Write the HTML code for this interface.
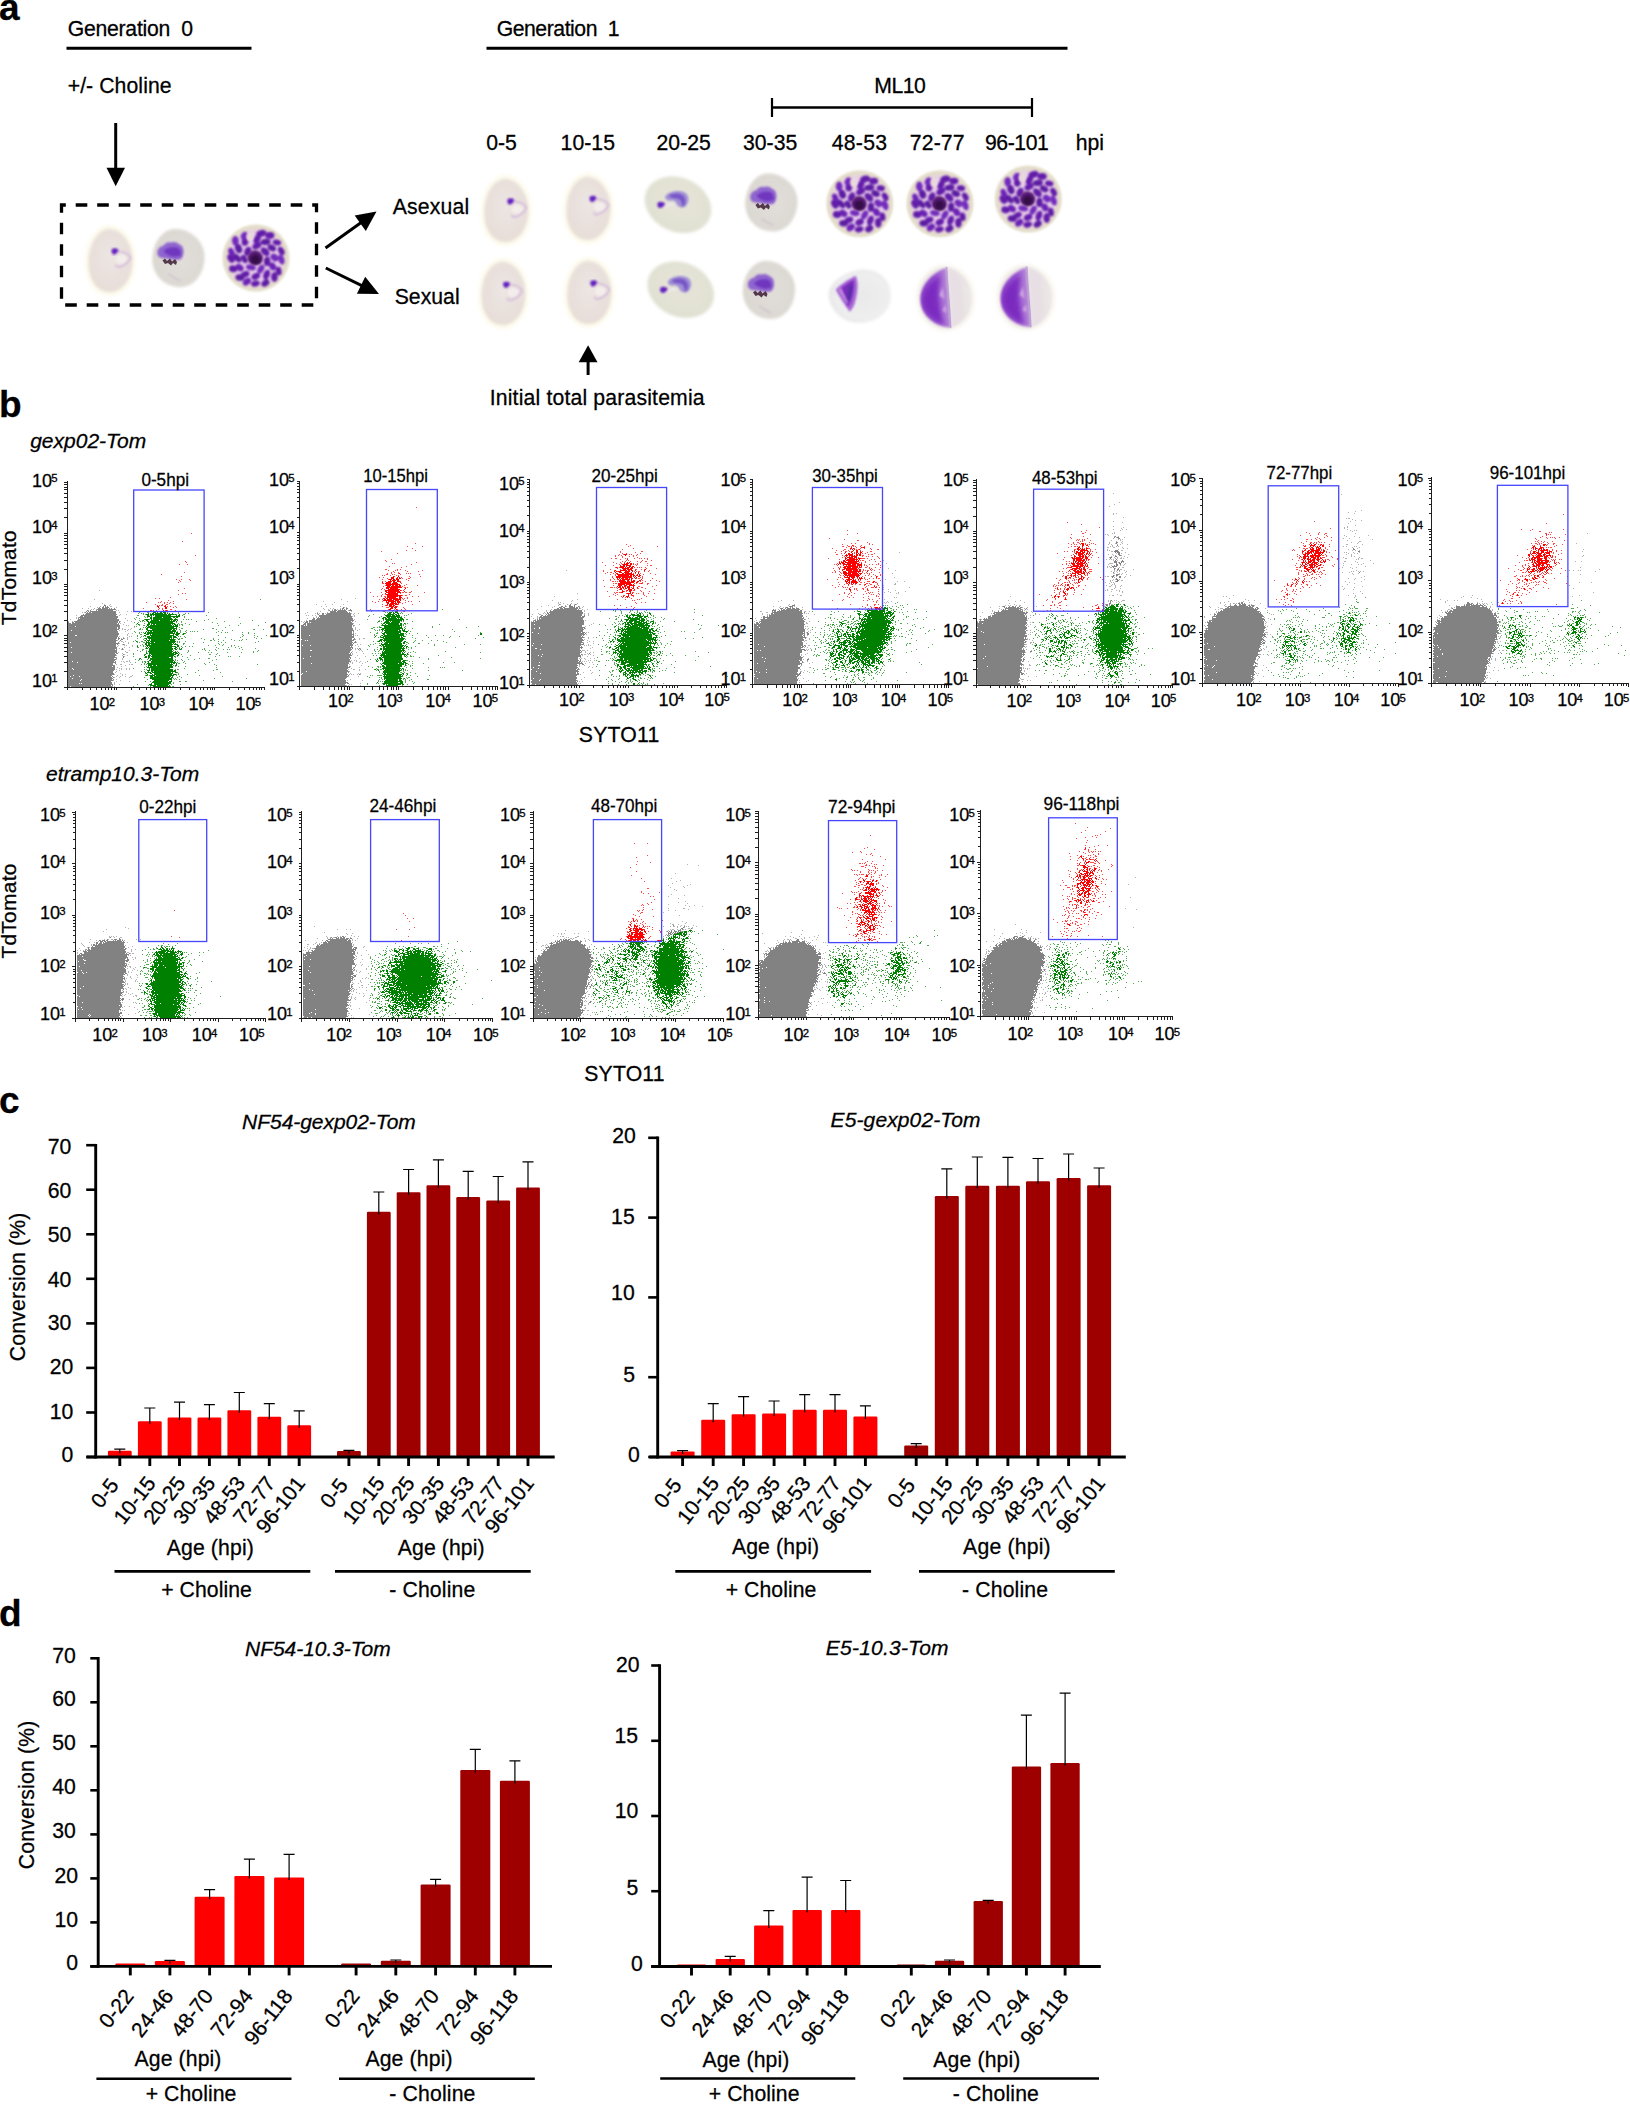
<!DOCTYPE html>
<html lang="en"><head><meta charset="utf-8"><title>Figure</title>
<style>html,body{margin:0;padding:0;background:#fff;}body{width:1630px;height:2104px;overflow:hidden;font-family:"Liberation Sans",Arial,sans-serif;}svg{display:block;}svg text{stroke:#000;stroke-width:.28px;}</style></head>
<body>
<svg width="1630" height="2104" viewBox="0 0 1630 2104" font-family="'Liberation Sans', Arial, sans-serif" fill="#000">
<defs><filter id="b05" x="-20%" y="-20%" width="140%" height="140%"><feGaussianBlur stdDeviation="0.5"/></filter><filter id="b08" x="-20%" y="-20%" width="140%" height="140%"><feGaussianBlur stdDeviation="0.8"/></filter><filter id="b1" x="-20%" y="-20%" width="140%" height="140%"><feGaussianBlur stdDeviation="1"/></filter><filter id="b15" x="-20%" y="-20%" width="140%" height="140%"><feGaussianBlur stdDeviation="1.5"/></filter><filter id="b2" x="-20%" y="-20%" width="140%" height="140%"><feGaussianBlur stdDeviation="2"/></filter><radialGradient id="gRing" cx=".5" cy=".45" r=".6"><stop offset="0" stop-color="#ece5e2"/><stop offset=".75" stop-color="#e8dfdb"/><stop offset="1" stop-color="#e7ddd4"/></radialGradient><radialGradient id="gTroph" cx=".5" cy=".45" r=".6"><stop offset="0" stop-color="#e6e4d9"/><stop offset=".8" stop-color="#e1e1d3"/><stop offset="1" stop-color="#dde0ce"/></radialGradient><radialGradient id="gLate" cx=".55" cy=".5" r=".6"><stop offset="0" stop-color="#e2deda"/><stop offset=".8" stop-color="#dcd8d2"/><stop offset="1" stop-color="#d6d2ca"/></radialGradient><radialGradient id="gGam1" cx=".55" cy=".5" r=".6"><stop offset="0" stop-color="#e9e9ea"/><stop offset=".7" stop-color="#eeeeef"/><stop offset="1" stop-color="#e4e4e6"/></radialGradient><linearGradient id="gGam2" x1="0" x2="1"><stop offset="0" stop-color="#8a3fc9"/><stop offset=".6" stop-color="#9652cf"/><stop offset="1" stop-color="#b78ad8"/></linearGradient><linearGradient id="gGam2r" x1="0" x2="1"><stop offset="0" stop-color="#e9dfe6"/><stop offset=".5" stop-color="#e6dfe3"/><stop offset="1" stop-color="#eeeae8"/></linearGradient><g id="schiz"><circle r="33.5" fill="#e3ddc7" filter="url(#b1)"/><circle r="28.5" fill="#e7cfe8" filter="url(#b2)"/><g filter="url(#b08)"><ellipse cx="11.1" cy="3.4" rx="4.7" ry="3.2" fill="#5c1aa2" transform="rotate(93 11.1 3.4)"/><ellipse cx="4.9" cy="11.1" rx="4.8" ry="3.0" fill="#722cbc" transform="rotate(120 4.9 11.1)"/><ellipse cx="-5.1" cy="9.4" rx="4.9" ry="2.9" fill="#722cbc" transform="rotate(189 -5.1 9.4)"/><ellipse cx="-11.8" cy="1.0" rx="4.4" ry="2.9" fill="#5c1aa2" transform="rotate(236 -11.8 1.0)"/><ellipse cx="-8.2" cy="-6.7" rx="4.8" ry="3.4" fill="#621ea8" transform="rotate(293 -8.2 -6.7)"/><ellipse cx="0.8" cy="-12.2" rx="4.8" ry="3.2" fill="#641cac" transform="rotate(330 0.8 -12.2)"/><ellipse cx="9.1" cy="-6.3" rx="5.2" ry="3.4" fill="#621ea8" transform="rotate(405 9.1 -6.3)"/><ellipse cx="18.5" cy="-0.5" rx="4.3" ry="3.4" fill="#722cbc" transform="rotate(43 18.5 -0.5)"/><ellipse cx="16.6" cy="8.4" rx="4.2" ry="3.3" fill="#6c24b6" transform="rotate(60 16.6 8.4)"/><ellipse cx="10.6" cy="16.7" rx="5.2" ry="3.1" fill="#641cac" transform="rotate(111 10.6 16.7)"/><ellipse cx="-0.2" cy="18.4" rx="4.5" ry="3.1" fill="#641cac" transform="rotate(154 -0.2 18.4)"/><ellipse cx="-10.8" cy="16.2" rx="4.4" ry="3.0" fill="#641cac" transform="rotate(160 -10.8 16.2)"/><ellipse cx="-16.4" cy="9.6" rx="4.4" ry="3.2" fill="#6c24b6" transform="rotate(214 -16.4 9.6)"/><ellipse cx="-18.8" cy="0.2" rx="5.2" ry="2.9" fill="#5c1aa2" transform="rotate(229 -18.8 0.2)"/><ellipse cx="-17.4" cy="-9.4" rx="4.6" ry="3.4" fill="#5c1aa2" transform="rotate(249 -17.4 -9.4)"/><ellipse cx="-10.9" cy="-16.7" rx="4.5" ry="3.4" fill="#621ea8" transform="rotate(277 -10.9 -16.7)"/><ellipse cx="0.9" cy="-18.8" rx="4.4" ry="3.3" fill="#641cac" transform="rotate(306 0.9 -18.8)"/><ellipse cx="9.6" cy="-16.1" rx="5.2" ry="3.2" fill="#5c1aa2" transform="rotate(353 9.6 -16.1)"/><ellipse cx="15.8" cy="-10.2" rx="4.5" ry="3.0" fill="#5c1aa2" transform="rotate(388 15.8 -10.2)"/><ellipse cx="25.3" cy="1.6" rx="5.1" ry="3.0" fill="#722cbc" transform="rotate(71 25.3 1.6)"/><ellipse cx="22.7" cy="13.1" rx="4.3" ry="2.9" fill="#621ea8" transform="rotate(81 22.7 13.1)"/><ellipse cx="18.4" cy="19.0" rx="5.0" ry="3.3" fill="#621ea8" transform="rotate(89 18.4 19.0)"/><ellipse cx="9.4" cy="25.1" rx="4.3" ry="3.2" fill="#5c1aa2" transform="rotate(148 9.4 25.1)"/><ellipse cx="-0.6" cy="25.6" rx="4.4" ry="2.9" fill="#621ea8" transform="rotate(167 -0.6 25.6)"/><ellipse cx="-9.1" cy="23.8" rx="4.5" ry="3.2" fill="#6c24b6" transform="rotate(143 -9.1 23.8)"/><ellipse cx="-16.1" cy="19.5" rx="4.5" ry="3.3" fill="#5c1aa2" transform="rotate(182 -16.1 19.5)"/><ellipse cx="-22.8" cy="10.8" rx="4.2" ry="3.4" fill="#621ea8" transform="rotate(186 -22.8 10.8)"/><ellipse cx="-25.0" cy="0.5" rx="4.7" ry="3.3" fill="#621ea8" transform="rotate(241 -25.0 0.5)"/><ellipse cx="-24.5" cy="-5.8" rx="4.6" ry="2.9" fill="#6c24b6" transform="rotate(246 -24.5 -5.8)"/><ellipse cx="-20.6" cy="-17.2" rx="4.9" ry="3.4" fill="#722cbc" transform="rotate(267 -20.6 -17.2)"/><ellipse cx="-11.7" cy="-22.2" rx="4.2" ry="3.3" fill="#722cbc" transform="rotate(297 -11.7 -22.2)"/><ellipse cx="5.2" cy="-24.6" rx="5.2" ry="3.4" fill="#621ea8" transform="rotate(344 5.2 -24.6)"/><ellipse cx="13.8" cy="-22.6" rx="4.6" ry="3.4" fill="#641cac" transform="rotate(360 13.8 -22.6)"/><ellipse cx="20.9" cy="-15.5" rx="4.3" ry="2.9" fill="#641cac" transform="rotate(369 20.9 -15.5)"/><ellipse cx="25.3" cy="-7.0" rx="4.5" ry="2.9" fill="#621ea8" transform="rotate(421 25.3 -7.0)"/></g><ellipse cx="-6" cy="-21" rx="3.6" ry="4.4" fill="#ead9dc" filter="url(#b1)"/><path d="M-8 -3 c2 -5 8 -6 12 -3 c4 3 4 9 0 12 c-4 2 -9 1 -11 -2 c-2 -2 -2 -5 -1 -7z" fill="#5a1c78" filter="url(#b1)"/><circle cx="-0.5" cy="1.5" r="5" fill="#36104a" filter="url(#b1)"/></g><g id="gam2"><ellipse rx="28.5" ry="32.5" fill="#f3f0e6" filter="url(#b2)"/><ellipse rx="25.5" ry="30" fill="#ebe3e8" filter="url(#b1)"/><path d="M3 -30 C-12 -26 -25 -14 -25 1 C-25 16 -13 27 3 30 Z" fill="url(#gGam2)" filter="url(#b1)"/><path d="M-3 -22 C-13 -18 -22 -9 -22 2 C-22 13 -13 22 -3 26 C-9 12 -9 -10 -3 -22Z" fill="#7420bc" opacity=".8" filter="url(#b2)"/><path d="M-6 -3 l4 -8 l1 12z M-4 12 l4 -5 l0 8z" fill="#d9b8e6" opacity=".8" filter="url(#b08)"/><path d="M3.5 -31 C2 -12 4 12 3 30" stroke="#b79ad0" stroke-width="1.6" fill="none" filter="url(#b05)"/><path d="M5.5 -29 C5 -12 7 12 5 29 C17 24 24 12 24 0 C24 -13 16 -24 5.5 -29Z" fill="url(#gGam2r)" filter="url(#b1)"/></g></defs>
<text x="-1.0" y="20.0" font-size="37" font-weight="bold">a</text>
<text x="67.7" y="36.0" font-size="21.2" textLength="125.4" lengthAdjust="spacing">Generation&#160; 0</text>
<line x1="66.5" y1="48.2" x2="251.5" y2="48.2" stroke="#000" stroke-width="3.1"/>
<text x="67.7" y="93.0" font-size="21.2" textLength="103.9" lengthAdjust="spacing">+/- Choline</text>
<line x1="115.7" y1="123.0" x2="115.7" y2="169.7" stroke="#000" stroke-width="3"/><polygon points="115.7,186.2 106.5,167.7 125.0,167.7"/>
<rect x="61.5" y="205" width="255" height="100" fill="none" stroke="#000" stroke-width="3.3" stroke-dasharray="11.6 9.9" stroke-dashoffset="7.3"/>
<g transform="translate(110.5 260.5)"><path d="M-2 -35 C12 -36 25 -20 25 0 C25 20 14 35 -1 35 C-15 35 -25 22 -25 2 C-25 -18 -15 -34 -2 -35Z" fill="#fcf9e9" filter="url(#b2)"/><path d="M-2 -31.5 C10 -32.5 22 -18 22 0 C22 18 12 31.5 -1 31.5 C-13 31.5 -22 20 -22 2 C-22 -16 -13 -30.5 -2 -31.5Z" fill="url(#gRing)" filter="url(#b15)"/><ellipse cx="11.1" cy="-1.3" rx="5.5" ry="4.5" fill="#f4efee" opacity=".9" filter="url(#b1)"/><path d="M7.6 -9.3 c6 0 11 3 12.5 6.5 c-1 4 -7 8.5 -12 9.5 c-1.5 0 -2.5 -1 -3 -2.5" fill="none" stroke="#cfb0dc" stroke-width="1.5" opacity=".85" filter="url(#b08)"/><path d="M1.4 -11.2 c2 -1.6 5.5 -1 6.5 0.8 c-0.5 2.5 -2.5 4.3 -4.5 4.6 c-2 -0.6 -3 -3.4 -2 -5.4z" fill="#6420c0" filter="url(#b08)"/></g>
<g transform="translate(178.5 258.0)"><path d="M-4 -29 C10 -30 26 -18 26 -1 C26 15 16 29 2 29 C-12 29 -24 20 -26 4 C-27 -12 -18 -28 -4 -29Z" fill="url(#gLate)" filter="url(#b15)"/><g transform="translate(0 2.5)"><path d="M-21 -6 c-1 -5 2 -8 6 -9 c2 -3 5 -4 8 -3 c3 -1 6 0 8 2 c3 1 4 4 4 7 c0 4 -1 6 -3 8 c-5 1 -10 0 -14 -1 c-5 0 -8 -1 -9 -4z" fill="#8f66cf" filter="url(#b1)"/><path d="M-15 -9 c3 -4 8 -5 13 -4 c4 1 5 5 4 8 c-5 2 -12 1 -17 -4z" fill="#6a2ebc" opacity=".85" filter="url(#b1)"/><path d="M-16 0 l2.5 -2 l2 2.5 l3 -2.5 l2 3 l3 -2.5 l2 3 l-1 3 l-3 -2 l-2 2.5 l-3 -2.5 l-3 1z" fill="#3b1f33" opacity=".85" filter="url(#b05)"/></g><path d="M-10 16 c4 3 8 5 12 7" stroke="#bfa8cc" stroke-width="1.3" fill="none" opacity=".55" filter="url(#b08)"/></g>
<use href="#schiz" x="256" y="258"/>
<line x1="325.5" y1="248.0" x2="361.9" y2="222.0" stroke="#000" stroke-width="3"/><polygon points="376.5,211.5 365.8,230.9 354.7,215.4"/>
<line x1="325.8" y1="268.0" x2="362.8" y2="286.1" stroke="#000" stroke-width="3"/><polygon points="379.0,294.0 356.9,293.8 365.2,276.7"/>
<text x="392.7" y="214.0" font-size="21.2" textLength="76.4" lengthAdjust="spacing">Asexual</text>
<text x="394.7" y="304.0" font-size="21.2" textLength="64.9" lengthAdjust="spacing">Sexual</text>
<text x="496.7" y="36.0" font-size="21.2" textLength="122.9" lengthAdjust="spacing">Generation&#160; 1</text>
<line x1="486.5" y1="48.2" x2="1067.5" y2="48.2" stroke="#000" stroke-width="3.1"/>
<text x="874.3" y="93.0" font-size="21.2" textLength="51.5" lengthAdjust="spacing">ML10</text>
<line x1="772.0" y1="107.5" x2="1032.0" y2="107.5" stroke="#000" stroke-width="2.4"/>
<line x1="772.0" y1="98.0" x2="772.0" y2="117.0" stroke="#000" stroke-width="2.2"/>
<line x1="1032.0" y1="98.0" x2="1032.0" y2="117.0" stroke="#000" stroke-width="2.2"/>
<text x="486.3" y="150.0" font-size="21.2" textLength="30.6" lengthAdjust="spacing">0-5</text>
<text x="560.6" y="150.0" font-size="21.2" textLength="54.4" lengthAdjust="spacing">10-15</text>
<text x="656.5" y="150.0" font-size="21.2" textLength="54.4" lengthAdjust="spacing">20-25</text>
<text x="742.9" y="150.0" font-size="21.2" textLength="54.4" lengthAdjust="spacing">30-35</text>
<text x="831.7" y="150.0" font-size="21.2" textLength="55.3" lengthAdjust="spacing">48-53</text>
<text x="909.8" y="150.0" font-size="21.2" textLength="54.8" lengthAdjust="spacing">72-77</text>
<text x="984.9" y="150.0" font-size="21.2" textLength="63.9" lengthAdjust="spacing">96-101</text>
<text x="1075.8" y="150.0" font-size="21.2" textLength="28.1" lengthAdjust="spacing">hpi</text>
<g transform="translate(506.3 210.5)"><path d="M-2 -35 C12 -36 25 -20 25 0 C25 20 14 35 -1 35 C-15 35 -25 22 -25 2 C-25 -18 -15 -34 -2 -35Z" fill="#fcf9e9" filter="url(#b2)"/><path d="M-2 -31.5 C10 -32.5 22 -18 22 0 C22 18 12 31.5 -1 31.5 C-13 31.5 -22 20 -22 2 C-22 -16 -13 -30.5 -2 -31.5Z" fill="url(#gRing)" filter="url(#b15)"/><ellipse cx="11.1" cy="-1.3" rx="5.5" ry="4.5" fill="#f4efee" opacity=".9" filter="url(#b1)"/><path d="M7.6 -9.3 c6 0 11 3 12.5 6.5 c-1 4 -7 8.5 -12 9.5 c-1.5 0 -2.5 -1 -3 -2.5" fill="none" stroke="#cfb0dc" stroke-width="1.5" opacity=".85" filter="url(#b08)"/><path d="M1.4 -11.2 c2 -1.6 5.5 -1 6.5 0.8 c-0.5 2.5 -2.5 4.3 -4.5 4.6 c-2 -0.6 -3 -3.4 -2 -5.4z" fill="#6420c0" filter="url(#b08)"/></g>
<g transform="translate(588.5 208.5)"><path d="M-2 -35 C12 -36 25 -20 25 0 C25 20 14 35 -1 35 C-15 35 -25 22 -25 2 C-25 -18 -15 -34 -2 -35Z" fill="#fcf9e9" filter="url(#b2)"/><path d="M-2 -31.5 C10 -32.5 22 -18 22 0 C22 18 12 31.5 -1 31.5 C-13 31.5 -22 20 -22 2 C-22 -16 -13 -30.5 -2 -31.5Z" fill="url(#gRing)" filter="url(#b15)"/><ellipse cx="11.1" cy="-1.8" rx="5.5" ry="4.5" fill="#f4efee" opacity=".9" filter="url(#b1)"/><path d="M7.6 -9.8 c6 0 11 3 12.5 6.5 c-1 4 -7 8.5 -12 9.5 c-1.5 0 -2.5 -1 -3 -2.5" fill="none" stroke="#cfb0dc" stroke-width="1.5" opacity=".85" filter="url(#b08)"/><path d="M1.4 -11.7 c2 -1.6 5.5 -1 6.5 0.8 c-0.5 2.5 -2.5 4.3 -4.5 4.6 c-2 -0.6 -3 -3.4 -2 -5.4z" fill="#6420c0" filter="url(#b08)"/></g>
<g transform="translate(678.0 204.7)"><ellipse rx="34.5" ry="27" fill="url(#gTroph)" filter="url(#b15)" transform="rotate(24)"/><path d="M-13 -8 c3 -5 12 -7 18 -5 c6 2 7 9 3 14 c-3 3 -7 2 -9 -1 c-1 -3 -3 -5 -7 -4 c-3 0 -5 -2 -5 -4z" fill="#9a86d6" opacity=".9" filter="url(#b1)"/><path d="M-9 -9 c4 -3 11 -3 14 0 c3 3 3 8 0 11 c-2 -3 -1 -7 -5 -8 c-3 -1 -7 0 -9 -3z" fill="#6f4cc4" opacity=".85" filter="url(#b1)"/><path d="M-14 2 l9 -3" stroke="#efe9ee" stroke-width="3" opacity=".8" filter="url(#b1)"/><path d="M-20 -2.2 c2 -1.4 5.5 -0.6 7 1.2 c-0.8 2.4 -3 4.2 -5.5 4.2 c-2.2 -0.8 -2.8 -3.4 -1.5 -5.4z" fill="#6420c0" filter="url(#b08)"/></g>
<g transform="translate(771.4 202.5)"><path d="M-4 -29 C10 -30 26 -18 26 -1 C26 15 16 29 2 29 C-12 29 -24 20 -26 4 C-27 -12 -18 -28 -4 -29Z" fill="url(#gLate)" filter="url(#b15)"/><g transform="translate(0 2.5)"><path d="M-21 -6 c-1 -5 2 -8 6 -9 c2 -3 5 -4 8 -3 c3 -1 6 0 8 2 c3 1 4 4 4 7 c0 4 -1 6 -3 8 c-5 1 -10 0 -14 -1 c-5 0 -8 -1 -9 -4z" fill="#8f66cf" filter="url(#b1)"/><path d="M-15 -9 c3 -4 8 -5 13 -4 c4 1 5 5 4 8 c-5 2 -12 1 -17 -4z" fill="#6a2ebc" opacity=".85" filter="url(#b1)"/><path d="M-16 0 l2.5 -2 l2 2.5 l3 -2.5 l2 3 l3 -2.5 l2 3 l-1 3 l-3 -2 l-2 2.5 l-3 -2.5 l-3 1z" fill="#3b1f33" opacity=".85" filter="url(#b05)"/></g><path d="M-10 16 c4 3 8 5 12 7" stroke="#bfa8cc" stroke-width="1.3" fill="none" opacity=".55" filter="url(#b08)"/></g>
<use href="#schiz" x="859.8" y="203.7"/>
<use href="#schiz" x="940" y="203.7"/>
<use href="#schiz" x="1028.3" y="199"/>
<g transform="translate(503.5 293.5)"><path d="M-2 -35 C12 -36 25 -20 25 0 C25 20 14 35 -1 35 C-15 35 -25 22 -25 2 C-25 -18 -15 -34 -2 -35Z" fill="#fcf9e9" filter="url(#b2)"/><path d="M-2 -31.5 C10 -32.5 22 -18 22 0 C22 18 12 31.5 -1 31.5 C-13 31.5 -22 20 -22 2 C-22 -16 -13 -30.5 -2 -31.5Z" fill="url(#gRing)" filter="url(#b15)"/><ellipse cx="9.7" cy="-1.0" rx="5.5" ry="4.5" fill="#f4efee" opacity=".9" filter="url(#b1)"/><path d="M6.2 -9.0 c6 0 11 3 12.5 6.5 c-1 4 -7 8.5 -12 9.5 c-1.5 0 -2.5 -1 -3 -2.5" fill="none" stroke="#cfb0dc" stroke-width="1.5" opacity=".85" filter="url(#b08)"/><path d="M0.0 -10.9 c2 -1.6 5.5 -1 6.5 0.8 c-0.5 2.5 -2.5 4.3 -4.5 4.6 c-2 -0.6 -3 -3.4 -2 -5.4z" fill="#6420c0" filter="url(#b08)"/></g>
<g transform="translate(589.3 292.5)"><path d="M-2 -35 C12 -36 25 -20 25 0 C25 20 14 35 -1 35 C-15 35 -25 22 -25 2 C-25 -18 -15 -34 -2 -35Z" fill="#fcf9e9" filter="url(#b2)"/><path d="M-2 -31.5 C10 -32.5 22 -18 22 0 C22 18 12 31.5 -1 31.5 C-13 31.5 -22 20 -22 2 C-22 -16 -13 -30.5 -2 -31.5Z" fill="url(#gRing)" filter="url(#b15)"/><ellipse cx="11.1" cy="-1.3" rx="5.5" ry="4.5" fill="#f4efee" opacity=".9" filter="url(#b1)"/><path d="M7.6 -9.3 c6 0 11 3 12.5 6.5 c-1 4 -7 8.5 -12 9.5 c-1.5 0 -2.5 -1 -3 -2.5" fill="none" stroke="#cfb0dc" stroke-width="1.5" opacity=".85" filter="url(#b08)"/><path d="M1.4 -11.2 c2 -1.6 5.5 -1 6.5 0.8 c-0.5 2.5 -2.5 4.3 -4.5 4.6 c-2 -0.6 -3 -3.4 -2 -5.4z" fill="#6420c0" filter="url(#b08)"/></g>
<g transform="translate(680.7 289.7)"><ellipse rx="34.5" ry="27" fill="url(#gTroph)" filter="url(#b15)" transform="rotate(24)"/><path d="M-13 -8 c3 -5 12 -7 18 -5 c6 2 7 9 3 14 c-3 3 -7 2 -9 -1 c-1 -3 -3 -5 -7 -4 c-3 0 -5 -2 -5 -4z" fill="#9a86d6" opacity=".9" filter="url(#b1)"/><path d="M-9 -9 c4 -3 11 -3 14 0 c3 3 3 8 0 11 c-2 -3 -1 -7 -5 -8 c-3 -1 -7 0 -9 -3z" fill="#6f4cc4" opacity=".85" filter="url(#b1)"/><path d="M-14 2 l9 -3" stroke="#efe9ee" stroke-width="3" opacity=".8" filter="url(#b1)"/><path d="M-20 -2.2 c2 -1.4 5.5 -0.6 7 1.2 c-0.8 2.4 -3 4.2 -5.5 4.2 c-2.2 -0.8 -2.8 -3.4 -1.5 -5.4z" fill="#6420c0" filter="url(#b08)"/></g>
<g transform="translate(769.0 290.0)"><path d="M-4 -29 C10 -30 26 -18 26 -1 C26 15 16 29 2 29 C-12 29 -24 20 -26 4 C-27 -12 -18 -28 -4 -29Z" fill="url(#gLate)" filter="url(#b15)"/><g transform="translate(0 2.5)"><path d="M-21 -6 c-1 -5 2 -8 6 -9 c2 -3 5 -4 8 -3 c3 -1 6 0 8 2 c3 1 4 4 4 7 c0 4 -1 6 -3 8 c-5 1 -10 0 -14 -1 c-5 0 -8 -1 -9 -4z" fill="#8f66cf" filter="url(#b1)"/><path d="M-15 -9 c3 -4 8 -5 13 -4 c4 1 5 5 4 8 c-5 2 -12 1 -17 -4z" fill="#6a2ebc" opacity=".85" filter="url(#b1)"/><path d="M-16 0 l2.5 -2 l2 2.5 l3 -2.5 l2 3 l3 -2.5 l2 3 l-1 3 l-3 -2 l-2 2.5 l-3 -2.5 l-3 1z" fill="#3b1f33" opacity=".85" filter="url(#b05)"/></g><path d="M-10 16 c4 3 8 5 12 7" stroke="#bfa8cc" stroke-width="1.3" fill="none" opacity=".55" filter="url(#b08)"/></g>
<g transform="translate(859.7 295.8)"><path d="M-31 1 c-1 -9 6 -17 14 -21 c8 -5 20 -8 30 -5 c10 3 18 12 18 24 c1 12 -8 22 -19 26 c-9 3 -21 3 -28 -2 c-8 -5 -14 -13 -15 -22z" fill="url(#gGam1)" filter="url(#b15)"/><path d="M-24 -6 c4 -5 12 -10 20 -14 c3 6 2 16 0 24 c-1 5 -3 9 -6 12 c-4 -6 -10 -14 -14 -22z" fill="#a866d6" filter="url(#b1)"/><path d="M-18 -8 c4 -3 8 -6 12 -8 c1 6 0 13 -2 19 c-1 3 -2 6 -4 8 c-2 -6 -4 -13 -6 -19z" fill="#7228b8" opacity=".9" filter="url(#b1)"/><path d="M-8 -10 l-4 15" stroke="#33308f" stroke-width="2" opacity=".7" filter="url(#b08)"/><path d="M-20 -7 l8 14" stroke="#e8c6ea" stroke-width="1.5" opacity=".7" filter="url(#b08)"/></g>
<use href="#gam2" transform="translate(945.4 298) rotate(-4)"/>
<use href="#gam2" transform="translate(1025.6 297.5) rotate(-4)"/>
<line x1="588.1" y1="375.0" x2="588.1" y2="360.2" stroke="#000" stroke-width="3"/><polygon points="588.1,345.2 597.5,362.2 578.7,362.2"/>
<text x="489.7" y="405.0" font-size="21.2" textLength="214.9" lengthAdjust="spacing">Initial total parasitemia</text>
<text x="-1.0" y="417.3" font-size="37" font-weight="bold">b</text>
<text x="-1.0" y="1113.0" font-size="37" font-weight="bold">c</text>
<text x="-1.0" y="1625.5" font-size="37" font-weight="bold">d</text>
<text x="30.2" y="448.0" font-size="21" font-style="italic">gexp02-Tom</text>
<text x="46.0" y="781.3" font-size="21" font-style="italic">etramp10.3-Tom</text>
<path d="M104 605.5h2m-3 1h1m1 0h1m1 0h1m-9 1h1m2 0h2m1 0h4m-11 1h3m1 0h6m1 0h1m1 0h1m2 0h1m-18 1h19m-29 1h1m2 0h1m5 0h1m1 0h15m-27 1h1m1 0h1m1 0h26m-31 1h1m1 0h1m1 0h2m1 0h24m-30 1h30m-33 1h1m1 0h32m-36 1h35m-36 1h3m1 0h34m-39 1h39m-40 1h1m1 0h37m-39 1h41m-42 1h42m-45 1h44m1 0h1m-52 1h1m3 0h2m1 0h43m1 0h1m-52 1h3m1 0h45m1 0h1m-51 1h51m-51 1h52m-52 1h7m1 0h44m-52 1h49m1 0h2m-52 1h49m1 0h2m-52 1h51m-51 1h3m1 0h45m-49 1h50m-50 1h50m-50 1h51m-51 1h51m-51 1h7m2 0h41m-50 1h50m-50 1h49m1 0h1m-51 1h49m1 0h2m3 0h1m-56 1h48m2 0h1m2 0h2m-55 1h49m3 0h1m-53 1h48m-48 1h2m1 0h45m2 0h1m-51 1h51m-51 1h48m1 0h1m5 0h1m-56 1h48m-48 1h48m-48 1h3m1 0h45m-49 1h49m5 0h1m-55 1h47m1 0h1m5 0h1m-55 1h49m-49 1h49m-49 1h3m1 0h45m-49 1h47m1 0h2m-50 1h48m7 0h1m-56 1h48m-48 1h47m8 0h1m-56 1h48m7 0h1m-56 1h46m2 0h1m-49 1h48m-48 1h47m-47 1h4m1 0h41m1 0h1m-48 1h9m1 0h38m-48 1h45m2 0h1m-48 1h45m-45 1h47m-47 1h44m1 0h2m-47 1h47m-47 1h4m1 0h42m-47 1h5m1 0h41m-47 1h46m-46 1h45m-45 1h45m-45 1h46m-46 1h46m-46 1h5m1 0h38m-44 1h2m1 0h8m1 0h31m1 0h1m-45 1h44m1 0h1m-46 1h4m1 0h40m-45 1h13m1 0h30m1 0h1m-46 1h12m1 0h32m-45 1h43m-43 1h44m-44 1h11m1 0h1m1 0h30m-44 1h45m-45 1h43m1 0h1m-45 1h2m1 0h41" stroke="#828282" stroke-width="1" fill="none" shape-rendering="crispEdges"/>
<path d="M99 590.5h1m-6 9h1m7 4h1m1 1h1m5 0h1m-2 1h1m-20 1h1m9 0h1m9 0h2m-15 1h1m18 0h1m-35 1h1m5 0h1m5 0h1m-4 1h1m1 0h1m2 0h1m-9 1h1m27 0h1m1 0h1m8 1h1m3 0h1m-50 1h1m1 0h1m34 0h1m0 2h1m5 0h1m-51 1h1m42 0h1m-44 2h1m1 0h1m-3 1h1m48 0h1m-56 1h1m56 1h1m-60 1h1m3 0h1m47 0h1m10 0h1m-8 1h1m-5 1h1m2 1h1m2 1h1m1 0h1m5 2h1m-13 1h1m8 0h1m-10 1h1m1 0h2m2 0h1m1 0h1m-12 1h1m7 0h1m-3 1h1m2 2h1m3 0h1m-6 1h1m-1 1h1m-9 1h1m9 0h1m1 0h1m-9 1h1m3 0h1m-7 1h1m2 0h1m2 0h1m-1 1h1m-11 1h1m1 1h1m1 0h2m2 0h1m-3 1h1m4 0h1m-10 1h1m8 0h1m-7 1h1m1 0h1m-7 1h1m5 0h1m1 0h1m5 0h1m-16 1h1m14 0h1m-9 1h1m4 0h1m-11 1h1m1 1h1m1 0h1m5 1h1m-5 1h1m-8 1h1m7 0h2m-6 1h1m1 1h1m-9 1h1m5 0h1m4 0h1m-4 1h1m-9 1h1m5 1h1m-7 1h1m5 0h1m6 1h1m-9 1h1m1 0h1m2 0h2m1 0h1m-6 1h1m5 0h1m-15 2h1m3 0h2m7 0h1m1 0h2m-8 1h1m-5 1h1m-5 1h1m1 1h1m1 0h1m4 0h1m2 0h1m-14 1h1m4 0h1m4 0h1m2 0h1m-11 1h1m-4 1h1m-2 1h1m4 1h1m-7 1h1m7 0h1m2 0h1m-9 1h1m4 0h1m9 0h1m-17 1h1m3 0h1m4 0h1m4 0h2m-18 1h1m4 0h1m9 0h1m-14 2h1m-4 1h1m6 0h1m-5 1h1m12 0h1m-16 1h1m-1 1h1m-1 1h1m4 0h1m-8 2h1m1 0h1" stroke="#828282" stroke-width="1" fill="none" shape-rendering="crispEdges" opacity="0.62"/>
<path d="M153 612.5h3m1 0h1m2 0h2m1 0h3m-18 1h1m3 0h2m1 0h8m1 0h2m1 0h1m1 0h1m2 0h1m-27 1h3m1 0h17m1 0h6m1 0h1m3 0h1m-33 1h2m1 0h2m1 0h1m1 0h16m5 0h1m1 0h2m-33 1h3m1 0h1m3 0h25m-30 1h2m1 0h9m1 0h8m2 0h2m1 0h2m-28 1h2m1 0h19m3 0h1m-31 1h4m2 0h1m1 0h20m1 0h3m-34 1h1m2 0h2m3 0h8m1 0h10m1 0h1m1 0h3m1 0h1m-31 1h2m1 0h25m1 0h1m-29 1h25m-36 1h1m10 0h2m1 0h24m-37 1h1m8 0h3m1 0h1m1 0h2m1 0h15m1 0h1m1 0h2m1 0h1m-31 1h2m1 0h22m1 0h1m1 0h3m-32 1h1m1 0h30m-31 1h27m2 0h1m-31 1h2m2 0h27m-31 1h2m4 0h20m1 0h2m1 0h1m-30 1h24m1 0h4m-30 1h1m1 0h1m1 0h2m1 0h23m-31 1h1m1 0h26m1 0h1m1 0h2m-34 1h2m1 0h28m1 0h4m3 0h2m-39 1h3m1 0h1m1 0h18m3 0h1m1 0h4m4 0h1m-40 1h2m4 0h24m2 0h2m-31 1h3m1 0h21m1 0h3m-29 1h25m1 0h4m-32 1h2m1 0h22m1 0h1m1 0h1m-28 1h1m2 0h1m1 0h24m3 0h1m-34 1h1m1 0h3m1 0h18m1 0h5m-39 1h1m9 0h1m1 0h1m1 0h26m-30 1h4m1 0h3m1 0h20m-30 1h2m1 0h24m1 0h1m1 0h1m-31 1h2m1 0h2m1 0h22m1 0h4m-32 1h26m5 0h2m-42 1h1m9 0h1m1 0h24m1 0h2m1 0h2m-33 1h1m1 0h1m1 0h22m3 0h2m-31 1h2m1 0h24m1 0h2m3 0h1m1 0h1m-33 1h24m2 0h2m3 0h1m-32 1h23m-24 1h25m2 0h1m-30 1h1m2 0h23m1 0h4m1 0h1m-33 1h1m2 0h25m1 0h3m-33 1h1m3 0h1m1 0h25m2 0h1m-35 1h1m3 0h3m1 0h22m3 0h2m-34 1h2m1 0h2m1 0h22m1 0h1m-30 1h2m1 0h2m2 0h17m2 0h2m-33 1h1m7 0h1m1 0h23m-34 1h1m10 0h23m-24 1h2m1 0h22m-26 1h1m2 0h22m1 0h1m-30 1h1m2 0h1m2 0h25m-29 1h23m1 0h1m1 0h2m1 0h1m-29 1h25m3 0h1m-29 1h4m1 0h3m1 0h15m3 0h2m-29 1h1m1 0h23m-26 1h26m-24 1h1m1 0h19m-21 1h1m1 0h22m-26 1h3m1 0h22m1 0h2m-28 1h1m2 0h2m1 0h22m-31 1h1m1 0h4m1 0h19m1 0h1m2 0h2m-31 1h1m3 0h2m2 0h19m-26 1h1m4 0h1m1 0h18m1 0h3m-30 1h1m3 0h5m1 0h18m-24 1h3m1 0h17m1 0h1m-23 1h20m1 0h2m-23 1h22m-20 1h20m-18 1h15m2 0h1m-19 1h15m1 0h3m-20 1h19m-20 1h1m2 0h17m-22 1h3m2 0h15m-19 1h6m1 0h11m1 0h1m-17 1h17" stroke="#008000" stroke-width="1" fill="none" shape-rendering="crispEdges"/>
<path d="M260 599.5h1m-122 13h1m7 0h2m18 0h1m10 0h1m29 0h1m-71 1h1m2 0h1m1 0h1m6 0h1m27 0h1m6 0h1m2 0h1m-46 1h1m1 0h1m28 0h1m1 0h1m6 0h2m-48 1h2m43 0h1m23 0h1m-63 1h1m39 0h1m-49 1h1m8 0h1m1 0h1m36 0h1m54 0h1m-106 1h1m4 0h1m76 0h1m-82 1h1m8 0h1m4 0h1m27 0h1m5 0h1m2 0h1m1 0h1m2 0h1m16 0h1m-70 1h1m2 0h1m61 0h1m47 0h1m-113 1h1m1 0h1m1 0h1m36 0h1m14 0h1m27 0h1m-91 1h1m3 0h1m37 0h1m4 0h1m30 0h1m52 0h1m-122 1h1m33 0h1m6 0h1m31 0h1m22 0h1m-105 1h1m2 0h1m39 0h1m1 0h2m6 0h1m-51 1h1m3 0h2m34 0h1m2 0h1m35 0h1m10 0h1m8 0h1m19 0h1m-125 1h1m1 0h1m6 1h1m1 0h1m33 0h1m45 0h1m-86 1h1m40 0h2m29 0h2m-75 1h2m1 0h1m36 0h1m23 0h1m12 0h1m36 0h2m8 0h1m-84 1h1m5 0h1m35 0h1m9 0h1m-99 1h1m42 0h1m2 0h1m4 0h1m4 0h1m1 0h1m1 0h1m2 0h1m20 0h1m-84 1h1m3 0h1m1 0h1m1 0h1m36 0h1m5 0h1m29 0h1m4 0h1m3 0h1m1 0h1m14 0h1m5 0h1m-110 1h1m45 0h1m62 0h1m5 0h1m-115 1h2m40 0h1m59 0h1m-106 1h1m80 0h1m24 0h1m10 0h1m11 0h1m-130 1h1m3 0h1m1 0h1m1 0h1m32 0h1m1 0h1m3 0h1m57 0h1m14 0h1m-118 1h1m44 0h1m39 0h1m14 0h1m13 0h1m-118 1h1m6 0h1m32 0h1m1 0h1m1 0h2m18 0h1m11 0h1m42 0h1m4 0h1m-119 1h1m31 0h1m3 0h1m24 0h1m8 0h1m4 0h1m12 0h1m10 0h1m3 0h1m-112 1h1m8 0h1m65 0h2m2 0h1m8 0h1m10 0h1m4 0h1m1 0h1m-109 1h1m3 0h1m3 0h2m34 0h1m1 0h1m5 0h1m32 0h1m39 0h1m-122 1h1m1 0h1m3 0h2m32 0h1m1 0h1m23 0h1m17 0h1m3 0h1m29 0h1m-73 1h2m8 0h1m24 0h1m-77 1h1m40 0h1m35 0h1m3 0h1m-87 1h1m2 0h1m2 0h1m64 0h1m6 0h1m6 0h1m8 0h1m2 0h1m-92 1h1m1 0h1m27 0h1m7 0h1m3 0h1m3 0h1m2 0h1m38 0h1m6 0h1m-102 1h2m40 0h1m2 0h1m33 0h1m11 0h1m6 0h1m5 0h1m-97 1h1m31 0h1m26 0h1m13 0h1m20 0h1m15 0h1m-114 1h2m35 0h1m1 0h1m20 0h1m1 0h1m10 0h1m7 0h1m3 0h1m1 0h1m12 0h1m-106 1h1m4 0h1m3 0h1m26 0h1m14 0h1m16 0h1m3 0h1m6 0h1m41 0h1m-119 1h1m5 0h1m30 0h1m10 0h1m64 0h1m3 0h1m-71 1h1m10 0h1m9 0h1m2 0h1m15 0h1m13 0h1m11 0h1m-121 1h1m13 0h1m31 0h1m37 0h1m-85 1h1m10 0h1m36 0h1m27 0h2m5 0h1m-27 1h1m28 0h1m-87 1h1m41 0h1m1 0h1m4 0h1m32 0h1m12 0h1m1 0h1m8 0h1m-96 1h1m30 0h1m11 0h1m-49 1h1m59 0h1m8 0h2m-75 1h1m5 0h1m5 0h1m27 0h1m5 0h1m6 0h1m5 0h1m21 0h1m-79 1h1m36 0h1m1 0h1m4 0h1m29 0h1m-71 1h1m1 0h2m1 0h1m36 0h1m-50 1h1m6 0h1m34 0h1m5 0h1m25 0h1m-66 1h1m33 0h2m5 0h1m18 0h1m-64 1h1m2 0h1m1 0h1m58 0h1m8 0h1m42 0h1m-85 1h1m42 0h1m-71 1h1m28 0h1m2 0h1m6 0h1m-42 1h1m71 0h1m-84 1h1m50 0h1m-41 1h1m1 0h1m28 0h1m1 0h2m37 0h2m-20 1h1m14 0h1m-73 1h1m2 0h1m32 1h1m17 0h1m24 0h1m-76 1h1m32 0h1m-3 1h1m1 0h1m8 0h1m-43 1h1m1 0h1m1 0h1m26 0h1m22 0h1m-21 1h1m42 0h1m-79 1h1m32 0h1m3 0h1m-9 1h1m1 0h1m38 0h1m31 0h1m-100 1h1m26 0h1m1 0h1m2 0h1m23 1h1m-59 1h1m4 0h1m28 0h2m4 0h2m45 0h1m-60 1h1m-1 1h1m-37 1h1m33 0h1m8 0h1m-33 1h1m-16 1h1m16 0h1m19 0h1m1 0h2" stroke="#008000" stroke-width="1" fill="none" shape-rendering="crispEdges" opacity="0.68"/>
<path d="M165 605.5h1m-9 1h2m5 0h2m-8 1h1m6 0h2m-2 1h2m-4 2h1m2 0h1" stroke="#ff0000" stroke-width="1" fill="none" shape-rendering="crispEdges"/>
<path d="M191 533.5h1m-10 8h1m12 14h1m-11 6h1m0 1h1m-8 2h1m7 0h1m-4 8h1m-24 2h1m19 2h1m-6 3h1m4 0h1m7 0h1m-11 1h1m10 0h1m-11 1h1m-3 1h1m5 6h1m-7 2h1m3 3h1m2 0h1m-8 1h1m-9 3h1m-16 1h1m3 0h1m26 1h1m-19 1h1m-8 1h1m11 0h1m-28 1h1m11 0h1m1 0h1m3 0h1m2 0h1m2 0h1m-7 1h1m4 0h1m3 0h1m-19 1h1m6 0h1m3 0h2m-11 1h1m1 0h1m1 0h2m4 1h1m2 0h1m4 0h1m-3 1h1m2 0h1m-34 1h1m15 0h1m2 0h1m-5 1h1m3 0h1m7 0h2m-22 1h2m1 0h1m2 0h1m8 0h1m1 0h1m7 0h1m-28 1h1m2 0h1m5 0h1m2 0h1m1 0h2m3 0h1m1 0h1m3 0h1" stroke="#ff0000" stroke-width="1" fill="none" shape-rendering="crispEdges" opacity="0.72"/>
<path d="M67.3 481.0V687.1H264.5M67.3 482.0h-3.3M67.3 517.8h-3.1M67.3 508.8h-3.1M67.3 502.4h-3.1M67.3 497.4h-3.1M67.3 493.4h-3.1M67.3 489.9h-3.1M67.3 487.0h-3.1M67.3 484.3h-3.1M67.3 533.3h-3.3M67.3 569.1h-3.1M67.3 560.1h-3.1M67.3 553.7h-3.1M67.3 548.7h-3.1M67.3 544.7h-3.1M67.3 541.2h-3.1M67.3 538.2h-3.1M67.3 535.6h-3.1M67.3 584.5h-3.3M67.3 620.4h-3.1M67.3 611.4h-3.1M67.3 605.0h-3.1M67.3 600.0h-3.1M67.3 595.9h-3.1M67.3 592.5h-3.1M67.3 589.5h-3.1M67.3 586.9h-3.1M67.3 635.8h-3.3M67.3 671.7h-3.1M67.3 662.6h-3.1M67.3 656.2h-3.1M67.3 651.3h-3.1M67.3 647.2h-3.1M67.3 643.8h-3.1M67.3 640.8h-3.1M67.3 638.2h-3.1M67.3 687.1h-3.3M67.3 687.1v3.3M82.1 687.1v3.0M90.8 687.1v3.0M96.9 687.1v3.0M101.7 687.1v3.0M105.6 687.1v3.0M108.9 687.1v3.0M111.7 687.1v3.0M114.2 687.1v3.0M116.5 687.1v3.3M131.3 687.1v3.0M139.9 687.1v3.0M146.1 687.1v3.0M150.8 687.1v3.0M154.7 687.1v3.0M158.0 687.1v3.0M160.9 687.1v3.0M163.4 687.1v3.0M165.6 687.1v3.3M180.5 687.1v3.0M189.1 687.1v3.0M195.3 687.1v3.0M200.0 687.1v3.0M203.9 687.1v3.0M207.2 687.1v3.0M210.1 687.1v3.0M212.6 687.1v3.0M214.8 687.1v3.3M229.6 687.1v3.0M238.3 687.1v3.0M244.4 687.1v3.0M249.2 687.1v3.0M253.1 687.1v3.0M256.4 687.1v3.0M259.2 687.1v3.0M261.7 687.1v3.0M264.0 687.1v3.3" stroke="#1e1e1e" stroke-width="1" fill="none" shape-rendering="crispEdges"/>
<rect x="133.7" y="490.0" width="70.4" height="121.5" fill="none" stroke="#4646ff" stroke-width="1.3"/>
<text x="32.1" y="486.6" font-size="18">10<tspan font-size="11.4" dy="-4.3" dx="-.8">5</tspan></text>
<text x="32.1" y="533.0" font-size="18">10<tspan font-size="11.4" dy="-4.3" dx="-.8">4</tspan></text>
<text x="32.1" y="584.0" font-size="18">10<tspan font-size="11.4" dy="-4.3" dx="-.8">3</tspan></text>
<text x="32.1" y="637.0" font-size="18">10<tspan font-size="11.4" dy="-4.3" dx="-.8">2</tspan></text>
<text x="32.1" y="686.5" font-size="18">10<tspan font-size="11.4" dy="-4.3" dx="-.8">1</tspan></text>
<text x="89.6" y="710.0" font-size="18">10<tspan font-size="11.4" dy="-4.3" dx="-.8">2</tspan></text>
<text x="139.4" y="710.0" font-size="18">10<tspan font-size="11.4" dy="-4.3" dx="-.8">3</tspan></text>
<text x="188.4" y="710.0" font-size="18">10<tspan font-size="11.4" dy="-4.3" dx="-.8">4</tspan></text>
<text x="235.6" y="710.0" font-size="18">10<tspan font-size="11.4" dy="-4.3" dx="-.8">5</tspan></text>
<text x="141.4" y="485.8" font-size="18.6" textLength="47.6" lengthAdjust="spacingAndGlyphs">0-5hpi</text>
<path d="M343 607.5h1m-2 1h2m2 0h2m-14 1h2m4 0h1m1 0h1m1 0h1m1 0h1m3 0h1m-22 1h1m2 0h1m1 0h3m1 0h8m3 0h3m-22 1h6m1 0h10m-17 1h18m1 0h1m-33 1h1m4 0h2m3 0h24m-33 1h1m3 0h2m2 0h25m-32 1h32m-32 1h33m-34 1h1m1 0h32m-39 1h2m2 0h36m-41 1h3m1 0h37m-44 1h45m-48 1h2m1 0h42m1 0h1m-48 1h3m1 0h1m1 0h41m-48 1h2m1 0h46m-50 1h3m1 0h46m-52 1h3m1 0h1m1 0h45m1 0h1m-53 1h51m-51 1h51m-51 1h52m-52 1h52m-52 1h53m-53 1h51m1 0h1m-53 1h51m-51 1h51m1 0h1m-53 1h53m-53 1h8m1 0h42m1 0h1m-53 1h53m-53 1h53m-53 1h51m2 0h1m-53 1h50m1 0h2m-54 1h4m1 0h1m1 0h46m-53 1h51m3 0h1m-55 1h52m1 0h2m-55 1h51m1 0h1m-53 1h52m-52 1h1m1 0h7m1 0h42m-52 1h49m1 0h1m-51 1h52m-52 1h50m1 0h1m6 0h1m-59 1h51m6 0h1m1 0h1m-60 1h9m2 0h39m-50 1h49m-49 1h49m1 0h1m-51 1h48m1 0h1m-50 1h50m-50 1h51m-51 1h9m1 0h39m-49 1h50m-50 1h2m1 0h45m1 0h1m-50 1h49m-49 1h49m-49 1h50m-50 1h48m-48 1h10m1 0h37m-48 1h47m-47 1h47m-47 1h47m1 0h1m-49 1h49m-49 1h47m-47 1h46m-46 1h47m-47 1h5m1 0h42m-48 1h46m1 0h1m-48 1h1m1 0h44m-45 1h46m11 0h1m-59 1h46m1 0h1m-48 1h47m-47 1h46m-46 1h45m-45 1h44m-44 1h45m-45 1h45m-45 1h47m-47 1h45m1 0h2m-48 1h44m-44 1h45m-45 1h45" stroke="#828282" stroke-width="1" fill="none" shape-rendering="crispEdges"/>
<path d="M355 598.5h1m-15 1h1m-19 2h1m23 0h1m-14 1h1m-19 2h1m8 0h1m6 0h1m10 0h1m-23 2h1m4 0h1m13 0h1m3 1h1m1 0h1m-24 1h1m6 0h1m2 0h1m6 0h1m-17 1h1m3 0h1m3 0h1m4 0h1m-10 1h1m19 0h1m-29 1h1m30 0h1m-45 1h1m9 0h1m9 0h1m-23 1h1m9 0h1m3 0h1m5 0h1m25 0h1m2 0h1m3 0h1m-42 1h1m35 0h1m-48 1h1m1 0h1m3 0h1m2 0h1m38 0h1m-39 1h1m35 0h1m1 0h1m-42 1h1m2 0h1m-10 1h1m46 1h1m-49 1h1m-6 1h1m2 0h1m50 0h1m-53 1h1m49 1h1m5 1h1m-6 1h1m-2 1h1m1 1h1m-1 1h1m-1 1h1m3 0h1m-3 1h1m-5 2h1m1 1h1m-1 2h1m1 0h1m1 3h1m3 0h2m-10 1h1m3 0h1m-4 3h1m0 2h1m2 0h1m-6 1h1m2 1h1m-4 2h1m1 0h1m2 0h1m-6 1h1m3 1h1m1 0h1m-10 1h1m9 0h1m-7 1h1m-5 1h1m10 0h1m-12 1h1m4 1h1m7 1h1m-11 1h1m3 1h1m-9 2h1m2 0h1m1 0h1m-1 1h1m3 0h1m-11 1h1m1 0h1m6 0h1m5 0h1m-14 1h1m9 0h1m-14 1h1m11 1h1m-12 1h1m8 1h1m-9 1h1m-4 1h1m4 0h2m4 0h1m5 0h1m-7 1h1m-11 1h1m0 2h1m7 0h1m1 0h1m-12 1h1m1 0h1m1 0h1m3 0h1m2 0h1m-13 2h1m9 0h1m-9 3h1m-4 1h1m14 0h1m-3 3h1m-12 1h1m1 0h1m-6 1h1m1 0h1m11 0h1m1 1h1" stroke="#828282" stroke-width="1" fill="none" shape-rendering="crispEdges" opacity="0.62"/>
<path d="M395 611.5h2m-8 1h3m1 0h1m1 0h3m-10 1h3m2 0h2m2 0h2m-12 1h7m1 0h2m1 0h1m-14 1h6m1 0h3m1 0h4m-14 1h14m-17 1h3m1 0h3m1 0h5m1 0h5m-20 1h2m1 0h2m1 0h9m1 0h1m1 0h3m-20 1h1m1 0h19m-18 1h16m1 0h1m-26 1h1m6 0h4m1 0h1m1 0h8m-16 1h6m1 0h9m-17 1h2m1 0h13m1 0h2m2 0h1m-23 1h1m2 0h1m2 0h11m1 0h2m-20 1h20m-18 1h16m1 0h1m-22 1h1m3 0h18m-20 1h21m-22 1h3m1 0h15m2 0h1m1 0h1m-23 1h1m1 0h14m1 0h2m1 0h3m-20 1h16m2 0h5m-24 1h17m5 0h1m-25 1h3m1 0h13m1 0h4m76 0h2m-99 1h2m2 0h17m76 0h2m-100 1h1m1 0h20m-29 1h1m4 0h1m2 0h17m1 0h1m1 0h2m-24 1h3m1 0h15m1 0h2m-20 1h22m-25 1h3m1 0h20m-25 1h3m1 0h20m-25 1h2m1 0h1m2 0h1m1 0h16m2 0h2m-21 1h16m2 0h2m-24 1h1m2 0h4m1 0h13m1 0h2m-24 1h21m-22 1h1m1 0h2m1 0h19m1 0h1m-23 1h20m1 0h1m1 0h2m-25 1h2m1 0h16m1 0h1m2 0h1m-27 1h2m1 0h22m-25 1h2m1 0h18m1 0h2m-21 1h1m1 0h20m-23 1h1m1 0h18m1 0h1m-22 1h19m1 0h1m1 0h1m-23 1h19m1 0h2m3 0h1m-27 1h4m1 0h20m1 0h1m-28 1h22m2 0h1m1 0h1m-26 1h1m1 0h19m3 0h1m-27 1h2m1 0h20m-23 1h3m2 0h19m-26 1h1m2 0h3m1 0h19m-27 1h1m5 0h1m1 0h17m2 0h3m-29 1h1m6 0h17m1 0h3m-22 1h19m1 0h3m-24 1h16m1 0h5m1 0h2m-26 1h1m2 0h20m1 0h1m-24 1h2m2 0h16m3 0h1m-24 1h3m1 0h16m-19 1h17m-18 1h19m1 0h1m-28 1h1m1 0h1m5 0h1m1 0h15m1 0h1m1 0h1m-26 1h1m5 0h17m-18 1h17m-17 1h16m-15 1h2m1 0h12m3 0h2m-21 1h19m1 0h1m3 0h1m-24 1h1m1 0h15m1 0h1m-20 1h19m-18 1h17m-17 1h18m2 0h1m-21 1h1m1 0h12m1 0h2m-16 1h13m1 0h3m-18 1h19m-26 1h1m6 0h14m2 0h3m-20 1h20m-20 1h2m1 0h1m1 0h13m1 0h2m-18 1h12m-13 1h2m1 0h10" stroke="#008000" stroke-width="1" fill="none" shape-rendering="crispEdges"/>
<path d="M442 609.5h1m-72 2h1m11 0h1m8 0h1m-8 1h1m1 0h1m13 0h1m-2 1h1m1 0h1m8 0h1m-39 1h1m10 0h1m23 0h1m-40 1h1m34 0h1m1 0h1m-39 1h1m12 0h1m19 0h1m-23 1h1m24 0h1m-38 2h1m38 0h2m51 0h1m-81 1h1m3 0h1m-5 1h1m1 0h1m19 0h1m1 0h1m8 0h1m-36 1h1m3 1h1m23 0h1m1 0h1m-5 1h1m1 0h1m33 0h1m-59 1h1m21 0h1m-25 1h1m25 0h1m26 0h1m45 0h1m-106 1h2m2 0h1m1 0h1m1 0h1m22 0h1m27 0h1m33 0h1m-96 1h2m32 0h1m6 0h1m-39 1h1m4 0h1m72 0h1m-78 1h1m1 0h1m1 0h1m28 0h1m-27 1h1m27 0h1m43 0h1m-85 1h1m6 0h1m3 0h1m98 0h1m-105 1h2m27 0h1m3 0h1m7 0h1m-44 1h1m31 0h1m-33 1h1m1 0h1m4 0h1m30 0h1m13 0h1m8 0h1m7 0h1m34 0h1m-74 1h1m44 0h1m8 0h1m-86 1h1m3 0h1m1 0h1m31 0h1m15 0h1m20 0h1m33 0h1m-69 1h1m59 0h1m-71 1h1m9 1h1m6 0h1m8 0h1m5 0h1m-65 1h1m3 0h1m36 0h1m28 0h1m-62 1h1m23 0h2m5 0h1m32 0h1m-72 1h1m3 0h1m28 0h1m9 0h2m8 0h1m-59 1h1m2 0h1m32 0h1m27 0h1m29 0h1m15 0h1m-113 1h1m10 0h1m54 0h1m-66 1h1m11 0h1m33 0h1m-39 1h1m30 0h1m2 0h1m43 0h1m-50 1h1m4 0h1m-45 1h1m6 0h1m2 0h1m30 0h1m-35 1h1m4 0h1m-5 1h1m2 0h1m26 0h1m7 0h1m31 0h1m-38 1h1m1 0h1m4 0h1m64 0h1m-109 1h1m2 0h1m2 0h1m1 0h1m27 1h1m-36 1h1m2 0h1m33 0h1m27 0h1m-35 1h1m2 0h1m2 0h2m1 0h1m-8 1h1m12 0h1m31 0h1m-75 1h1m50 0h1m51 0h1m-111 1h1m4 0h1m52 0h1m-51 1h1m1 0h1m25 0h2m-41 1h1m8 0h1m5 0h1m26 0h1m2 0h1m30 1h1m10 0h1m-75 1h1m26 0h1m4 0h1m10 0h1m-16 1h1m-3 1h1m3 0h1m1 0h1m-45 1h1m8 0h2m1 0h1m23 0h1m5 0h1m-39 1h1m5 0h1m1 0h1m25 0h1m21 0h1m11 0h1m1 0h1m1 0h1m-69 1h1m26 0h1m8 0h1m-39 1h1m3 0h1m1 0h2m23 0h1m-30 1h1m24 0h1m1 0h1m1 0h1m1 0h1m20 0h1m33 0h1m-84 1h1m23 0h1m-25 1h1m20 0h2m2 0h1m5 0h1m-29 1h1m23 0h2m7 0h1m-46 2h1m1 0h1m4 0h5m24 0h1m3 0h1m18 0h1m-63 1h1m34 0h1m14 0h1m-49 1h1m9 0h1m1 0h1m24 0h1m1 0h2m-29 1h1m21 0h1m3 0h1m-29 1h1m2 0h1m20 0h1m1 0h1m5 0h1m15 0h2m-51 1h1m26 0h1m3 0h1m-32 1h1m1 0h1m1 0h1m22 0h1m6 0h1m-8 1h1m8 0h1m-48 1h1m8 0h1m1 0h1m3 0h1m30 0h1m-47 1h1m39 0h1m-29 1h1m22 0h1m-20 1h2m13 0h1m1 0h1m3 0h1" stroke="#008000" stroke-width="1" fill="none" shape-rendering="crispEdges" opacity="0.68"/>
<path d="M399 573.5h1m-7 3h1m4 0h1m-8 1h3m3 0h1m1 0h1m-9 1h3m2 0h2m1 0h2m-12 1h3m1 0h2m1 0h3m-9 1h1m1 0h4m1 0h2m-11 1h4m1 0h2m2 0h3m-18 1h1m3 0h5m2 0h4m3 0h1m-16 1h6m1 0h6m-12 1h14m-14 1h5m1 0h2m1 0h3m1 0h2m-14 1h3m1 0h10m-15 1h16m-16 1h3m1 0h8m7 0h1m-18 1h12m-15 1h14m1 0h1m-16 1h2m1 0h12m4 0h1m-19 1h10m1 0h4m-16 1h1m2 0h10m-12 1h12m-11 1h15m-15 1h11m1 0h2m-16 1h1m1 0h9m3 0h3m-19 1h2m1 0h2m1 0h9m1 0h2m-17 1h2m1 0h5m1 0h8m-18 1h11m1 0h4m1 0h1m-15 1h1m1 0h8m1 0h3m-14 1h3m2 0h3m1 0h1m1 0h3m-13 1h2m1 0h7m1 0h1m-12 1h1m1 0h5m1 0h3m-12 1h1m2 0h3m1 0h2m-6 1h5m1 0h2m-6 1h2m1 0h3m-7 1h3m2 0h1m-7 1h2m5 0h1m0 1h1" stroke="#ff0000" stroke-width="1" fill="none" shape-rendering="crispEdges"/>
<path d="M416 507.5h1m-2 36h1m-9 3h1m14 0h1m-11 2h1m-7 2h1m8 0h1m-35 1h1m15 2h1m-7 6h1m-7 1h1m0 1h1m29 1h1m-25 1h1m1 0h1m16 1h1m-23 2h1m16 0h1m-6 1h1m-17 2h2m10 0h1m2 0h1m-13 1h1m6 0h1m1 0h1m7 0h1m16 0h1m-30 1h1m13 0h1m10 0h1m-28 1h1m2 0h1m3 0h1m-12 1h1m3 0h1m6 0h1m7 0h1m1 0h1m1 0h1m-25 1h2m4 0h1m1 0h1m5 0h1m18 0h1m-38 1h1m1 0h1m5 0h1m5 0h1m1 0h1m-5 1h1m14 0h1m10 0h1m-42 1h1m3 0h1m17 0h1m8 0h1m-24 1h1m14 0h1m5 0h2m-28 1h1m5 0h1m17 0h1m1 1h1m-27 1h1m2 0h1m14 0h1m-19 2h2m17 0h1m4 1h1m-22 1h1m18 0h1m12 0h1m-35 1h1m18 0h1m1 1h2m1 0h1m-26 1h1m-2 1h1m2 0h1m19 0h1m-4 1h1m1 0h1m7 1h1m-42 1h1m10 0h1m20 0h2m1 0h2m2 0h2m13 0h1m-25 1h1m-19 1h1m2 0h1m23 0h1m-29 1h1m20 0h1m2 0h2m-34 1h1m3 0h1m3 0h1m2 0h2m26 0h1m5 0h1m-12 1h1m-6 1h1m1 0h1m2 0h1m-29 1h1m2 0h1m20 0h1m1 1h1m-34 1h1m5 0h1m3 0h1m25 0h1m2 0h1m7 0h1m-45 1h1m24 0h1m4 0h1m-4 1h1m-21 1h1m15 0h1m13 0h1m-28 1h1m1 0h1m-6 1h1m14 0h1m-12 1h3m14 0h1m0 1h1m-35 1h1m17 0h1m5 0h1m2 0h1m3 0h1m3 0h1m-28 1h1m6 0h1m5 0h3m-10 1h1m12 0h1m5 0h2" stroke="#ff0000" stroke-width="1" fill="none" shape-rendering="crispEdges" opacity="0.72"/>
<path d="M299.9 480.5V686.8H497.9M299.9 481.5h-3.3M299.9 517.4h-3.1M299.9 508.3h-3.1M299.9 501.9h-3.1M299.9 497.0h-3.1M299.9 492.9h-3.1M299.9 489.5h-3.1M299.9 486.5h-3.1M299.9 483.8h-3.1M299.9 532.8h-3.3M299.9 568.7h-3.1M299.9 559.7h-3.1M299.9 553.2h-3.1M299.9 548.3h-3.1M299.9 544.2h-3.1M299.9 540.8h-3.1M299.9 537.8h-3.1M299.9 535.2h-3.1M299.9 584.1h-3.3M299.9 620.0h-3.1M299.9 611.0h-3.1M299.9 604.6h-3.1M299.9 599.6h-3.1M299.9 595.5h-3.1M299.9 592.1h-3.1M299.9 589.1h-3.1M299.9 586.5h-3.1M299.9 635.5h-3.3M299.9 671.3h-3.1M299.9 662.3h-3.1M299.9 655.9h-3.1M299.9 650.9h-3.1M299.9 646.9h-3.1M299.9 643.4h-3.1M299.9 640.4h-3.1M299.9 637.8h-3.1M299.9 686.8h-3.3M299.9 686.8v3.3M314.8 686.8v3.0M323.5 686.8v3.0M329.6 686.8v3.0M334.4 686.8v3.0M338.3 686.8v3.0M341.6 686.8v3.0M344.5 686.8v3.0M347.0 686.8v3.0M349.3 686.8v3.3M364.1 686.8v3.0M372.8 686.8v3.0M379.0 686.8v3.0M383.8 686.8v3.0M387.7 686.8v3.0M391.0 686.8v3.0M393.9 686.8v3.0M396.4 686.8v3.0M398.6 686.8v3.3M413.5 686.8v3.0M422.2 686.8v3.0M428.4 686.8v3.0M433.2 686.8v3.0M437.1 686.8v3.0M440.4 686.8v3.0M443.2 686.8v3.0M445.8 686.8v3.0M448.0 686.8v3.3M462.9 686.8v3.0M471.6 686.8v3.0M477.8 686.8v3.0M482.5 686.8v3.0M486.4 686.8v3.0M489.8 686.8v3.0M492.6 686.8v3.0M495.1 686.8v3.0M497.4 686.8v3.3" stroke="#1e1e1e" stroke-width="1" fill="none" shape-rendering="crispEdges"/>
<rect x="366.5" y="489.5" width="70.8" height="121.3" fill="none" stroke="#4646ff" stroke-width="1.3"/>
<text x="268.9" y="485.8" font-size="18">10<tspan font-size="11.4" dy="-4.3" dx="-.8">5</tspan></text>
<text x="268.9" y="533.0" font-size="18">10<tspan font-size="11.4" dy="-4.3" dx="-.8">4</tspan></text>
<text x="268.9" y="583.7" font-size="18">10<tspan font-size="11.4" dy="-4.3" dx="-.8">3</tspan></text>
<text x="268.9" y="637.0" font-size="18">10<tspan font-size="11.4" dy="-4.3" dx="-.8">2</tspan></text>
<text x="268.9" y="685.0" font-size="18">10<tspan font-size="11.4" dy="-4.3" dx="-.8">1</tspan></text>
<text x="328.1" y="706.5" font-size="18">10<tspan font-size="11.4" dy="-4.3" dx="-.8">2</tspan></text>
<text x="377.1" y="706.5" font-size="18">10<tspan font-size="11.4" dy="-4.3" dx="-.8">3</tspan></text>
<text x="425.2" y="706.5" font-size="18">10<tspan font-size="11.4" dy="-4.3" dx="-.8">4</tspan></text>
<text x="472.4" y="706.5" font-size="18">10<tspan font-size="11.4" dy="-4.3" dx="-.8">5</tspan></text>
<text x="363.2" y="482.3" font-size="18.6" textLength="64.7" lengthAdjust="spacingAndGlyphs">10-15hpi</text>
<path d="M559 604.5h1m10 0h1m4 0h1m-7 1h2m3 0h1m-14 1h2m2 0h1m3 0h4m1 0h1m3 0h1m-20 1h3m1 0h2m4 0h6m1 0h2m1 0h1m-23 1h2m1 0h3m1 0h14m1 0h1m-26 1h23m1 0h1m-29 1h1m2 0h29m-32 1h32m-35 1h1m1 0h34m-36 1h2m1 0h33m-37 1h1m1 0h34m-41 1h2m2 0h1m1 0h35m2 0h1m-45 1h2m1 0h38m1 0h3m-46 1h45m-45 1h1m1 0h42m-46 1h1m1 0h44m-49 1h2m1 0h47m-51 1h1m1 0h49m-53 1h53m-53 1h53m-53 1h3m1 0h49m-53 1h51m-51 1h51m-51 1h8m1 0h45m-54 1h3m1 0h4m1 0h43m1 0h1m-54 1h53m-53 1h52m-52 1h52m-52 1h1m1 0h48m1 0h3m-54 1h7m1 0h45m1 0h1m-55 1h54m-54 1h51m1 0h1m-53 1h50m1 0h1m-52 1h53m-53 1h51m-51 1h52m-52 1h53m-53 1h51m-51 1h52m-52 1h2m1 0h47m2 0h1m-53 1h10m1 0h42m-53 1h1m1 0h48m-50 1h49m1 0h1m-51 1h52m-52 1h4m2 0h43m1 0h1m-51 1h9m1 0h39m-49 1h50m-50 1h49m1 0h1m-51 1h50m-50 1h49m9 0h1m-59 1h11m1 0h37m1 0h1m-51 1h7m1 0h42m-50 1h10m1 0h39m-50 1h47m2 0h1m-50 1h47m-47 1h47m2 0h1m-50 1h48m1 0h1m-50 1h47m1 0h2m-50 1h8m1 0h40m1 0h1m-51 1h52m-52 1h46m2 0h1m2 0h2m-53 1h7m2 0h38m-47 1h46m-46 1h2m1 0h44m-47 1h7m1 0h38m1 0h1m-47 1h44m1 0h2m-48 1h47m-47 1h5m1 0h42m-48 1h45m1 0h1m-47 1h9m1 0h35m1 0h2m-48 1h48m-48 1h46m-46 1h45m-45 1h46m-46 1h2m1 0h43m-46 1h9m1 0h35m-44 1h7m1 0h37m-46 1h45m1 0h1m-47 1h46m-45 1h45m-45 1h3m1 0h42" stroke="#828282" stroke-width="1" fill="none" shape-rendering="crispEdges"/>
<path d="M566 570.5h1m29 7h1m-20 16h1m-24 3h1m22 3h1m-26 1h1m19 0h1m-2 1h1m-14 1h1m1 0h1m-3 1h1m4 0h1m7 0h1m5 0h1m-18 1h1m6 0h1m6 0h1m1 0h1m-29 1h1m9 0h1m6 0h1m-25 1h1m12 0h1m11 0h1m12 0h1m3 0h1m-32 1h1m29 0h1m-3 1h1m-44 1h1m13 0h1m30 0h1m4 0h1m-42 1h1m37 0h1m-39 1h1m37 0h1m-41 1h1m-7 1h1m4 0h1m1 0h1m38 0h1m3 0h1m-57 1h1m6 0h2m43 0h1m3 0h1m-1 1h1m-58 1h1m5 0h1m-1 1h1m-5 1h1m3 0h1m-3 1h1m-3 1h1m51 0h1m-55 1h1m61 2h1m-3 1h1m-3 1h1m-5 1h1m-1 2h1m0 4h1m1 0h1m-3 2h1m-3 3h1m3 0h1m4 0h1m-6 1h1m-5 1h1m2 1h1m1 1h1m3 0h1m-11 1h1m3 0h1m5 1h1m-6 1h1m-5 1h1m1 0h1m1 0h1m1 0h1m1 2h1m-3 1h1m-9 2h3m2 0h1m-3 1h1m-5 1h1m3 0h1m4 0h1m2 0h1m-7 1h1m-6 1h1m1 0h2m2 0h1m1 0h1m-9 1h1m10 0h1m-7 1h1m-9 2h1m1 0h1m2 0h1m5 0h1m3 0h1m-10 1h1m2 1h1m1 0h1m3 0h1m-13 1h1m1 0h1m1 0h1m2 1h1m2 0h1m-8 1h1m7 1h1m-15 1h1m4 0h1m-6 1h1m9 0h1m-2 1h1m3 0h1m-14 2h1m10 1h1m-8 2h1m8 0h1m-2 1h1m-12 1h1m3 3h1m-4 2h1m13 0h1m-19 1h1m1 1h1m2 0h1m-5 2h1m1 0h1m-50 1h1" stroke="#828282" stroke-width="1" fill="none" shape-rendering="crispEdges" opacity="0.62"/>
<path d="M639 613.5h2m8 0h2m-20 1h4m2 0h2m1 0h1m9 0h1m-25 1h2m2 0h1m1 0h9m2 0h1m3 0h1m-22 1h2m1 0h1m3 0h1m3 0h6m1 0h4m-21 1h4m1 0h1m2 0h3m1 0h3m2 0h2m-18 1h12m1 0h3m-19 1h4m1 0h10m1 0h4m-24 1h1m4 0h2m1 0h8m2 0h6m2 0h1m-22 1h1m2 0h4m1 0h6m1 0h3m2 0h1m4 0h3m-30 1h2m1 0h5m2 0h8m1 0h4m3 0h1m2 0h1m-31 1h1m1 0h1m1 0h2m1 0h7m1 0h7m1 0h3m3 0h2m-29 1h5m1 0h2m1 0h10m1 0h3m4 0h1m-28 1h1m2 0h3m1 0h18m-35 1h1m8 0h5m1 0h8m1 0h6m1 0h1m1 0h2m-25 1h1m1 0h13m1 0h8m-31 1h1m2 0h2m1 0h1m1 0h16m1 0h6m2 0h2m-35 1h3m1 0h26m1 0h4m3 0h1m-40 1h2m2 0h3m1 0h1m1 0h21m1 0h2m1 0h2m1 0h2m-41 1h1m1 0h1m2 0h2m1 0h27m2 0h2m-34 1h1m1 0h1m1 0h28m-33 1h2m1 0h3m1 0h22m1 0h1m1 0h3m-34 1h31m1 0h2m-37 1h3m1 0h30m3 0h2m-38 1h2m2 0h6m1 0h22m4 0h1m-43 1h1m6 0h3m1 0h27m1 0h4m-42 1h1m1 0h1m2 0h34m1 0h1m-39 1h3m1 0h25m1 0h9m-44 1h1m4 0h30m1 0h3m1 0h1m1 0h3m-47 1h2m1 0h1m4 0h31m1 0h1m1 0h1m2 0h1m-36 1h1m1 0h2m1 0h27m1 0h1m1 0h2m-38 1h1m1 0h35m-38 1h1m1 0h2m1 0h26m1 0h1m3 0h1m-39 1h2m1 0h32m-36 1h1m2 0h8m1 0h20m2 0h3m1 0h1m-45 1h2m5 0h3m1 0h26m1 0h5m1 0h4m-42 1h2m1 0h1m1 0h33m3 0h1m-44 1h2m2 0h2m2 0h30m1 0h2m-39 1h4m1 0h34m-39 1h1m2 0h4m1 0h25m1 0h2m-38 1h4m2 0h3m1 0h25m1 0h3m8 0h1m-48 1h1m1 0h1m1 0h2m1 0h29m1 0h2m-35 1h1m1 0h31m1 0h1m6 0h2m-41 1h1m1 0h28m1 0h1m-33 1h28m1 0h3m-31 1h29m2 0h1m-31 1h3m1 0h27m2 0h2m-42 1h1m3 0h6m1 0h25m1 0h2m1 0h1m-39 1h12m1 0h15m1 0h2m1 0h2m1 0h3m-37 1h1m2 0h1m1 0h3m1 0h26m6 0h1m-37 1h26m10 0h2m-38 1h5m3 0h15m1 0h1m6 0h1m-36 1h2m2 0h4m2 0h10m1 0h9m5 0h1m-36 1h2m5 0h20m2 0h1m1 0h1m4 0h1m-37 1h1m1 0h2m2 0h3m1 0h3m1 0h1m1 0h12m2 0h1m1 0h1m-30 1h2m1 0h3m4 0h14m1 0h1m1 0h1m1 0h2m-32 1h3m2 0h2m1 0h3m2 0h15m1 0h2m-30 1h1m1 0h1m2 0h2m1 0h2m1 0h1m1 0h7m1 0h2m5 0h3m-32 1h1m1 0h2m3 0h12m1 0h4m1 0h3m3 0h1m2 0h1m-35 1h3m3 0h1m1 0h2m1 0h1m1 0h2m1 0h6m1 0h5m-27 1h1m3 0h2m3 0h8m1 0h5m2 0h1m-23 1h1m1 0h2m2 0h2m1 0h1m1 0h1m4 0h1m1 0h2m-20 1h3m1 0h2m2 0h3m2 0h1m2 0h2m-16 1h1m1 0h1m3 0h8m10 0h1m-24 1h1m3 0h4m1 0h1m1 0h2m11 0h1m-24 1h1m1 0h2m2 0h1m17 0h1m-25 1h2m3 0h2m-1 1h3m-1 1h2m-4 3h2m3 0h1m-6 1h2" stroke="#008000" stroke-width="1" fill="none" shape-rendering="crispEdges"/>
<path d="M694 609.5h1m-82 1h1m1 0h1m4 0h1m9 0h1m1 0h1m4 0h1m8 0h1m-47 1h1m14 0h1m5 0h1m8 0h1m6 0h1m6 0h1m-24 1h1m7 0h1m4 0h1m2 0h1m1 0h1m1 0h1m3 0h1m1 0h1m1 0h1m44 0h1m-74 1h1m9 0h1m4 0h1m5 0h1m-18 1h1m1 0h1m15 0h1m3 0h1m-29 1h1m2 0h1m6 0h1m21 0h1m1 0h1m48 0h1m-88 1h2m7 0h1m28 0h1m-36 1h1m29 0h1m1 0h1m4 0h1m5 0h1m-53 1h1m6 0h1m29 0h1m6 0h1m10 0h1m-50 1h2m4 0h1m2 0h1m21 0h1m4 0h1m11 0h1m29 0h1m-46 1h1m4 0h1m-36 1h1m1 0h1m1 0h1m25 0h1m1 0h1m9 0h1m13 0h1m-61 1h1m40 0h1m-41 1h1m3 0h1m2 0h1m26 0h1m5 0h1m-57 1h1m12 0h1m5 0h1m1 0h1m1 0h1m35 0h1m39 0h1m-94 1h1m10 0h1m34 0h1m5 0h1m43 0h1m16 0h1m-105 1h1m3 0h1m33 0h1m1 0h1m7 0h1m-49 1h1m3 0h1m1 0h1m1 0h1m36 0h1m-7 1h1m3 0h1m42 0h1m-94 1h1m2 0h1m4 0h1m43 0h1m39 0h1m-85 1h1m-17 1h1m19 0h1m37 0h2m5 0h1m16 0h1m2 0h1m-78 1h1m6 0h1m1 0h1m43 0h1m33 0h1m-76 1h1m35 0h1m2 0h1m-49 1h1m4 0h1m-17 1h1m4 0h1m10 0h1m1 0h1m39 0h1m7 0h1m-57 1h1m3 0h1m47 0h1m-66 1h1m18 0h1m2 0h1m38 0h1m1 0h1m42 0h1m-101 1h1m6 0h1m75 0h1m7 0h1m-82 1h2m1 0h1m41 0h1m-55 1h1m5 0h1m49 0h1m-46 1h1m56 0h1m-64 1h1m1 0h1m2 0h1m3 0h1m42 0h1m-4 1h1m3 0h1m5 0h1m-70 1h1m7 0h1m4 0h1m3 0h1m41 0h1m3 0h1m8 0h1m-66 1h1m48 0h1m3 0h1m6 0h1m-64 1h1m4 0h1m2 0h1m3 0h1m-9 1h1m50 0h1m1 0h1m4 0h1m-56 1h1m2 0h1m-12 1h1m10 0h1m41 1h1m-54 1h1m4 0h2m1 0h1m3 0h1m42 0h1m2 0h2m1 0h1m32 0h1m-90 1h1m46 0h2m2 0h1m50 0h1m-100 1h1m44 0h1m1 0h1m3 0h1m1 0h1m7 0h1m-70 1h2m9 0h1m-2 1h1m5 0h1m35 0h2m2 0h1m1 0h1m1 0h1m4 0h1m5 0h1m12 0h1m-72 1h1m41 0h1m41 0h1m-102 1h1m16 0h1m1 0h1m35 0h1m-43 1h1m1 0h1m2 0h1m39 0h1m4 0h1m-5 1h1m-61 1h1m9 0h1m1 0h1m3 0h1m1 0h1m41 0h1m6 0h1m31 0h1m-98 1h2m54 0h1m4 0h1m15 0h1m-62 1h1m3 0h2m31 0h1m-38 1h1m1 0h1m36 0h1m2 0h1m4 0h1m-65 1h1m16 0h1m5 0h1m27 0h2m7 0h1m13 0h1m-67 1h1m9 0h1m-20 1h1m56 0h2m1 0h2m52 0h1m-100 1h1m5 0h1m56 0h1m-23 1h1m1 0h1m4 0h1m6 0h1m-51 1h1m1 0h1m33 0h1m-54 1h1m12 0h2m9 0h1m30 0h1m7 0h1m2 0h1m-57 1h1m2 0h1m35 0h1m1 0h1m1 0h1m1 0h1m4 0h1m-50 1h1m12 0h1m28 0h1m21 0h1m-30 1h1m-35 1h2m30 0h1m3 0h2m-50 1h1m11 0h1m7 0h1m3 0h1m5 0h1m10 0h1m4 0h1m4 0h1m1 0h1m-40 1h1m2 0h1m2 0h1m5 0h1m29 0h1m71 0h1m-120 1h1m26 0h1m2 0h1m1 0h1m7 0h1m-30 1h1m20 0h2m2 0h1m5 0h1m1 0h1m-47 1h1m4 0h1m6 0h1m7 0h1m3 0h1m7 0h1m8 0h1m-36 1h1m14 0h1m2 0h1m8 0h1m9 0h1m-42 1h1m6 0h1m5 0h1m4 0h1m3 0h1m1 0h1m4 0h1m-19 1h1m5 0h1m2 0h1m2 0h1m7 0h1m3 0h1m-36 1h1m3 0h1m15 0h1m12 0h1m1 0h1m3 0h1m15 0h1m-52 1h1m5 0h1m7 0h1m10 0h1m1 0h1m2 0h1m2 0h1m1 0h1m6 0h1" stroke="#008000" stroke-width="1" fill="none" shape-rendering="crispEdges" opacity="0.68"/>
<path d="M624 554.5h3m-2 1h1m1 4h1m-1 3h1m1 0h1m-6 1h1m1 0h3m1 0h2m-10 1h6m2 0h2m-12 1h1m2 0h2m1 0h5m-11 1h5m1 0h1m2 0h2m1 0h2m-18 1h1m3 0h4m1 0h1m1 0h3m1 0h2m-11 1h7m1 0h3m-10 1h3m1 0h5m13 0h1m-31 1h1m4 0h7m1 0h2m1 0h2m2 0h1m8 0h1m-31 1h1m1 0h1m1 0h3m4 0h5m2 0h1m-18 1h1m3 0h3m2 0h5m2 0h1m3 0h1m2 0h1m-23 1h2m4 0h2m1 0h7m6 0h1m-22 1h17m3 0h1m1 0h1m-22 1h11m1 0h2m1 0h2m1 0h2m1 0h2m-25 1h16m1 0h1m1 0h1m2 0h2m-24 1h5m1 0h10m2 0h1m1 0h1m-20 1h1m1 0h1m1 0h3m1 0h3m1 0h1m1 0h2m2 0h1m-18 1h1m1 0h1m1 0h8m1 0h1m9 0h1m-23 1h6m2 0h2m2 0h1m1 0h2m4 0h2m-22 1h7m1 0h3m1 0h4m2 0h2m-19 1h14m2 0h2m-20 1h13m10 0h1m-24 1h7m1 0h6m1 0h1m-16 1h4m2 0h3m2 0h6m-18 1h1m1 0h2m1 0h1m1 0h2m1 0h3m3 0h1m-16 1h3m1 0h2m1 0h1m1 0h3m3 0h1m3 0h1m-18 1h2m1 0h1m1 0h2m1 0h2m2 0h2m-14 1h2m6 0h4m2 0h1m-13 1h1m4 0h1m1 0h3m-10 1h2m5 0h2m-10 1h2m7 0h1m-4 1h4m1 0h1m-5 1h1m2 0h1m-4 1h1m3 0h1m-10 1h1m2 0h3m-2 1h1" stroke="#ff0000" stroke-width="1" fill="none" shape-rendering="crispEdges"/>
<path d="M626 544.5h1m3 1h1m-3 1h1m28 0h1m-25 2h1m-12 1h1m-3 2h1m20 0h2m-23 1h1m14 0h1m-14 1h1m3 0h1m13 0h1m-22 1h1m3 0h1m5 0h1m1 0h1m5 0h1m-23 1h1m2 0h1m2 0h1m11 0h1m2 0h1m-22 1h1m6 0h1m6 0h1m3 0h1m-12 1h1m14 0h1m-27 1h1m3 0h2m8 0h1m1 0h1m6 0h1m4 0h1m1 0h1m2 0h1m2 0h1m-28 1h1m26 0h1m-22 1h1m1 0h1m13 0h1m8 0h1m-30 1h1m2 0h1m4 0h1m6 0h1m3 0h1m3 0h2m-45 1h1m10 0h1m6 0h1m3 0h1m15 0h1m-25 1h1m4 0h1m11 0h1m3 0h1m9 0h1m-29 1h1m13 0h1m1 0h1m1 0h1m-33 1h1m7 0h1m22 0h1m10 0h1m2 0h2m-37 2h1m1 0h1m1 0h1m14 0h1m2 0h1m1 0h1m1 0h1m3 0h1m-29 1h1m28 0h1m9 0h1m-47 1h1m9 0h1m14 0h2m4 0h1m2 0h1m-42 1h1m10 0h1m34 0h1m-47 1h1m13 0h1m16 0h1m1 0h1m1 0h2m4 0h1m3 0h1m-42 1h1m2 0h2m-7 1h1m7 0h1m19 0h1m1 0h1m4 0h1m9 0h1m-41 1h1m4 0h1m27 0h1m11 0h1m-41 1h1m-4 1h1m29 0h1m-31 1h1m27 0h1m1 0h1m-30 1h1m22 0h1m1 0h2m2 0h1m9 0h1m-43 1h1m3 0h1m2 0h1m-15 1h1m6 0h1m31 0h1m7 0h1m5 0h1m-45 1h2m1 0h1m1 0h1m22 0h1m4 0h1m13 0h1m-18 1h1m-30 1h1m1 0h2m17 0h1m1 0h1m2 0h2m1 0h1m4 0h2m-2 1h1m-35 1h1m42 0h1m-53 1h1m33 0h2m12 0h1m-43 1h3m1 0h1m1 0h1m14 0h1m9 0h2m-26 1h1m19 0h2m6 0h1m-27 1h1m4 0h1m29 0h1m-38 1h1m8 0h1m6 0h2m5 0h1m-34 1h1m16 0h1m1 0h1m14 0h1m7 0h1m-36 1h1m1 0h2m1 0h2m11 0h2m9 0h1m-29 1h1m10 0h1m9 0h1m1 0h1m4 0h1m4 0h1m5 0h1m-42 1h1m3 0h1m25 0h1m-29 1h1m7 0h2m6 0h1m1 0h1m10 0h1m-36 1h1m11 0h1m11 0h1m12 0h1m-25 1h1m2 0h1m3 0h1m1 1h1m9 0h1m-25 1h1m7 0h1m11 0h1m1 0h1m13 0h1m-22 1h1m1 0h1m0 2h1m5 0h1m3 0h1m-10 1h1m-23 2h1m5 0h1m10 1h1m-6 1h1m7 0h1m-18 1h1m15 0h1m-27 1h1m9 0h1m17 0h1" stroke="#ff0000" stroke-width="1" fill="none" shape-rendering="crispEdges" opacity="0.72"/>
<path d="M529.9 478.8V685.0H726.7M529.9 479.8h-3.3M529.9 515.7h-3.1M529.9 506.6h-3.1M529.9 500.2h-3.1M529.9 495.2h-3.1M529.9 491.2h-3.1M529.9 487.7h-3.1M529.9 484.8h-3.1M529.9 482.1h-3.1M529.9 531.1h-3.3M529.9 567.0h-3.1M529.9 557.9h-3.1M529.9 551.5h-3.1M529.9 546.5h-3.1M529.9 542.5h-3.1M529.9 539.0h-3.1M529.9 536.1h-3.1M529.9 533.4h-3.1M529.9 582.4h-3.3M529.9 618.3h-3.1M529.9 609.2h-3.1M529.9 602.8h-3.1M529.9 597.8h-3.1M529.9 593.8h-3.1M529.9 590.3h-3.1M529.9 587.4h-3.1M529.9 584.7h-3.1M529.9 633.7h-3.3M529.9 669.6h-3.1M529.9 660.5h-3.1M529.9 654.1h-3.1M529.9 649.1h-3.1M529.9 645.1h-3.1M529.9 641.6h-3.1M529.9 638.7h-3.1M529.9 636.0h-3.1M529.9 685.0h-3.3M529.9 685.0v3.3M544.7 685.0v3.0M553.3 685.0v3.0M559.4 685.0v3.0M564.2 685.0v3.0M568.1 685.0v3.0M571.4 685.0v3.0M574.2 685.0v3.0M576.7 685.0v3.0M579.0 685.0v3.3M593.7 685.0v3.0M602.4 685.0v3.0M608.5 685.0v3.0M613.3 685.0v3.0M617.2 685.0v3.0M620.4 685.0v3.0M623.3 685.0v3.0M625.8 685.0v3.0M628.0 685.0v3.3M642.8 685.0v3.0M651.5 685.0v3.0M657.6 685.0v3.0M662.4 685.0v3.0M666.2 685.0v3.0M669.5 685.0v3.0M672.4 685.0v3.0M674.9 685.0v3.0M677.1 685.0v3.3M691.9 685.0v3.0M700.5 685.0v3.0M706.7 685.0v3.0M711.4 685.0v3.0M715.3 685.0v3.0M718.6 685.0v3.0M721.4 685.0v3.0M724.0 685.0v3.0M726.2 685.0v3.3" stroke="#1e1e1e" stroke-width="1" fill="none" shape-rendering="crispEdges"/>
<rect x="596.5" y="487.5" width="70.1" height="122.0" fill="none" stroke="#4646ff" stroke-width="1.3"/>
<text x="498.9" y="489.5" font-size="18">10<tspan font-size="11.4" dy="-4.3" dx="-.8">5</tspan></text>
<text x="498.9" y="536.5" font-size="18">10<tspan font-size="11.4" dy="-4.3" dx="-.8">4</tspan></text>
<text x="498.9" y="588.0" font-size="18">10<tspan font-size="11.4" dy="-4.3" dx="-.8">3</tspan></text>
<text x="498.9" y="641.2" font-size="18">10<tspan font-size="11.4" dy="-4.3" dx="-.8">2</tspan></text>
<text x="498.9" y="689.4" font-size="18">10<tspan font-size="11.4" dy="-4.3" dx="-.8">1</tspan></text>
<text x="559.0" y="705.7" font-size="18">10<tspan font-size="11.4" dy="-4.3" dx="-.8">2</tspan></text>
<text x="608.8" y="705.7" font-size="18">10<tspan font-size="11.4" dy="-4.3" dx="-.8">3</tspan></text>
<text x="658.6" y="705.7" font-size="18">10<tspan font-size="11.4" dy="-4.3" dx="-.8">4</tspan></text>
<text x="704.2" y="705.7" font-size="18">10<tspan font-size="11.4" dy="-4.3" dx="-.8">5</tspan></text>
<text x="591.4" y="482.3" font-size="18.6" textLength="66.5" lengthAdjust="spacingAndGlyphs">20-25hpi</text>
<path d="M792 605.5h3m-6 1h4m-7 1h2m2 0h1m1 0h1m-13 1h3m2 0h1m1 0h4m1 0h3m1 0h3m-26 1h1m7 0h1m1 0h2m1 0h14m-28 1h4m3 0h1m1 0h18m1 0h2m-30 1h1m1 0h2m1 0h25m-30 1h30m2 0h1m-34 1h2m1 0h29m-32 1h31m-33 1h34m-40 1h2m2 0h1m1 0h34m-40 1h39m1 0h1m-41 1h2m2 0h37m-43 1h42m1 0h1m-44 1h43m-44 1h45m-49 1h2m1 0h1m1 0h43m-48 1h3m1 0h44m-50 1h51m-51 1h3m1 0h46m-50 1h50m-50 1h5m1 0h44m-50 1h50m-50 1h51m-51 1h51m-51 1h51m-51 1h49m1 0h1m2 0h1m-54 1h51m2 0h2m-55 1h49m1 0h1m2 0h2m-55 1h48m1 0h2m-51 1h49m1 0h1m-51 1h52m-52 1h49m2 0h1m-52 1h50m-50 1h50m-50 1h48m-48 1h49m-49 1h49m-49 1h4m1 0h44m-49 1h49m1 0h1m-51 1h10m1 0h36m1 0h2m1 0h1m-52 1h49m-49 1h47m-47 1h51m-51 1h3m1 0h2m1 0h41m2 0h2m-52 1h48m-48 1h48m-48 1h46m-46 1h46m-46 1h46m-46 1h47m-47 1h8m1 0h40m-49 1h11m1 0h36m-48 1h48m5 0h2m-55 1h45m1 0h2m5 0h1m-54 1h10m1 0h35m2 0h1m-49 1h46m2 0h1m-49 1h3m1 0h44m-48 1h46m1 0h1m-48 1h44m-44 1h44m-44 1h46m-46 1h46m-46 1h12m1 0h31m-44 1h44m-44 1h2m1 0h41m-44 1h5m1 0h6m1 0h30m3 0h1m-47 1h44m1 0h2m-46 1h45m-46 1h42m1 0h2m-44 1h43m-44 1h43m-43 1h3m1 0h39m-43 1h44m-44 1h44m-44 1h43m-43 1h43m-43 1h43m-43 1h43" stroke="#828282" stroke-width="1" fill="none" shape-rendering="crispEdges"/>
<path d="M899 552.5h1m-17 8h1m2 3h1m1 5h1m6 2h1m-4 3h1m1 4h1m-10 2h1m11 2h1m6 0h1m-10 2h1m-2 1h2m-13 1h1m-1 2h1m25 0h1m-27 2h1m4 0h1m6 1h1m-8 1h1m16 0h1m-22 1h1m5 0h1m7 0h1m-3 1h1m1 0h1m-5 4h1m1 0h1m-13 2h1m-104 1h1m11 0h1m-16 1h1m108 0h1m3 0h1m-8 1h1m1 0h1m1 0h1m-4 1h1m-97 1h1m4 0h1m-7 1h1m-16 1h1m6 0h1m13 0h1m-16 1h1m3 0h1m1 0h1m10 0h1m5 0h1m-28 2h1m2 0h1m23 0h1m-43 2h2m42 0h2m3 0h1m-44 1h2m-6 1h1m41 0h1m1 0h1m1 0h1m-47 1h1m4 0h1m1 0h1m44 0h1m-48 1h1m38 1h1m-46 1h1m-7 1h1m52 0h1m-49 1h1m44 0h1m-50 1h1m-3 1h1m4 0h1m49 0h1m-4 1h1m-53 1h1m51 0h2m-3 3h1m1 0h1m7 1h1m-11 1h1m2 0h1m-2 1h1m2 1h1m-3 1h1m-3 1h1m3 0h1m-4 3h1m5 0h1m-8 2h1m2 1h1m-1 1h1m-5 1h2m-3 1h1m1 2h1m-2 2h1m2 0h2m-6 2h1m2 0h1m2 1h1m-5 1h1m1 0h1m2 0h1m-5 1h1m-1 3h1m-7 1h1m3 0h1m-5 1h1m1 1h1m4 2h1m-6 1h1m3 2h1m-5 1h1m8 0h1m-4 1h1m-9 2h1m-2 1h1m8 1h2m-11 2h1m3 1h1m-5 1h2m5 0h1m-5 1h1m5 0h1m-10 3h1m-3 3h1m4 0h1m-5 2h1m8 0h1m-3 1h1m-8 1h1m-3 2h1" stroke="#828282" stroke-width="1" fill="none" shape-rendering="crispEdges" opacity="0.62"/>
<path d="M884 607.5h2m-3 1h5m-13 1h1m7 0h2m2 0h1m-21 1h11m1 0h6m2 0h1m-30 1h2m7 0h2m2 0h14m3 0h3m3 0h1m-35 1h1m7 0h15m1 0h1m1 0h6m1 0h1m-36 1h2m5 0h3m1 0h22m1 0h2m-36 1h3m3 0h3m1 0h16m1 0h1m1 0h1m2 0h3m-34 1h1m3 0h1m1 0h2m1 0h16m1 0h4m1 0h2m-28 1h6m1 0h17m1 0h2m2 0h2m-36 1h1m3 0h1m3 0h19m1 0h1m4 0h2m-41 1h1m5 0h2m1 0h1m1 0h2m1 0h4m1 0h15m1 0h1m2 0h1m1 0h1m-33 1h24m1 0h2m2 0h1m1 0h1m-32 1h2m1 0h1m1 0h24m1 0h2m-32 1h1m1 0h28m-51 1h2m18 0h1m1 0h4m1 0h25m-51 1h3m13 0h4m1 0h2m1 0h22m1 0h3m-58 1h1m6 0h1m1 0h1m15 0h1m1 0h27m1 0h1m-48 1h1m17 0h1m1 0h29m-43 1h2m7 0h1m2 0h27m1 0h3m2 0h1m-46 1h3m1 0h1m4 0h2m1 0h2m1 0h1m1 0h24m2 0h2m1 0h1m-46 1h1m1 0h1m1 0h5m1 0h2m2 0h27m2 0h4m-58 1h2m11 0h1m1 0h1m2 0h1m2 0h2m1 0h3m1 0h18m1 0h5m1 0h2m1 0h1m-61 1h1m4 0h1m3 0h1m8 0h1m6 0h1m1 0h28m2 0h1m1 0h1m-60 1h1m3 0h3m6 0h1m4 0h2m4 0h30m1 0h2m1 0h1m-56 1h1m1 0h1m7 0h2m8 0h4m1 0h28m1 0h1m-55 1h2m6 0h2m1 0h1m4 0h2m2 0h2m1 0h27m2 0h4m-55 1h1m5 0h3m1 0h3m2 0h3m2 0h1m2 0h32m-55 1h1m3 0h1m1 0h1m1 0h1m2 0h1m1 0h1m1 0h2m2 0h3m1 0h25m1 0h1m1 0h1m-52 1h4m3 0h3m1 0h7m1 0h35m-54 1h2m7 0h1m2 0h1m2 0h2m1 0h35m-52 1h2m7 0h4m2 0h2m1 0h9m1 0h19m1 0h2m1 0h2m-54 1h3m6 0h1m3 0h1m2 0h10m1 0h23m1 0h2m-53 1h2m5 0h6m3 0h5m1 0h1m1 0h21m1 0h2m1 0h2m-55 1h2m2 0h1m1 0h1m3 0h3m1 0h1m1 0h2m1 0h2m2 0h29m-51 1h1m4 0h8m1 0h3m1 0h1m1 0h1m2 0h26m1 0h3m-60 1h2m10 0h1m1 0h1m1 0h3m3 0h3m1 0h33m1 0h1m-59 1h1m5 0h1m4 0h5m3 0h3m1 0h1m1 0h30m2 0h1m-57 1h1m3 0h6m1 0h1m1 0h5m3 0h1m1 0h28m1 0h1m-50 1h2m3 0h2m1 0h1m3 0h3m2 0h6m1 0h22m1 0h3m-51 1h3m3 0h4m2 0h1m1 0h1m3 0h1m2 0h14m1 0h9m1 0h5m1 0h2m-54 1h1m4 0h4m3 0h2m5 0h1m3 0h26m1 0h3m-49 1h1m3 0h1m2 0h5m2 0h5m1 0h22m1 0h4m-50 1h1m2 0h1m5 0h6m2 0h4m1 0h2m4 0h18m1 0h2m-49 1h1m2 0h2m2 0h2m1 0h1m2 0h1m1 0h5m1 0h1m1 0h4m2 0h20m-52 1h1m1 0h1m3 0h1m2 0h3m1 0h1m2 0h2m1 0h3m1 0h2m1 0h3m1 0h1m2 0h18m-51 1h4m4 0h2m3 0h3m4 0h25m2 0h2m-49 1h3m2 0h1m2 0h4m2 0h2m3 0h2m1 0h1m1 0h4m2 0h14m2 0h1m1 0h5m5 0h1m-59 1h2m1 0h2m3 0h2m1 0h3m4 0h1m2 0h1m1 0h6m1 0h1m1 0h7m1 0h8m1 0h4m-52 1h3m5 0h1m3 0h2m2 0h2m1 0h2m2 0h12m1 0h9m4 0h2m-52 1h1m5 0h2m1 0h3m1 0h1m3 0h1m1 0h1m1 0h1m1 0h1m1 0h5m1 0h4m1 0h1m1 0h7m1 0h1m1 0h3m-47 1h2m1 0h3m1 0h3m5 0h1m1 0h4m1 0h4m1 0h3m1 0h4m1 0h8m1 0h1m-46 1h2m3 0h2m8 0h2m1 0h4m2 0h3m1 0h5m2 0h1m1 0h4m1 0h3m10 0h1m-54 1h2m7 0h1m3 0h4m4 0h2m1 0h3m1 0h6m2 0h3m1 0h1m1 0h2m-45 1h3m2 0h2m3 0h1m3 0h3m2 0h4m1 0h1m1 0h3m1 0h1m1 0h3m2 0h3m2 0h2m1 0h2m-48 1h2m4 0h3m6 0h2m1 0h3m2 0h2m2 0h3m1 0h5m1 0h4m3 0h1m1 0h3m-51 1h1m3 0h1m5 0h1m5 0h1m1 0h1m1 0h2m4 0h1m3 0h4m2 0h2m1 0h2m5 0h2m2 0h1m-47 1h2m5 0h1m3 0h1m8 0h1m1 0h1m4 0h5m1 0h2m-36 1h2m5 0h3m10 0h1m1 0h1m5 0h1m1 0h1m1 0h7m-39 1h1m8 0h1m8 0h1m1 0h2m2 0h1m3 0h1m2 0h1m1 0h1m3 0h2m2 0h1m-41 1h3m13 0h3m7 0h1m2 0h2m8 0h2m-44 1h1m19 0h2m6 0h1m4 0h1m9 0h2m-45 1h2m22 0h3m1 0h2m4 0h1m8 0h1m-32 1h1m5 0h1m4 0h1m1 0h2m1 0h2m-13 1h3m9 0h2m7 0h1m-10 1h2m-29 7h2" stroke="#008000" stroke-width="1" fill="none" shape-rendering="crispEdges"/>
<path d="M897 602.5h1m-3 1h1m11 1h1m-25 1h1m1 0h1m1 0h1m12 0h1m1 0h1m-11 1h1m3 0h1m-10 1h1m1 0h1m8 0h1m4 0h1m-14 1h2m-25 1h1m25 0h1m2 0h1m4 0h1m12 0h1m1 0h1m-60 1h1m7 0h1m20 0h1m4 0h1m1 0h1m-82 1h1m18 0h1m6 0h1m15 0h1m2 0h1m2 0h1m34 0h1m11 0h1m18 0h1m-93 1h1m29 0h1m34 0h1m2 0h1m12 0h1m-59 1h1m-28 1h2m11 0h1m17 0h2m40 0h1m-54 1h1m43 0h1m-53 1h1m7 0h1m8 0h1m46 0h1m1 0h1m-81 1h1m1 0h1m12 0h1m4 0h1m1 0h1m3 0h1m51 0h1m19 0h1m-102 1h1m4 0h1m3 0h1m54 0h1m27 0h1m-81 1h1m3 0h1m10 0h2m5 0h1m43 0h1m9 0h1m9 0h1m-93 1h1m12 0h3m9 0h2m35 0h1m4 0h1m-81 1h1m20 0h1m2 0h2m4 0h1m2 0h1m2 0h2m2 0h1m36 0h1m-71 1h1m7 0h1m5 0h1m7 0h2m4 0h1m41 0h1m-52 1h2m5 0h2m2 0h1m36 0h1m7 0h2m5 0h1m-83 1h1m2 0h1m1 0h1m1 0h1m3 0h1m9 0h1m1 0h1m1 0h1m3 0h1m1 0h1m38 0h1m18 0h1m-88 1h2m3 0h1m1 0h1m4 0h1m5 0h1m7 0h1m58 0h1m-89 1h1m5 0h1m6 0h1m1 0h1m1 0h1m9 0h1m3 0h1m37 0h1m21 0h1m-104 1h1m18 0h1m2 0h1m8 0h1m79 0h1m-103 1h1m7 0h1m7 0h1m63 0h1m18 0h1m-109 1h1m20 0h1m1 0h1m4 0h2m5 0h1m48 0h1m1 0h1m11 0h1m23 0h1m-111 1h1m4 0h1m17 0h1m1 0h1m5 0h1m37 0h1m4 0h1m10 0h1m2 0h1m16 0h1m-98 1h1m9 0h2m9 0h1m1 0h1m50 0h1m21 0h1m-114 1h1m4 0h1m3 0h1m9 0h1m5 0h1m7 0h1m1 0h1m60 0h1m-80 1h1m8 0h1m51 0h1m7 0h1m23 0h1m-106 1h1m3 0h1m2 0h1m2 0h1m3 0h1m4 0h1m1 0h1m8 0h1m57 0h1m3 0h1m-89 1h1m4 0h1m5 0h1m58 0h1m1 0h1m-74 1h1m4 0h1m2 0h3m7 0h1m49 0h1m1 0h1m1 0h1m3 0h1m1 0h2m-88 1h1m1 0h1m5 0h1m11 0h1m69 0h1m-78 1h1m1 0h1m1 0h1m8 0h4m46 0h1m2 0h1m16 0h1m-93 1h1m5 0h1m4 0h1m1 0h1m18 0h1m-39 1h1m7 0h1m4 0h1m7 0h1m5 0h1m48 0h1m5 0h1m20 0h1m-97 1h1m4 0h1m5 0h1m4 0h1m54 0h1m-77 1h1m5 0h1m1 0h1m4 0h1m1 0h1m56 0h1m3 0h1m-71 1h1m4 0h1m4 0h1m1 0h1m4 0h1m52 0h1m15 0h1m1 0h2m-78 1h1m54 0h1m17 0h1m25 0h1m-119 1h1m1 0h1m12 0h1m1 0h1m55 0h1m18 0h1m-83 1h2m23 0h1m34 0h1m-67 1h1m1 0h1m7 0h2m61 0h1m36 0h1m-114 1h1m15 0h1m10 0h1m5 0h1m-34 1h1m10 0h1m6 0h1m1 0h1m52 0h1m2 0h2m23 0h1m-106 1h1m13 0h1m2 0h2m9 0h1m43 0h1m2 0h2m6 0h1m-81 1h1m8 0h1m7 0h1m2 0h1m76 0h1m-92 1h1m3 0h1m2 0h1m1 0h1m52 0h1m1 0h1m21 0h1m-81 1h1m8 0h1m50 0h1m2 0h1m-76 1h1m2 0h1m69 0h1m4 0h1m-80 1h1m2 0h1m1 0h2m15 0h1m53 0h1m-74 1h1m12 0h1m56 0h1m-57 2h1m15 0h1m35 0h1m7 0h1m-66 1h2m2 0h1m2 0h1m11 0h1m36 0h1m6 0h1m-63 1h1m1 0h1m2 0h1m10 0h1m3 0h1m43 0h1m-62 1h1m46 0h1m6 0h1m4 0h1m1 0h1m2 0h1m-63 1h1m1 0h1m11 0h1m73 0h1m-92 1h1m15 0h1m11 0h1m17 0h1m1 0h1m-44 1h1m5 0h1m6 0h1m2 0h1m11 0h1m17 0h1m3 0h1m37 0h1m-97 1h1m2 0h1m4 0h1m7 0h1m5 0h1m11 0h1m14 0h1m9 0h1m-55 1h1m8 0h1m9 0h1m27 0h1m4 0h1m-58 1h1m6 0h2m1 0h1m5 0h3m1 0h1m1 0h2m7 0h1m1 0h1m1 0h1m2 0h1m5 0h1m-57 1h1m13 0h2m9 0h1m6 0h1m4 0h2m18 0h1m3 0h1m3 0h1m2 0h1m-65 1h1m4 0h1m2 0h2m5 0h1m2 0h1m6 0h2m2 0h1m9 0h1m6 0h1m4 0h1m11 0h1m-67 1h1m23 0h2m9 0h1m16 0h1m1 0h1m1 0h1m3 0h2m4 0h1m3 0h1m-55 1h1m11 0h1m2 0h2m6 0h1m1 0h1m2 0h1m18 0h1m-65 1h1m20 0h1m14 0h1m4 0h1m10 0h2m1 0h1m2 0h2m3 0h1m2 0h1m3 0h1m22 0h1m-84 1h2m33 0h1m3 0h1m6 0h1m5 0h1m6 0h1m-48 1h1m18 0h1m2 0h1m6 0h1m3 0h1m8 0h1m-34 1h1m6 0h1m2 0h1m3 0h1m10 0h1m1 0h1m9 0h1m-57 1h1m5 0h1m15 0h1m7 0h1m-26 1h1m12 0h1m2 0h2m5 0h1m4 0h1m4 0h2m8 0h1m-38 1h1m2 0h1m18 0h1m14 0h1m-28 1h1m5 0h2m5 0h1m4 0h1m6 0h1m-47 1h1m10 0h1m15 0h1m7 0h1m2 0h1m33 0h1m-53 1h1m4 0h1m3 0h1m7 0h1m13 0h1m-26 1h1m1 0h1m10 0h1m-52 1h1m33 0h1m7 0h1m11 0h1m-39 1h1m25 0h1m14 0h1" stroke="#008000" stroke-width="1" fill="none" shape-rendering="crispEdges" opacity="0.68"/>
<path d="M852 545.5h1m-2 2h1m9 0h1m1 0h2m-15 1h2m1 0h1m-2 1h1m1 0h1m4 0h1m-7 1h1m2 0h2m-6 1h1m3 0h2m2 0h1m-16 1h1m5 0h1m4 0h2m2 0h2m-14 1h2m2 0h1m3 0h1m1 0h1m1 0h1m-15 1h1m1 0h5m3 0h2m1 0h2m-16 1h3m1 0h4m1 0h1m1 0h2m1 0h2m-15 1h1m2 0h1m1 0h6m-12 1h1m1 0h6m1 0h3m-12 1h2m2 0h6m1 0h1m1 0h3m-16 1h1m1 0h11m1 0h1m-17 1h2m1 0h9m1 0h1m1 0h1m-16 1h3m2 0h11m-20 1h1m1 0h3m1 0h12m-18 1h2m1 0h3m2 0h12m2 0h1m-24 1h1m4 0h8m1 0h4m1 0h5m-19 1h1m2 0h1m1 0h8m1 0h5m-18 1h14m1 0h1m1 0h1m-19 1h3m1 0h4m1 0h6m1 0h2m-22 1h1m4 0h13m1 0h1m-16 1h2m1 0h12m1 0h2m9 0h1m-29 1h1m3 0h6m1 0h5m1 0h2m-18 1h3m2 0h13m6 0h1m-25 1h4m1 0h9m1 0h1m-16 1h8m1 0h6m1 0h3m-18 1h3m1 0h11m1 0h1m-16 1h15m-16 1h1m2 0h1m1 0h6m1 0h3m17 0h1m-32 1h5m1 0h4m2 0h1m1 0h1m1 0h1m14 0h1m-29 1h2m2 0h2m5 0h3m-16 1h6m1 0h1m4 0h1m1 0h1m-16 1h1m1 0h3m2 0h4m-11 1h3m1 0h1m1 0h6m2 0h1m13 0h2m-29 1h1m1 0h2m1 0h7m15 0h1m-27 1h1m1 0h1m1 0h1m1 0h1m1 0h2m-9 1h1m3 0h1m12 0h1m8 2h1m0 1h1m-27 1h1m-1 1h2m16 0h1m-18 1h1m24 17h3m1 0h1m1 0h1m-11 1h1m3 0h6m-5 1h1m1 0h3" stroke="#ff0000" stroke-width="1" fill="none" shape-rendering="crispEdges"/>
<path d="M847 530.5h1m9 3h1m-11 1h1m-19 4h1m14 1h1m12 1h2m8 2h1m-17 1h1m3 0h1m13 0h1m-28 1h1m26 0h1m2 0h1m-26 1h1m5 0h1m7 0h1m-20 1h2m4 0h2m1 0h1m1 0h1m1 0h1m4 0h1m3 0h1m-19 1h1m9 0h1m5 0h1m-31 1h1m21 0h1m5 0h1m3 0h1m5 0h1m-27 1h2m4 0h1m5 0h1m1 0h1m12 0h1m5 0h2m-43 1h1m6 0h1m4 0h1m11 0h1m-20 1h1m3 0h2m2 0h1m1 0h1m10 0h1m7 0h2m-37 1h1m18 0h1m12 0h1m-27 1h1m2 0h1m9 0h1m7 0h1m2 0h1m8 0h1m7 0h1m-47 1h2m30 0h1m2 0h2m-31 1h1m19 0h2m-20 1h1m17 0h1m3 0h1m1 0h1m3 0h1m4 0h1m-36 1h1m15 0h1m19 0h1m-51 1h1m32 0h4m2 0h1m11 0h1m-41 1h1m31 0h1m2 0h1m-15 1h1m1 0h2m5 0h1m-31 1h1m1 0h1m23 0h1m9 0h1m4 0h1m-22 1h1m1 0h1m3 0h1m-29 1h1m40 0h1m-45 1h1m1 0h1m3 0h1m23 0h1m4 0h1m2 0h1m3 0h1m1 0h1m-42 1h1m26 0h1m1 0h1m13 0h1m-41 1h1m26 0h1m-30 1h1m1 0h1m20 0h1m3 0h2m2 0h1m5 0h1m4 0h1m-48 1h1m35 0h1m1 0h1m-33 1h1m2 0h1m20 0h1m8 0h1m6 0h1m-46 1h1m28 0h1m1 0h1m1 0h2m2 0h1m2 0h1m-40 1h1m3 0h1m22 0h1m19 0h1m-51 1h1m2 0h1m4 0h1m21 0h1m3 0h1m4 0h1m7 0h1m-39 1h1m22 0h1m2 0h1m1 0h1m12 0h1m-44 1h1m29 0h1m3 0h1m6 0h1m-41 1h1m2 0h1m21 0h1m2 0h1m6 0h1m4 0h1m-19 1h1m8 0h1m5 0h1m-40 1h1m1 0h1m3 0h1m19 0h1m17 0h1m-41 1h1m14 0h1m4 0h1m1 0h1m4 0h1m3 0h1m2 0h1m1 0h2m-53 1h1m9 0h1m5 0h1m11 0h1m9 0h1m1 0h1m-10 1h1m1 0h1m19 0h1m-14 1h3m-32 1h1m21 0h2m2 0h1m7 0h1m2 0h2m-31 1h1m19 0h2m1 0h1m7 0h1m-39 1h1m4 0h1m6 0h1m3 0h1m3 0h2m3 0h1m5 0h2m5 0h1m-46 1h1m15 0h1m15 0h1m3 0h1m5 0h1m3 0h1m3 0h1m-45 1h1m3 0h1m9 0h1m13 0h1m9 0h1m-42 1h1m7 0h1m1 0h1m1 0h1m2 0h1m14 0h1m5 0h3m2 0h1m2 0h1m-26 1h1m1 0h1m5 0h2m3 0h1m-22 1h1m7 0h1m1 0h1m6 0h1m14 0h1m-22 1h1m9 0h2m-19 1h1m14 0h1m12 0h1m-35 1h1m6 0h1m16 0h1m1 0h1m1 0h1m-29 1h1m4 0h1m4 0h1m11 0h1m2 0h1m8 0h1m-40 1h1m8 0h1m14 0h1m7 0h1m1 0h1m5 0h1m-29 1h1m24 0h1m-30 1h1m20 0h1m7 0h1m1 0h1m-30 1h1m3 0h1m9 0h1m4 1h1m10 0h1m-37 1h1m25 0h1m2 0h1m-41 1h1m9 0h1m20 0h1m3 0h1m9 0h1m-5 1h1m2 0h1m-1 1h1m-27 2h1m16 0h1m6 0h2m2 0h1m-12 1h1m6 0h1m-13 1h1m7 0h1m9 0h1m1 0h1m-18 1h1m5 0h1m2 0h1m-38 1h1m21 0h1m8 0h1m-7 1h1m6 0h1m1 0h2m9 0h1" stroke="#ff0000" stroke-width="1" fill="none" shape-rendering="crispEdges" opacity="0.72"/>
<path d="M752.8 478.8V684.7H949.2M752.8 479.8h-3.3M752.8 515.6h-3.1M752.8 506.6h-3.1M752.8 500.2h-3.1M752.8 495.2h-3.1M752.8 491.2h-3.1M752.8 487.7h-3.1M752.8 484.8h-3.1M752.8 482.1h-3.1M752.8 531.0h-3.3M752.8 566.8h-3.1M752.8 557.8h-3.1M752.8 551.4h-3.1M752.8 546.4h-3.1M752.8 542.4h-3.1M752.8 539.0h-3.1M752.8 536.0h-3.1M752.8 533.4h-3.1M752.8 582.2h-3.3M752.8 618.1h-3.1M752.8 609.0h-3.1M752.8 602.6h-3.1M752.8 597.7h-3.1M752.8 593.6h-3.1M752.8 590.2h-3.1M752.8 587.2h-3.1M752.8 584.6h-3.1M752.8 633.5h-3.3M752.8 669.3h-3.1M752.8 660.3h-3.1M752.8 653.9h-3.1M752.8 648.9h-3.1M752.8 644.8h-3.1M752.8 641.4h-3.1M752.8 638.4h-3.1M752.8 635.8h-3.1M752.8 684.7h-3.3M752.8 684.7v3.3M767.5 684.7v3.0M776.2 684.7v3.0M782.3 684.7v3.0M787.0 684.7v3.0M790.9 684.7v3.0M794.2 684.7v3.0M797.0 684.7v3.0M799.5 684.7v3.0M801.8 684.7v3.3M816.5 684.7v3.0M825.1 684.7v3.0M831.3 684.7v3.0M836.0 684.7v3.0M839.9 684.7v3.0M843.2 684.7v3.0M846.0 684.7v3.0M848.5 684.7v3.0M850.8 684.7v3.3M865.5 684.7v3.0M874.1 684.7v3.0M880.2 684.7v3.0M885.0 684.7v3.0M888.9 684.7v3.0M892.1 684.7v3.0M895.0 684.7v3.0M897.5 684.7v3.0M899.7 684.7v3.3M914.5 684.7v3.0M923.1 684.7v3.0M929.2 684.7v3.0M934.0 684.7v3.0M937.8 684.7v3.0M941.1 684.7v3.0M944.0 684.7v3.0M946.5 684.7v3.0M948.7 684.7v3.3" stroke="#1e1e1e" stroke-width="1" fill="none" shape-rendering="crispEdges"/>
<rect x="812.4" y="487.5" width="70.1" height="121.6" fill="none" stroke="#4646ff" stroke-width="1.3"/>
<text x="720.5" y="485.8" font-size="18">10<tspan font-size="11.4" dy="-4.3" dx="-.8">5</tspan></text>
<text x="720.5" y="533.0" font-size="18">10<tspan font-size="11.4" dy="-4.3" dx="-.8">4</tspan></text>
<text x="720.5" y="583.7" font-size="18">10<tspan font-size="11.4" dy="-4.3" dx="-.8">3</tspan></text>
<text x="720.5" y="637.0" font-size="18">10<tspan font-size="11.4" dy="-4.3" dx="-.8">2</tspan></text>
<text x="720.5" y="685.0" font-size="18">10<tspan font-size="11.4" dy="-4.3" dx="-.8">1</tspan></text>
<text x="782.3" y="706.0" font-size="18">10<tspan font-size="11.4" dy="-4.3" dx="-.8">2</tspan></text>
<text x="832.1" y="706.0" font-size="18">10<tspan font-size="11.4" dy="-4.3" dx="-.8">3</tspan></text>
<text x="880.7" y="706.0" font-size="18">10<tspan font-size="11.4" dy="-4.3" dx="-.8">4</tspan></text>
<text x="927.4" y="706.0" font-size="18">10<tspan font-size="11.4" dy="-4.3" dx="-.8">5</tspan></text>
<text x="812.2" y="482.0" font-size="18.6" textLength="65.6" lengthAdjust="spacingAndGlyphs">30-35hpi</text>
<path d="M1115 536.5h1m-2 1h1m2 0h2m-1 1h2m-4 4h2m-2 1h1m0 2h1m-3 5h3m-4 1h5m-4 1h1m1 0h3m-2 1h2m-2 1h2m-1 1h2m-6 1h2m-7 1h2m-2 1h1m5 1h1m-2 1h1m6 0h1m-9 1h3m4 0h3m-10 1h3m2 0h1m1 0h1m-6 1h1m2 0h2m-5 1h2m2 0h1m-7 1h1m1 0h2m-6 1h5m-4 1h1m0 1h1m3 0h1m-5 1h1m2 0h2m-2 1h1m1 0h1m-7 2h1m2 2h3m-6 1h1m2 0h2m-6 1h2m5 0h2m-9 1h1m6 0h2m-5 1h1m-1 1h2m-1 1h2m-3 1h2m-7 19h1m-2 1h1m-1 1h1m-2 1h2m-5 1h2m1 0h1m-4 1h2m-105 1h2m4 0h1m2 0h2m1 0h1m3 0h1m-16 1h1m1 0h1m1 0h8m1 0h2m1 0h2m-17 1h16m5 0h1m-24 1h1m1 0h1m2 0h11m1 0h2m3 0h1m-24 1h19m1 0h1m-25 1h1m2 0h22m-29 1h31m1 0h2m-35 1h2m1 0h31m-33 1h30m1 0h1m-34 1h33m-37 1h3m1 0h33m1 0h1m-39 1h39m-43 1h1m1 0h1m1 0h39m-47 1h1m2 0h44m-47 1h1m3 0h43m-48 1h47m-49 1h1m1 0h48m-50 1h5m1 0h44m-50 1h49m-49 1h48m1 0h1m-50 1h49m-48 1h49m-50 1h50m-50 1h49m-49 1h48m1 0h1m-50 1h4m1 0h44m-49 1h6m1 0h42m-49 1h49m-49 1h48m-48 1h50m-50 1h50m-50 1h47m1 0h1m-49 1h47m1 0h1m-49 1h50m-50 1h48m-48 1h47m1 0h1m-49 1h49m-49 1h47m-47 1h7m1 0h40m-48 1h47m-47 1h48m-48 1h46m-46 1h45m-45 1h45m1 0h1m-47 1h48m-48 1h48m5 0h2m-55 1h48m-48 1h45m1 0h1m-47 1h48m-48 1h45m1 0h1m-47 1h8m1 0h37m-46 1h45m-45 1h6m1 0h37m2 0h1m-47 1h45m1 0h2m-48 1h45m1 0h1m-47 1h44m1 0h1m-46 1h44m-44 1h45m-45 1h46m-46 1h43m1 0h1m-45 1h10m1 0h32m-43 1h45m-44 1h44m-45 1h43m1 0h1m-45 1h45m-45 1h44m-44 1h45m-45 1h43m1 0h3m-47 1h43m1 0h2m-46 1h43m-43 1h43m-43 1h43m-43 1h42m-42 1h42m-42 1h43m-43 1h42m-42 1h41m-41 1h43m-42 1h42" stroke="#828282" stroke-width="1" fill="none" shape-rendering="crispEdges"/>
<path d="M1113 493.5h1m5 9h1m-6 2h1m-6 2h1m3 7h1m2 0h1m-4 1h1m9 3h1m-11 4h1m8 1h1m-10 4h1m9 1h1m-3 1h1m-9 1h1m8 0h1m3 0h1m-7 1h1m-7 2h1m-3 1h1m1 0h1m-10 1h1m1 0h1m0 1h1m5 1h1m3 0h1m-3 1h1m7 0h1m-12 1h1m4 1h1m1 0h1m1 0h1m-12 1h1m8 0h1m-5 1h1m5 0h1m-14 1h1m11 0h1m-13 1h1m5 0h1m6 0h1m-15 1h1m2 0h1m5 0h1m2 0h1m6 0h1m-16 1h1m-3 1h1m1 0h1m3 0h1m1 0h1m-12 1h2m4 0h2m7 0h1m0 1h1m3 0h1m-21 1h1m10 0h1m-12 1h1m1 0h1m11 0h2m-12 1h2m12 1h1m-10 1h1m4 0h1m-14 1h1m3 0h1m15 0h1m-16 1h1m1 0h1m5 0h1m-11 1h1m12 0h1m-16 1h1m4 0h1m2 0h1m3 0h1m5 0h1m-13 1h1m1 0h1m2 0h2m1 0h1m-18 1h1m2 0h1m1 0h1m1 0h1m-1 1h1m3 0h1m0 2h1m4 0h1m-15 1h4m12 0h1m-18 1h1m15 0h1m-14 1h1m8 0h1m2 0h1m-17 1h1m1 0h1m-3 1h1m2 0h2m7 0h1m2 0h2m-9 1h1m4 1h2m11 0h1m-20 1h1m9 0h1m-14 1h1m2 0h1m1 0h1m2 0h1m6 0h1m-10 1h1m7 0h1m-13 1h2m4 0h1m2 0h1m-4 1h1m1 0h1m4 0h1m-13 1h1m15 0h1m-26 1h1m1 0h2m2 0h1m4 0h1m8 0h1m-12 1h1m9 0h1m-12 2h1m1 0h1m3 0h1m-10 1h1m1 0h1m8 0h2m-13 1h1m4 0h1m-11 1h1m5 0h1m1 0h1m-5 1h1m4 0h1m-3 1h1m1 0h1m-9 1h1m4 0h1m3 0h1m5 0h1m-13 1h2m4 0h1m4 0h1m-6 1h1m-2 1h1m5 0h1m-14 1h1m3 0h2m-8 1h1m1 0h1m8 0h1m2 0h1m-9 1h1m7 0h1m2 0h1m-1 1h1m-6 2h1m-9 1h1m2 0h2m6 0h2m-112 1h1m-3 4h1m11 0h1m87 0h1m1 0h1m3 0h1m1 0h1m5 0h3m-110 1h1m92 0h1m3 0h1m5 0h1m2 0h1m-98 1h1m91 0h1m2 0h1m-111 1h1m4 1h1m90 0h1m5 0h2m-108 1h1m2 0h1m1 0h1m5 0h1m2 0h2m88 0h1m-111 1h1m2 0h1m33 0h1m67 0h2m1 0h1m1 0h1m-120 1h1m31 0h1m4 0h1m-29 1h1m24 0h1m-24 1h1m20 0h1m4 0h1m-36 1h1m5 0h1m25 0h1m-33 1h1m1 0h1m31 0h1m4 0h1m-50 1h1m49 0h1m-42 1h1m43 1h1m3 0h1m-50 1h1m35 0h1m3 0h1m-51 1h1m49 1h1m-3 1h1m-50 1h1m1 0h1m45 1h1m-51 1h1m52 1h1m1 0h1m-6 2h1m2 0h1m-3 2h1m-2 4h1m2 0h1m-1 2h1m1 0h1m-7 1h1m1 1h1m1 0h1m-4 4h1m-1 1h1m1 0h1m2 1h1m-7 1h1m3 1h2m-2 1h1m-6 1h2m5 0h1m-7 2h1m-2 1h1m-3 1h1m2 1h1m4 1h1m-7 2h1m4 0h1m5 4h1m-13 1h1m5 0h1m-8 4h1m4 0h1m-6 3h1m5 0h1m-7 1h1m5 0h2m-8 2h1m-1 1h1m1 0h1m1 0h1m1 0h1m-3 1h1m-4 1h1m-1 1h1m1 2h1m-3 1h1m3 2h1m7 0h1m-17 2h1m0 1h3m3 1h1m2 0h1m-9 1h1m-3 3h1" stroke="#828282" stroke-width="1" fill="none" shape-rendering="crispEdges" opacity="0.62"/>
<path d="M1116 604.5h3m5 0h1m-14 1h3m2 0h2m6 0h1m-15 1h5m1 0h2m3 0h1m-17 1h2m1 0h8m4 0h1m1 0h1m-17 1h3m1 0h8m1 0h4m-18 1h13m1 0h4m-19 1h5m1 0h4m1 0h2m1 0h6m1 0h1m-22 1h13m1 0h6m1 0h2m-25 1h2m1 0h3m1 0h13m1 0h3m-31 1h1m2 0h1m3 0h20m2 0h1m3 0h3m-79 1h1m43 0h1m2 0h7m1 0h18m4 0h1m-30 1h2m1 0h1m1 0h18m1 0h2m-25 1h23m1 0h2m1 0h1m-30 1h22m1 0h1m1 0h1m1 0h2m-74 1h2m41 0h3m1 0h23m4 0h1m-32 1h26m1 0h2m2 0h2m-67 1h1m32 0h2m1 0h1m1 0h1m1 0h27m-33 1h2m2 0h1m1 0h3m1 0h15m1 0h1m1 0h2m3 0h1m-35 1h3m1 0h24m1 0h1m4 0h2m-79 1h1m17 0h1m24 0h1m2 0h5m2 0h2m1 0h18m2 0h1m-89 1h2m9 0h2m45 0h1m1 0h1m1 0h22m1 0h1m2 0h1m-89 1h1m11 0h1m44 0h1m1 0h2m1 0h22m1 0h3m-32 1h1m1 0h1m2 0h23m1 0h3m-85 1h2m1 0h1m47 0h5m1 0h27m-84 1h1m3 0h1m5 0h1m38 0h1m1 0h6m1 0h19m1 0h5m1 0h3m-81 1h1m4 0h1m15 0h2m2 0h1m18 0h2m4 0h22m1 0h3m2 0h1m-82 1h4m16 0h2m4 0h2m1 0h1m16 0h1m5 0h2m1 0h24m1 0h2m-83 1h2m2 0h1m15 0h1m1 0h2m6 0h1m21 0h1m1 0h27m1 0h1m-83 1h1m4 0h1m12 0h3m1 0h2m6 0h2m20 0h1m1 0h26m6 0h2m-89 1h2m15 0h1m1 0h1m2 0h2m27 0h1m1 0h26m1 0h3m4 0h2m-74 1h1m2 0h2m6 0h1m23 0h32m5 0h2m-75 1h1m3 0h2m6 0h5m20 0h1m1 0h29m2 0h1m-82 1h1m6 0h1m4 0h1m3 0h2m4 0h2m2 0h1m23 0h32m-83 1h1m1 0h1m4 0h3m3 0h2m2 0h1m1 0h4m19 0h1m9 0h27m1 0h4m-86 1h2m8 0h1m1 0h1m7 0h3m22 0h1m5 0h1m2 0h24m1 0h3m1 0h3m-89 1h1m3 0h1m10 0h2m25 0h1m9 0h2m1 0h2m1 0h26m1 0h3m1 0h1m-89 1h1m6 0h3m6 0h1m1 0h3m20 0h1m10 0h1m2 0h1m1 0h28m1 0h2m-81 1h3m3 0h1m1 0h2m1 0h2m1 0h2m30 0h3m1 0h27m2 0h3m-78 1h2m2 0h2m1 0h1m2 0h3m29 0h1m2 0h1m1 0h25m5 0h1m-74 1h1m1 0h1m3 0h1m1 0h1m29 0h1m1 0h1m1 0h22m1 0h1m4 0h2m1 0h2m-97 1h1m27 0h1m4 0h2m25 0h31m2 0h2m1 0h1m-98 1h2m15 0h1m4 0h1m5 0h2m5 0h2m23 0h2m1 0h5m1 0h17m1 0h2m1 0h1m-91 1h1m20 0h2m3 0h2m1 0h1m6 0h1m24 0h1m1 0h2m1 0h21m1 0h5m-67 1h4m1 0h2m30 0h25m2 0h4m-80 1h2m7 0h2m3 0h1m2 0h1m31 0h1m2 0h5m1 0h16m5 0h2m-81 1h2m6 0h1m1 0h2m38 0h24m5 0h1m2 0h3m-85 1h2m3 0h1m5 0h1m1 0h1m33 0h2m1 0h4m1 0h21m2 0h2m2 0h2m-84 1h3m1 0h3m7 0h2m7 0h1m22 0h4m1 0h1m1 0h7m1 0h7m1 0h6m3 0h1m1 0h1m-81 1h1m5 0h1m8 0h1m8 0h1m22 0h1m1 0h2m1 0h2m3 0h23m-67 1h2m31 0h1m3 0h1m1 0h16m1 0h1m1 0h1m2 0h2m2 0h2m-68 1h1m1 0h2m34 0h3m1 0h2m1 0h11m1 0h1m1 0h2m7 0h2m-80 1h1m1 0h1m6 0h2m37 0h2m1 0h2m2 0h15m9 0h1m-85 1h3m1 0h3m7 0h1m39 0h1m1 0h1m2 0h13m1 0h2m1 0h1m-76 1h1m54 0h16m1 0h6m-69 1h1m12 0h1m32 0h3m2 0h1m2 0h3m2 0h2m1 0h2m1 0h4m4 0h1m-74 1h2m2 0h1m7 0h1m32 0h1m1 0h2m1 0h2m1 0h8m1 0h4m-65 1h4m40 0h3m2 0h4m1 0h4m1 0h1m1 0h1m-19 1h2m4 0h3m1 0h3m1 0h4m-73 1h1m54 0h1m4 0h5m2 0h4m-71 1h2m44 0h1m13 0h1m1 0h4m1 0h4m3 0h3m-76 1h1m54 0h2m4 0h1m1 0h1m1 0h1m1 0h1m4 0h1m1 0h1m-65 1h1m45 0h1m4 0h1m1 0h2m2 0h1m1 0h1m-8 1h4m1 0h5m-15 1h1m4 0h1m1 0h3m1 0h1m2 0h1m-8 1h3m-2 1h1m3 2h2m-8 1h1m4 0h2m1 0h1m-10 1h2m5 0h3m-9 1h2m5 0h2m-10 1h1m1 0h4m3 0h1m-8 1h3m-2 1h1m2 5h2" stroke="#008000" stroke-width="1" fill="none" shape-rendering="crispEdges"/>
<path d="M1118 603.5h1m-5 1h1m5 0h1m2 0h1m1 1h1m-8 1h1m3 0h1m4 0h1m5 0h1m4 0h1m-14 1h1m4 0h1m-27 1h1m23 0h1m2 0h1m-8 1h1m9 1h1m-92 1h1m54 1h1m1 0h1m29 0h1m4 0h1m-101 1h1m15 0h1m15 0h1m28 0h1m30 0h1m-79 1h1m44 0h1m3 0h1m37 0h1m-104 1h1m17 0h1m1 0h1m2 0h1m4 0h3m24 0h1m7 0h1m31 0h1m-81 1h1m3 0h1m4 0h1m37 0h1m2 0h1m33 0h2m-88 1h1m3 0h1m4 0h1m14 0h1m7 0h1m50 0h1m1 0h1m12 0h1m-99 1h1m23 0h1m-23 1h1m6 0h1m6 0h1m2 0h1m9 0h1m56 0h1m2 0h2m-91 1h1m11 0h1m1 0h1m10 0h1m21 0h1m41 0h1m-78 1h1m4 0h2m2 0h1m20 0h2m2 0h1m-60 1h1m5 0h1m11 0h2m3 0h1m2 0h1m1 0h1m4 0h1m3 0h1m1 0h1m9 0h1m6 0h1m2 0h1m44 0h1m-97 1h1m5 0h1m1 0h1m5 0h1m4 0h1m12 0h1m5 0h1m6 0h1m6 0h1m34 0h1m3 0h1m2 0h1m-93 1h1m1 0h1m10 0h1m11 0h1m2 0h1m23 0h1m38 0h1m-73 1h1m8 0h1m3 0h2m1 0h1m1 0h1m16 0h1m-63 1h1m6 0h1m2 0h1m1 0h1m6 0h1m1 0h1m2 0h1m4 0h2m1 0h2m8 0h1m16 0h1m34 0h1m5 0h2m-103 1h1m14 0h1m3 0h1m4 0h1m3 0h1m2 0h1m8 0h1m18 0h1m37 0h1m3 0h1m-89 1h1m3 0h1m3 0h1m4 0h2m1 0h1m7 0h1m2 0h1m3 0h1m1 0h1m3 0h1m46 0h1m7 0h1m-104 1h1m6 0h1m9 0h1m4 0h1m4 0h1m1 0h1m10 0h1m8 0h1m6 0h1m40 0h1m-96 1h1m14 0h1m2 0h1m3 0h1m9 0h1m9 0h1m6 0h1m8 0h1m1 0h1m32 0h1m1 0h1m-100 1h1m5 0h1m3 0h1m12 0h1m1 0h1m3 0h1m10 0h1m3 0h1m12 0h1m1 0h1m36 0h1m-90 1h1m14 0h1m4 0h1m18 0h1m12 0h1m1 0h1m32 0h1m5 0h1m1 0h1m-101 1h1m13 0h2m18 0h1m1 0h1m4 0h1m1 0h1m6 0h1m6 0h1m36 0h1m12 0h1m-109 1h1m6 0h1m1 0h1m1 0h1m12 0h1m1 0h1m6 0h1m16 0h1m42 0h1m9 0h2m-105 1h1m2 0h1m10 0h1m2 0h1m1 0h1m26 0h1m10 0h1m37 0h1m-92 1h1m5 0h2m3 0h1m11 0h1m13 0h1m12 0h2m5 0h1m36 0h1m1 0h2m-100 1h1m6 0h1m8 0h1m5 0h1m12 0h1m4 0h2m2 0h1m4 0h1m7 0h1m1 0h1m35 0h1m3 0h1m-104 1h1m16 0h2m9 0h1m8 0h1m4 0h1m4 0h1m10 0h1m1 0h1m38 0h1m-92 1h1m1 0h1m4 0h1m4 0h1m29 0h1m1 0h1m5 0h1m44 0h1m-92 1h1m10 0h1m8 0h1m1 0h1m1 0h1m4 0h1m3 0h1m2 0h1m11 0h1m38 0h1m-91 1h1m11 0h1m17 0h1m2 0h1m60 0h1m-104 1h1m7 0h1m8 0h1m5 0h1m13 0h1m12 0h1m9 0h2m32 0h1m5 0h1m-99 1h1m12 0h1m4 0h1m7 0h1m10 0h1m1 0h1m1 0h2m10 0h1m-49 1h1m1 0h1m1 0h1m6 0h1m6 0h1m7 0h1m6 0h1m13 0h1m39 0h1m-94 1h1m4 0h2m12 0h1m1 0h1m12 0h1m17 0h1m3 0h1m38 0h1m2 0h1m-91 1h2m4 0h1m2 0h1m6 0h1m7 0h1m5 0h1m4 0h1m4 0h1m2 0h1m7 0h1m37 0h1m-95 1h1m1 0h1m4 0h1m1 0h1m5 0h1m1 0h1m13 0h1m1 0h1m4 0h1m5 0h2m12 0h1m41 0h1m-105 1h1m5 0h1m6 0h1m5 0h1m3 0h1m11 0h1m1 0h1m14 0h1m1 0h1m6 0h1m2 0h1m26 0h1m5 0h1m3 0h3m11 0h1m3 0h1m-117 1h1m26 0h1m1 0h1m26 0h1m32 0h1m-92 1h1m4 0h1m5 0h1m10 0h1m1 0h1m6 0h1m7 0h1m14 0h1m3 0h1m45 0h1m-79 1h1m1 0h1m6 0h1m1 0h1m2 0h1m5 0h2m10 0h1m42 0h1m2 0h1m-100 1h2m1 0h1m9 0h1m5 0h1m8 0h1m2 0h1m6 0h2m8 0h1m5 0h1m36 0h1m5 0h1m-101 1h1m11 0h1m7 0h1m16 0h2m6 0h1m12 0h1m49 0h1m-91 1h1m10 0h2m10 0h1m7 0h1m2 0h2m6 0h1m28 0h2m4 0h1m5 0h1m-101 1h1m2 0h1m3 0h1m1 0h1m11 0h1m8 0h1m2 0h1m2 0h1m2 0h1m4 0h1m41 0h1m-71 1h1m11 0h1m1 0h1m1 0h1m1 0h1m12 0h1m45 0h1m-92 1h1m9 0h1m5 0h1m1 0h1m2 0h1m8 0h1m7 0h1m22 0h1m25 0h1m1 0h1m-96 1h1m17 0h1m8 0h1m10 0h1m21 0h1m4 0h2m-59 1h1m22 0h1m4 0h1m14 0h1m43 0h1m1 0h1m1 0h1m3 0h1m-92 1h1m1 0h1m2 0h1m2 0h1m7 0h1m4 0h2m3 0h1m10 0h1m14 0h1m1 0h1m33 0h1m-90 1h1m5 0h1m4 0h1m9 0h1m3 0h1m48 0h1m1 0h2m-80 1h1m8 0h1m6 0h1m5 0h1m4 0h1m12 0h2m18 0h1m1 0h1m19 0h1m5 0h1m2 0h1m-73 1h1m4 0h1m16 0h1m6 0h1m1 0h1m6 0h1m17 0h1m4 0h1m2 0h1m5 0h1m3 0h1m-99 1h1m1 0h1m7 0h1m5 0h1m7 0h2m7 0h1m1 0h1m17 0h1m6 0h1m5 0h1m13 0h1m7 0h1m1 0h1m13 0h1m-106 1h1m13 0h1m4 0h1m1 0h1m13 0h1m2 0h1m4 0h1m16 0h1m1 0h1m1 0h1m5 0h1m13 0h1m20 0h1m2 0h1m-102 1h2m10 0h1m2 0h1m9 0h1m7 0h1m2 0h1m13 0h1m8 0h1m15 0h1m3 0h1m2 0h2m2 0h1m9 0h1m-80 1h2m2 0h1m34 0h1m7 0h1m14 0h1m-54 1h1m32 0h2m10 0h1m1 0h1m1 0h1m10 0h1m-77 1h1m13 0h2m30 0h1m5 0h1m2 0h1m7 0h1m2 0h1m-85 1h1m3 0h1m5 0h2m53 0h1m1 0h1m5 0h1m4 0h1m7 0h1m10 0h1m-67 1h1m21 0h1m5 0h1m4 0h1m4 0h1m5 0h1m1 0h1m6 0h2m1 0h1m6 0h1m-32 1h1m-55 1h1m14 0h1m5 0h1m30 0h1m6 0h1m18 0h1m12 0h1m-83 1h1m13 0h1m16 0h1m11 0h1m10 0h1m22 0h2m18 0h1m-87 1h2m12 0h1m23 0h1m1 0h1m16 0h1m-61 1h1m2 0h1m32 0h1m8 0h2m6 0h1m3 0h1m-24 1h1m6 0h1m12 0h2m1 0h1m-23 1h1m8 0h2m3 0h1m11 0h2m-8 1h1m19 0h1m-80 1h1m11 0h1m32 0h1m14 0h1m2 0h1m18 0h1m-32 1h1m2 0h1m3 0h1m5 0h1m-73 1h1m1 0h1m50 0h1m15 0h2m8 0h1m6 0h1m-22 1h1m-39 1h1m31 0h1m3 0h1m7 0h2" stroke="#008000" stroke-width="1" fill="none" shape-rendering="crispEdges" opacity="0.68"/>
<path d="M1081 543.5h3m-2 1h2m-2 1h2m2 0h2m-6 1h1m-5 1h2m-3 1h2m1 0h1m1 0h1m3 0h2m-11 1h3m1 0h4m1 0h1m-13 1h1m3 0h1m1 0h8m-12 1h2m2 0h3m1 0h1m2 0h2m-13 1h5m1 0h3m2 0h1m1 0h1m-15 1h2m1 0h6m2 0h2m1 0h1m-12 1h5m1 0h1m1 0h1m1 0h1m1 0h1m-17 1h1m3 0h3m1 0h2m1 0h1m3 0h1m-16 1h2m3 0h5m1 0h2m-15 1h1m1 0h1m1 0h5m1 0h2m1 0h3m-16 1h11m2 0h3m-15 1h2m1 0h6m1 0h2m1 0h1m1 0h1m-16 1h2m1 0h9m-12 1h1m1 0h2m1 0h3m1 0h2m1 0h1m-13 1h1m1 0h1m1 0h2m1 0h3m1 0h2m-15 1h4m1 0h9m1 0h1m-15 1h3m2 0h6m2 0h1m-13 1h6m1 0h4m1 0h1m1 0h1m-17 1h12m1 0h1m1 0h2m-18 1h2m4 0h2m1 0h2m2 0h2m-13 1h8m1 0h1m1 0h2m-14 1h2m1 0h3m2 0h3m1 0h3m-17 1h1m3 0h3m1 0h2m1 0h2m2 0h2m-12 1h8m1 0h1m1 0h1m-11 1h7m1 0h2m3 0h1m-17 1h4m1 0h2m2 0h4m2 0h1m-17 1h1m3 0h1m2 0h3m3 0h1m-15 1h2m2 0h2m5 0h1m-17 1h2m4 0h1m3 0h1m5 0h2m-18 1h2m2 0h2m10 0h1m1 0h1m-19 1h2m12 0h3m1 0h1m-6 1h2m1 0h2m-5 1h1m-1 1h1m-1 1h2m-19 2h1m5 0h2m-2 1h2m0 2h1m1 0h2m-16 1h1m9 0h2m1 0h2m1 0h1m-8 1h3m-2 1h1m-5 1h1m-1 1h2m-1 1h2m-1 1h1m-11 1h1m8 0h1m-11 1h2m2 0h1m-5 1h1m3 0h1m6 1h1m-1 1h1m32 8h1m-2 1h2m3 2h1" stroke="#ff0000" stroke-width="1" fill="none" shape-rendering="crispEdges"/>
<path d="M1067 522.5h1m13 2h1m17 3h1m-14 3h1m-6 1h1m3 1h1m-4 1h2m-13 1h1m18 0h1m-8 2h1m-14 1h1m0 1h1m15 0h1m-11 1h1m1 0h1m2 0h1m1 0h1m-9 1h1m1 0h1m3 0h1m1 0h1m5 0h1m-11 1h1m1 0h1m-10 1h1m3 0h2m10 0h1m-22 1h1m4 0h1m5 0h1m5 0h1m5 0h1m1 0h1m-23 1h1m2 0h1m1 0h1m3 0h1m4 0h1m1 0h1m1 0h1m5 0h1m-25 2h1m2 0h2m1 0h1m1 0h1m8 0h1m-21 1h1m13 0h1m3 0h1m-3 1h1m3 0h2m-16 1h2m14 0h1m4 0h1m-6 1h1m-27 1h1m2 0h1m4 0h1m1 0h1m15 0h1m1 0h1m-19 1h1m21 0h1m-40 1h1m33 0h1m-19 1h1m2 0h1m-6 1h1m20 0h1m-5 1h1m-25 1h1m6 0h1m19 0h1m6 0h1m-36 2h1m25 0h1m-4 1h1m1 0h1m-23 1h1m2 0h1m1 1h1m16 0h1m-23 1h1m2 0h1m28 0h1m-37 1h1m3 0h1m20 0h1m-20 1h1m1 0h1m-4 2h3m18 0h1m14 0h1m-41 1h1m2 0h1m20 0h1m-18 1h1m18 0h3m-33 2h1m2 0h1m5 0h1m1 0h1m18 0h3m-26 1h1m5 0h1m13 0h1m-24 1h1m4 0h1m1 0h1m18 0h1m-3 1h1m-25 1h1m3 0h2m4 0h1m3 0h1m7 0h1m1 0h1m-26 1h1m10 0h1m4 0h1m-4 1h2m1 0h1m5 0h1m3 0h1m11 0h1m-45 1h1m11 0h1m1 0h1m2 0h1m13 0h1m-28 1h1m5 0h1m7 0h1m1 0h1m10 0h1m14 0h1m-44 1h1m8 0h1m3 0h1m1 0h1m7 0h1m-14 1h1m10 0h1m-23 1h1m5 0h2m1 0h1m1 0h1m4 0h1m1 0h1m-19 1h1m3 0h1m7 0h1m4 0h1m1 0h1m-24 1h1m10 0h1m6 0h1m-20 1h1m2 0h1m1 0h1m1 0h1m1 0h1m2 0h1m7 0h1m4 0h2m5 0h1m-33 1h1m1 0h1m8 0h1m4 0h1m8 0h1m-22 1h1m7 0h1m7 0h1m2 0h1m-22 1h1m4 0h1m3 0h1m-8 1h2m1 0h1m3 0h1m9 0h1m8 0h1m-30 1h1m8 0h1m10 0h1m-15 1h1m4 0h1m-12 1h1m4 0h1m14 0h1m-16 1h1m7 0h1m-29 1h1m16 0h1m2 0h1m7 0h1m5 0h1m7 0h1m-31 1h1m11 0h1m2 0h1m-10 1h1m1 0h1m3 0h1m-12 1h1m12 0h1m-11 1h1m-9 1h1m7 0h1m8 0h1m1 0h1m-21 1h1m5 1h1m8 0h1m-10 1h1m6 0h2m-3 1h1m43 0h1m-49 1h1m42 0h1m5 0h1m-61 1h1m6 0h2m2 0h1m4 0h2m5 0h1m28 0h2m5 0h1m-11 1h1m5 0h1m4 0h1m-47 1h1m25 0h1m19 0h1m-54 1h1m9 0h1m35 0h1m2 0h1m3 0h1m-12 1h1m9 0h1m-56 1h1m2 0h1m12 0h1m32 0h4m1 1h2" stroke="#ff0000" stroke-width="1" fill="none" shape-rendering="crispEdges" opacity="0.72"/>
<path d="M976.1 479.3V685.0H1173.3M976.1 480.3h-3.3M976.1 516.1h-3.1M976.1 507.1h-3.1M976.1 500.7h-3.1M976.1 495.7h-3.1M976.1 491.7h-3.1M976.1 488.2h-3.1M976.1 485.3h-3.1M976.1 482.6h-3.1M976.1 531.5h-3.3M976.1 567.2h-3.1M976.1 558.2h-3.1M976.1 551.8h-3.1M976.1 546.9h-3.1M976.1 542.8h-3.1M976.1 539.4h-3.1M976.1 536.4h-3.1M976.1 533.8h-3.1M976.1 582.6h-3.3M976.1 618.4h-3.1M976.1 609.4h-3.1M976.1 603.0h-3.1M976.1 598.1h-3.1M976.1 594.0h-3.1M976.1 590.6h-3.1M976.1 587.6h-3.1M976.1 585.0h-3.1M976.1 633.8h-3.3M976.1 669.6h-3.1M976.1 660.6h-3.1M976.1 654.2h-3.1M976.1 649.2h-3.1M976.1 645.2h-3.1M976.1 641.8h-3.1M976.1 638.8h-3.1M976.1 636.2h-3.1M976.1 685.0h-3.3M976.1 685.0v3.3M990.9 685.0v3.0M999.6 685.0v3.0M1005.7 685.0v3.0M1010.5 685.0v3.0M1014.4 685.0v3.0M1017.7 685.0v3.0M1020.5 685.0v3.0M1023.0 685.0v3.0M1025.3 685.0v3.3M1040.1 685.0v3.0M1048.7 685.0v3.0M1054.9 685.0v3.0M1059.6 685.0v3.0M1063.5 685.0v3.0M1066.8 685.0v3.0M1069.7 685.0v3.0M1072.2 685.0v3.0M1074.5 685.0v3.3M1089.3 685.0v3.0M1097.9 685.0v3.0M1104.1 685.0v3.0M1108.8 685.0v3.0M1112.7 685.0v3.0M1116.0 685.0v3.0M1118.9 685.0v3.0M1121.4 685.0v3.0M1123.6 685.0v3.3M1138.4 685.0v3.0M1147.1 685.0v3.0M1153.2 685.0v3.0M1158.0 685.0v3.0M1161.9 685.0v3.0M1165.2 685.0v3.0M1168.0 685.0v3.0M1170.5 685.0v3.0M1172.8 685.0v3.3" stroke="#1e1e1e" stroke-width="1" fill="none" shape-rendering="crispEdges"/>
<rect x="1033.6" y="489.2" width="70.0" height="122.0" fill="none" stroke="#4646ff" stroke-width="1.3"/>
<text x="942.9" y="485.8" font-size="18">10<tspan font-size="11.4" dy="-4.3" dx="-.8">5</tspan></text>
<text x="942.9" y="533.0" font-size="18">10<tspan font-size="11.4" dy="-4.3" dx="-.8">4</tspan></text>
<text x="942.9" y="583.7" font-size="18">10<tspan font-size="11.4" dy="-4.3" dx="-.8">3</tspan></text>
<text x="942.9" y="637.0" font-size="18">10<tspan font-size="11.4" dy="-4.3" dx="-.8">2</tspan></text>
<text x="942.9" y="685.0" font-size="18">10<tspan font-size="11.4" dy="-4.3" dx="-.8">1</tspan></text>
<text x="1006.4" y="706.5" font-size="18">10<tspan font-size="11.4" dy="-4.3" dx="-.8">2</tspan></text>
<text x="1055.4" y="706.5" font-size="18">10<tspan font-size="11.4" dy="-4.3" dx="-.8">3</tspan></text>
<text x="1104.4" y="706.5" font-size="18">10<tspan font-size="11.4" dy="-4.3" dx="-.8">4</tspan></text>
<text x="1150.7" y="706.5" font-size="18">10<tspan font-size="11.4" dy="-4.3" dx="-.8">5</tspan></text>
<text x="1032.0" y="483.7" font-size="18.6" textLength="65.6" lengthAdjust="spacingAndGlyphs">48-53hpi</text>
<path d="M1353 548.5h1m-1 1h2m3 2h2m-1 21h1m-119 30h2m-5 1h2m1 0h2m1 0h1m-10 1h1m3 0h2m1 0h4m-16 1h1m3 0h3m2 0h7m2 0h2m1 0h3m-26 1h20m1 0h2m1 0h2m-27 1h2m1 0h23m3 0h2m-33 1h29m1 0h1m1 0h2m-36 1h35m-37 1h1m1 0h34m-37 1h40m-42 1h41m1 0h1m-44 1h44m-47 1h2m1 0h45m-48 1h1m1 0h47m-50 1h51m-52 1h1m3 0h46m-50 1h52m-52 1h53m-56 1h54m1 0h1m-56 1h2m1 0h52m-57 1h57m-56 1h56m-56 1h56m-57 1h57m-56 1h57m-57 1h58m-60 1h59m-59 1h1m1 0h56m-59 1h60m-60 1h59m-59 1h59m-60 1h59m1 0h1m-61 1h62m-62 1h61m-61 1h59m1 0h2m-62 1h58m1 0h1m-59 1h58m-59 1h60m-60 1h58m1 0h2m-61 1h57m1 0h1m-59 1h58m1 0h2m-61 1h3m1 0h53m1 0h3m-60 1h57m-58 1h56m-56 1h10m1 0h46m-57 1h56m-56 1h55m-55 1h4m2 0h49m2 0h1m-58 1h57m-57 1h56m-56 1h54m-54 1h54m-54 1h55m-55 1h54m-53 1h52m1 0h1m-55 1h52m3 0h1m-55 1h51m-52 1h2m1 0h49m-52 1h12m1 0h38m-51 1h51m-51 1h52m-52 1h50m1 0h2m-52 1h49m-50 1h3m1 0h6m1 0h38m2 0h1m-51 1h8m1 0h43m-53 1h8m1 0h42m-51 1h51m-51 1h50m-49 1h49m-50 1h51m-51 1h12m1 0h37m-50 1h50m-50 1h51m-50 1h3m1 0h42m1 0h2m-49 1h48m-49 1h47m1 0h2m-50 1h49m-48 1h7m1 0h41m-50 1h49m-49 1h48m-48 1h47" stroke="#828282" stroke-width="1" fill="none" shape-rendering="crispEdges"/>
<path d="M1341 494.5h1m19 16h1m-7 1h1m-8 1h1m5 1h1m-9 5h1m1 0h2m2 1h1m2 1h1m5 0h1m-12 1h1m-3 2h1m6 2h1m-9 1h1m-4 1h1m2 0h1m-4 1h1m2 1h1m2 1h1m3 0h1m1 0h1m-5 1h1m2 2h1m-12 2h1m23 0h1m-23 1h1m7 0h1m4 1h1m-17 1h1m5 0h1m22 1h1m-26 1h1m11 1h2m-10 1h1m6 0h1m-2 1h1m-12 1h2m14 0h1m-20 2h1m2 0h1m7 0h1m1 0h1m-5 1h1m6 0h1m-3 1h1m-10 1h1m3 1h1m2 0h1m3 0h1m-16 2h1m1 0h1m6 0h1m5 0h1m-12 1h1m5 0h1m2 0h1m-12 1h1m4 0h1m-1 1h1m-1 1h1m2 0h1m-12 1h1m15 0h1m-15 1h2m11 0h1m2 0h2m-7 1h1m1 0h1m11 1h1m-27 1h2m9 0h1m1 1h1m-15 1h1m19 0h1m9 0h1m-23 1h1m6 0h1m2 0h1m-19 1h1m21 1h1m-24 1h1m7 0h1m5 0h1m-18 1h1m12 0h1m3 2h1m-6 1h1m1 0h1m4 0h1m1 0h1m2 0h1m-22 1h1m6 0h1m2 1h1m5 0h1m-6 1h1m10 2h1m-4 1h1m-14 1h1m6 0h1m-2 1h1m9 0h1m-20 2h1m15 0h1m-13 1h1m4 1h1m-8 1h1m-6 2h1m19 0h1m-9 1h1m-11 1h1m-2 1h1m9 0h1m6 2h1m-8 2h1m8 0h1m-130 2h1m114 0h1m6 0h1m-133 1h1m2 0h1m128 0h1m-2 1h1m-126 1h1m15 1h1m2 1h1m5 0h1m-27 1h1m14 0h1m-24 1h1m3 0h1m14 0h1m9 0h1m-30 1h1m9 0h1m2 0h2m1 0h1m23 0h1m-36 1h1m4 0h1m18 0h1m1 0h1m-28 1h1m29 0h1m-46 1h1m15 0h2m-17 1h1m7 0h1m1 1h3m42 0h1m-51 1h1m2 0h1m48 1h1m-52 1h1m1 0h1m-3 1h1m-3 1h1m54 0h1m-60 1h1m60 0h1m1 0h1m-70 2h1m7 0h1m-9 1h1m59 0h1m3 1h1m1 1h1m-64 2h1m57 0h1m-61 1h1m60 0h1m-2 1h1m5 1h1m-68 1h1m60 0h1m-61 1h1m61 0h1m-63 2h1m60 1h1m-63 1h1m60 2h3m-1 2h1m2 0h1m-5 3h1m5 0h2m-9 4h1m-3 4h1m2 1h1m-1 1h1m-7 1h1m2 0h1m0 1h1m-4 1h1m6 1h1m-10 3h2m2 0h1m4 1h1m-10 1h1m-2 2h1m-2 1h1m-1 1h1m-1 3h1m-1 1h1m5 1h1m-7 1h1m8 1h1m-5 3h1m-8 2h1m0 1h1m1 0h1m-2 2h1m5 1h1m-10 2h1m-2 3h1m5 0h1m-7 1h1" stroke="#828282" stroke-width="1" fill="none" shape-rendering="crispEdges" opacity="0.62"/>
<path d="M1349 612.5h1m-1 1h1m5 1h1m-1 1h2m-17 1h1m-1 1h1m7 0h2m1 0h2m-3 1h1m1 0h2m-4 1h2m1 0h1m-11 1h1m5 0h6m-13 1h3m4 0h2m2 0h1m-13 1h1m8 0h1m-11 1h1m1 0h2m4 0h1m11 0h1m-20 1h2m4 0h3m4 0h2m4 0h2m-20 1h1m3 0h2m6 0h1m5 0h1m-19 1h2m3 0h2m4 0h2m2 0h1m1 0h1m-70 1h1m48 0h2m2 0h1m4 0h2m2 0h1m3 0h3m-70 1h1m3 0h2m44 0h1m2 0h2m4 0h1m3 0h2m3 0h1m1 0h1m-67 1h2m47 0h2m1 0h1m5 0h5m1 0h2m-67 1h2m50 0h3m7 0h4m-58 1h2m42 0h1m1 0h3m2 0h3m1 0h3m-58 1h2m41 0h1m3 0h2m3 0h2m1 0h2m-74 1h1m53 0h1m1 0h1m3 0h2m7 0h4m-19 1h1m2 0h1m2 0h2m6 0h2m1 0h3m-51 1h2m34 0h2m4 0h1m2 0h1m4 0h1m-77 1h1m5 0h2m2 0h1m3 0h1m11 0h1m36 0h1m3 0h1m1 0h1m4 0h1m-70 1h1m1 0h4m2 0h3m4 0h1m42 0h1m3 0h3m1 0h1m1 0h3m-66 1h2m2 0h1m38 0h2m7 0h4m2 0h6m3 0h1m-69 1h1m43 0h1m7 0h1m2 0h6m2 0h1m-68 1h1m4 0h1m1 0h1m8 0h1m41 0h2m2 0h4m-67 1h5m2 0h3m7 0h1m30 0h1m9 0h3m1 0h1m2 0h3m1 0h2m-70 1h3m6 0h1m44 0h1m1 0h1m2 0h3m5 0h4m-71 1h1m18 0h2m34 0h3m2 0h1m4 0h3m-70 1h1m1 0h1m5 0h1m11 0h2m35 0h3m6 0h1m1 0h2m-70 1h2m1 0h7m1 0h1m9 0h2m34 0h1m1 0h1m2 0h2m2 0h4m-71 1h1m1 0h1m1 0h1m1 0h1m1 0h1m2 0h1m1 0h1m45 0h2m2 0h2m2 0h1m2 0h2m-72 1h2m3 0h1m1 0h1m4 0h2m49 0h1m4 0h2m4 0h1m-69 1h1m5 0h3m48 0h2m3 0h1m4 0h1m-69 1h1m3 0h1m6 0h1m46 0h2m1 0h2m5 0h2m-74 1h1m4 0h2m58 0h1m6 0h1m-72 1h2m62 0h1m-65 1h2m61 0h3m-68 1h2m1 0h1m3 0h2m-8 1h1m5 0h2m-1 1h2m2 0h1m-6 1h3m2 0h1m-5 1h4m-1 1h1m-2 1h1m1 0h1m1 0h1m-9 1h2m5 0h1m1 0h1m-9 1h2m-2 1h1" stroke="#008000" stroke-width="1" fill="none" shape-rendering="crispEdges"/>
<path d="M1365 597.5h1m-10 2h1m-1 2h1m0 1h2m-14 2h1m5 1h1m2 1h1m-16 1h1m9 0h1m4 0h1m-59 1h1m26 0h1m26 0h1m1 0h1m2 0h3m8 0h2m-86 1h1m3 0h1m19 0h1m41 0h1m-71 1h1m4 0h1m7 0h1m27 0h1m5 0h1m17 0h1m8 0h1m13 0h1m-87 1h1m12 0h1m15 0h1m29 0h1m18 0h1m6 0h1m-99 1h1m78 0h1m5 0h1m1 0h1m1 0h1m-76 1h1m15 0h1m30 0h2m18 0h1m1 0h1m8 0h1m3 0h1m1 0h1m-52 1h1m28 0h2m9 0h1m3 0h1m-64 1h1m29 0h1m5 0h1m14 0h1m3 0h1m1 0h1m4 0h1m2 0h1m-63 1h1m40 0h1m1 0h1m2 0h2m1 0h1m18 0h1m9 0h1m-84 1h1m1 0h1m1 0h1m1 0h1m22 0h3m18 0h1m-70 1h1m65 0h1m4 0h1m2 0h1m6 0h2m3 0h1m1 0h1m-89 1h1m16 0h1m11 0h1m36 0h1m1 0h2m12 0h1m-70 1h1m1 0h1m6 0h1m10 0h1m32 0h1m4 0h1m1 0h1m15 0h1m-78 1h1m3 0h1m7 0h1m3 0h1m42 0h1m11 0h1m1 0h1m-68 1h1m44 0h2m1 0h1m6 0h1m7 0h1m3 0h1m-59 1h1m26 0h1m5 0h1m9 0h1m1 0h1m4 0h1m1 0h1m15 0h1m19 0h1m-110 1h1m3 0h1m2 0h2m1 0h1m8 0h1m19 0h1m10 0h1m1 0h1m11 0h1m7 0h1m3 0h1m5 0h1m2 0h1m-80 1h1m8 0h1m6 0h1m12 0h1m15 0h1m18 0h1m7 0h1m3 0h1m13 0h1m-95 1h1m6 0h1m2 0h1m5 0h1m16 0h1m6 0h1m3 0h1m2 0h1m3 0h1m5 0h1m5 0h1m4 0h1m-65 1h1m1 0h1m37 0h1m18 0h1m9 0h1m-77 1h1m11 0h1m8 0h1m14 0h1m3 0h1m25 0h1m14 0h2m-83 1h1m9 0h1m11 0h1m5 0h1m30 0h1m8 0h1m-68 1h1m1 0h1m8 0h1m12 0h1m11 0h1m5 0h2m2 0h1m12 0h1m1 0h1m8 0h1m8 0h1m1 0h1m-85 1h1m3 0h1m8 0h1m4 0h1m8 0h1m3 0h1m3 0h1m5 0h1m15 0h1m-45 1h1m2 0h1m4 0h1m5 0h1m1 0h1m2 0h1m10 0h1m15 0h1m1 0h1m3 0h1m15 0h1m-82 1h1m4 0h1m1 0h1m3 0h1m5 0h1m27 0h1m1 0h1m8 0h1m6 0h1m8 0h2m10 0h1m-85 1h1m6 0h1m10 0h1m1 0h1m60 0h2m2 0h1m-82 1h1m6 0h2m1 0h1m3 0h1m12 0h1m12 0h1m14 0h1m1 0h1m1 0h1m6 0h1m1 0h1m13 0h1m-92 1h1m6 0h1m3 0h1m1 0h1m15 0h1m1 0h1m1 0h1m3 0h1m2 0h1m11 0h1m3 0h1m9 0h1m2 0h1m9 0h1m5 0h2m6 0h1m-87 1h1m17 0h1m1 0h1m1 0h1m12 0h1m8 0h1m9 0h1m2 0h1m8 0h1m-69 1h1m6 0h1m7 0h1m6 0h1m8 0h2m27 0h1m1 0h1m1 0h1m14 0h1m1 0h1m-85 1h2m8 0h1m1 0h3m5 0h2m1 0h1m4 0h3m1 0h2m3 0h1m2 0h1m14 0h1m6 0h1m17 0h1m3 0h1m7 0h1m-92 1h1m2 0h1m1 0h1m19 0h1m16 0h1m5 0h1m7 0h1m1 0h1m7 0h1m21 0h1m-94 1h1m6 0h1m11 0h1m4 0h1m3 0h1m4 0h2m5 0h1m13 0h1m13 0h2m16 0h1m-80 1h1m2 0h1m2 0h1m12 0h1m5 0h1m4 0h1m5 0h1m10 0h1m6 0h1m2 0h1m13 0h1m8 0h1m5 0h1m31 0h1m-122 1h1m13 0h1m1 0h1m3 0h1m5 0h1m11 0h1m8 0h2m4 0h1m19 0h1m13 0h1m1 0h1m-82 1h1m16 0h1m6 0h1m13 0h1m5 0h1m1 0h1m26 0h2m11 0h1m8 0h1m-102 1h1m18 0h1m1 0h1m16 0h1m1 0h1m10 0h1m4 0h1m3 0h1m10 0h1m11 0h1m-46 1h1m1 0h1m3 0h1m15 0h1m18 0h1m1 0h1m-79 1h1m11 0h1m18 0h1m21 0h1m10 0h1m9 0h1m6 0h1m2 0h1m11 0h1m-96 1h1m1 0h1m3 0h1m4 0h1m6 0h2m3 0h1m16 0h2m1 0h1m6 0h1m6 0h1m3 0h1m6 0h1m9 0h1m-83 1h1m7 0h1m9 0h1m1 0h1m15 0h1m30 0h1m15 0h1m6 0h1m17 0h1m-112 1h1m2 0h1m4 0h1m4 0h1m3 0h1m1 0h1m6 0h2m4 0h1m5 0h1m40 0h1m17 0h1m-89 1h1m5 0h1m7 0h2m5 0h2m29 0h1m5 0h2m4 0h1m9 0h1m-77 1h1m13 0h1m32 0h1m2 0h1m1 0h1m1 0h1m9 0h1m5 0h1m23 0h1m-104 1h1m9 0h1m11 0h1m1 0h1m1 0h1m5 0h1m10 0h1m14 0h1m14 0h1m1 0h1m3 0h1m4 0h1m4 0h1m34 0h1m-129 1h1m9 0h1m1 0h1m5 0h1m1 0h1m5 0h1m11 0h1m21 0h1m10 0h1m13 0h1m3 0h1m-81 1h1m6 0h1m11 0h1m6 0h1m4 0h1m4 0h1m22 0h1m15 0h1m-75 1h1m7 0h2m1 0h1m8 0h1m1 0h1m9 0h1m34 0h1m3 0h1m-75 1h1m1 0h1m2 0h1m3 0h1m13 0h1m2 0h1m1 0h1m6 0h1m1 0h1m6 0h1m14 0h2m1 0h1m17 0h1m14 0h1m13 0h1m-97 1h1m15 0h1m51 0h1m-71 1h1m3 0h1m1 0h1m5 0h1m17 0h1m9 0h1m6 0h1m20 0h1m-68 1h2m5 0h1m7 0h1m4 0h1m11 0h1m8 0h2m3 0h1m12 0h1m2 0h1m-54 1h1m1 0h1m4 0h1m15 0h1m2 0h1m4 0h1m2 0h1m7 0h1m18 0h1m22 0h1m-107 1h2m11 0h1m6 0h1m1 0h1m18 0h1m19 0h1m6 0h1m-71 1h1m13 0h2m1 0h1m11 0h1m53 0h1m-65 1h1m2 0h1m34 0h1m18 0h1m-66 1h1m1 0h1m6 0h2m40 0h1m-53 1h2m19 0h1m29 0h1m-49 1h1m14 0h1m-14 1h1m2 0h2m2 0h1m1 0h1m42 0h1m-58 1h1m5 0h2m13 0h1m-35 1h1m23 0h1m51 0h1m34 0h1m-89 1h1m61 0h1m-83 1h1m11 0h1m2 0h1m1 0h1m10 0h1m48 0h1m-50 1h1m8 0h1m13 0h1m-45 1h1m11 0h1m-18 1h1m9 0h1m14 0h1m5 0h1m14 0h1m-41 1h1m16 0h1m3 0h1m1 0h1m43 0h1m-64 1h1m1 0h1m10 0h1m56 0h1m-67 1h2m5 0h1m5 3h1m9 1h1" stroke="#008000" stroke-width="1" fill="none" shape-rendering="crispEdges" opacity="0.68"/>
<path d="M1310 543.5h1m0 1h1m2 0h2m5 0h1m-12 1h5m5 0h1m1 0h2m-20 1h1m5 0h1m2 0h1m3 0h1m1 0h1m2 0h2m-13 1h2m3 0h3m1 0h1m-11 1h1m1 0h2m2 0h1m1 0h3m-16 1h1m4 0h4m2 0h4m-16 1h1m3 0h2m1 0h9m3 0h2m-23 1h2m3 0h2m1 0h4m1 0h4m1 0h1m2 0h2m-23 1h1m4 0h5m1 0h1m1 0h9m-19 1h5m1 0h1m2 0h7m1 0h1m-20 1h3m1 0h2m3 0h1m1 0h2m2 0h2m1 0h1m-18 1h2m1 0h1m2 0h11m-21 1h1m2 0h6m1 0h4m1 0h5m-17 1h3m2 0h1m2 0h5m1 0h2m1 0h1m-18 1h3m1 0h2m1 0h1m2 0h3m1 0h2m1 0h2m-20 1h1m1 0h1m2 0h4m1 0h3m1 0h4m2 0h1m-20 1h1m4 0h1m1 0h5m2 0h2m4 0h1m1 0h1m-23 1h1m1 0h1m2 0h4m1 0h2m3 0h1m1 0h1m2 0h3m-24 1h3m1 0h1m1 0h3m1 0h6m3 0h1m2 0h1m-23 1h1m2 0h1m1 0h2m2 0h2m1 0h3m-15 1h1m2 0h2m2 0h6m1 0h2m2 0h1m-20 1h1m1 0h2m4 0h4m1 0h2m2 0h3m-21 1h1m3 0h3m3 0h3m1 0h1m1 0h2m-14 1h2m3 0h5m-10 1h4m2 0h1m1 0h1m5 0h2m-14 1h4m1 0h1m1 0h1m-7 1h2m3 0h3m-10 1h1m2 0h1m4 0h2m-1 1h1m-20 7h2m0 1h1m5 0h1m-2 1h1m-7 1h1m5 0h2m-17 2h1m4 0h1m3 0h1m-6 1h1m-6 9h2" stroke="#ff0000" stroke-width="1" fill="none" shape-rendering="crispEdges"/>
<path d="M1314 521.5h1m15 7h1m-25 4h1m12 0h1m-11 1h1m8 0h1m6 0h2m-9 1h1m5 0h1m-25 1h1m9 0h1m15 0h1m0 1h1m-11 1h1m6 0h1m6 0h1m-17 1h1m3 0h1m-14 1h2m3 0h1m4 0h1m3 0h1m10 1h1m-26 1h1m11 0h1m-18 1h1m8 0h2m2 0h1m1 0h1m2 0h1m1 0h1m2 0h1m-22 1h1m9 0h1m2 0h1m-8 1h1m8 0h1m1 0h1m2 0h1m5 0h1m-27 1h1m1 0h1m-1 1h1m9 0h1m13 0h1m-31 1h1m9 0h1m15 0h1m-23 1h2m1 0h2m17 0h1m-33 1h1m27 0h1m1 0h1m3 0h1m-36 1h1m1 0h1m7 0h1m2 0h1m15 0h1m13 0h1m-10 1h1m-22 1h1m20 0h1m2 0h1m-28 1h1m-6 1h1m27 0h1m-27 1h1m22 0h2m2 0h1m-30 1h1m28 0h1m4 0h1m-33 1h1m1 0h1m20 0h3m7 0h1m-34 1h1m37 0h1m-46 1h1m8 0h1m23 0h1m1 0h2m8 0h1m-40 1h1m6 0h1m15 0h1m7 0h1m-29 2h1m18 0h1m1 0h1m-27 1h1m21 0h1m-19 1h1m20 0h1m12 0h1m-40 1h1m11 0h1m15 0h1m8 0h1m-31 1h1m30 0h1m-38 1h2m1 0h2m7 0h1m5 0h1m1 0h1m2 0h1m1 0h2m-27 2h2m17 0h1m2 0h1m-20 1h1m1 0h1m2 0h1m18 0h2m-24 1h1m2 0h1m1 0h1m4 0h1m5 0h1m2 0h1m-23 1h1m10 0h2m4 0h1m3 0h1m1 0h1m-24 1h1m7 0h1m5 0h1m9 0h1m-25 1h1m4 0h1m3 0h1m3 0h2m3 0h1m1 0h1m2 0h1m3 0h1m-21 1h1m1 0h1m1 0h1m-7 1h2m14 0h1m-22 1h1m13 0h1m1 0h1m5 0h1m-26 1h1m3 0h1m4 0h1m6 0h1m4 0h1m-25 1h1m5 0h1m5 0h1m9 0h1m-41 1h1m19 0h1m1 1h1m1 0h1m5 0h1m1 0h1m2 0h1m-18 1h1m-6 1h1m5 0h1m1 0h1m1 0h1m5 0h1m12 0h1m-26 1h1m9 0h1m4 0h2m-21 1h2m6 0h1m11 0h1m3 0h1m8 0h1m-37 1h1m5 0h2m3 0h1m6 0h1m0 1h1m5 0h1m-24 1h1m13 0h1m-15 1h1m6 0h1m2 0h1m-15 1h1m4 0h1m5 0h1m-13 1h1m10 0h1m2 0h1m4 0h1m-16 1h1m1 1h1m6 0h1m-6 1h1m6 0h1m-10 1h1m-5 1h2m-1 1h1m2 1h1m4 0h1m-17 1h1m4 0h1m2 0h1m8 0h1m-4 1h2m1 1h1m-15 1h1m5 0h1m7 0h1m-11 2h1m4 0h1m-4 1h1m5 0h1" stroke="#ff0000" stroke-width="1" fill="none" shape-rendering="crispEdges" opacity="0.72"/>
<path d="M1202.6 477.9V683.4H1398.5M1202.6 478.9h-3.3M1202.6 514.6h-3.1M1202.6 505.6h-3.1M1202.6 499.2h-3.1M1202.6 494.3h-3.1M1202.6 490.2h-3.1M1202.6 486.8h-3.1M1202.6 483.9h-3.1M1202.6 481.2h-3.1M1202.6 530.0h-3.3M1202.6 565.8h-3.1M1202.6 556.8h-3.1M1202.6 550.4h-3.1M1202.6 545.4h-3.1M1202.6 541.4h-3.1M1202.6 537.9h-3.1M1202.6 535.0h-3.1M1202.6 532.4h-3.1M1202.6 581.1h-3.3M1202.6 616.9h-3.1M1202.6 607.9h-3.1M1202.6 601.5h-3.1M1202.6 596.5h-3.1M1202.6 592.5h-3.1M1202.6 589.1h-3.1M1202.6 586.1h-3.1M1202.6 583.5h-3.1M1202.6 632.3h-3.3M1202.6 668.0h-3.1M1202.6 659.0h-3.1M1202.6 652.6h-3.1M1202.6 647.7h-3.1M1202.6 643.6h-3.1M1202.6 640.2h-3.1M1202.6 637.2h-3.1M1202.6 634.6h-3.1M1202.6 683.4h-3.3M1202.6 683.4v3.3M1217.3 683.4v3.0M1225.9 683.4v3.0M1232.0 683.4v3.0M1236.7 683.4v3.0M1240.6 683.4v3.0M1243.9 683.4v3.0M1246.7 683.4v3.0M1249.2 683.4v3.0M1251.4 683.4v3.3M1266.2 683.4v3.0M1274.8 683.4v3.0M1280.9 683.4v3.0M1285.6 683.4v3.0M1289.5 683.4v3.0M1292.7 683.4v3.0M1295.6 683.4v3.0M1298.1 683.4v3.0M1300.3 683.4v3.3M1315.0 683.4v3.0M1323.6 683.4v3.0M1329.7 683.4v3.0M1334.4 683.4v3.0M1338.3 683.4v3.0M1341.6 683.4v3.0M1344.4 683.4v3.0M1346.9 683.4v3.0M1349.2 683.4v3.3M1363.9 683.4v3.0M1372.5 683.4v3.0M1378.6 683.4v3.0M1383.3 683.4v3.0M1387.2 683.4v3.0M1390.4 683.4v3.0M1393.3 683.4v3.0M1395.8 683.4v3.0M1398.0 683.4v3.3" stroke="#1e1e1e" stroke-width="1" fill="none" shape-rendering="crispEdges"/>
<rect x="1268.2" y="485.8" width="70.5" height="121.1" fill="none" stroke="#4646ff" stroke-width="1.3"/>
<text x="1170.2" y="485.8" font-size="18">10<tspan font-size="11.4" dy="-4.3" dx="-.8">5</tspan></text>
<text x="1170.2" y="533.0" font-size="18">10<tspan font-size="11.4" dy="-4.3" dx="-.8">4</tspan></text>
<text x="1170.2" y="583.7" font-size="18">10<tspan font-size="11.4" dy="-4.3" dx="-.8">3</tspan></text>
<text x="1170.2" y="637.0" font-size="18">10<tspan font-size="11.4" dy="-4.3" dx="-.8">2</tspan></text>
<text x="1170.2" y="685.0" font-size="18">10<tspan font-size="11.4" dy="-4.3" dx="-.8">1</tspan></text>
<text x="1235.9" y="706.0" font-size="18">10<tspan font-size="11.4" dy="-4.3" dx="-.8">2</tspan></text>
<text x="1284.8" y="706.0" font-size="18">10<tspan font-size="11.4" dy="-4.3" dx="-.8">3</tspan></text>
<text x="1333.8" y="706.0" font-size="18">10<tspan font-size="11.4" dy="-4.3" dx="-.8">4</tspan></text>
<text x="1380.2" y="706.0" font-size="18">10<tspan font-size="11.4" dy="-4.3" dx="-.8">5</tspan></text>
<text x="1266.6" y="479.2" font-size="18.6" textLength="65.6" lengthAdjust="spacingAndGlyphs">72-77hpi</text>
<path d="M1467 602.5h2m-2 1h3m1 0h2m4 0h1m-12 1h6m1 0h1m2 0h2m2 0h1m2 0h1m-20 1h1m1 0h4m1 0h12m1 0h1m-29 1h4m1 0h19m2 0h2m2 0h1m-31 1h31m-35 1h1m3 0h32m1 0h1m-37 1h37m-40 1h2m1 0h38m-44 1h1m1 0h43m-47 1h2m1 0h3m1 0h40m-46 1h47m1 0h2m-49 1h46m1 0h2m-49 1h50m-53 1h50m2 0h1m-55 1h1m1 0h52m1 0h1m-57 1h55m-55 1h56m-60 1h3m1 0h56m-60 1h60m2 0h1m-64 1h1m1 0h2m1 0h57m-61 1h60m-59 1h60m-62 1h63m-63 1h61m1 0h1m-65 1h64m-64 1h64m-65 1h64m-62 1h64m-64 1h63m-64 1h64m-65 1h4m1 0h58m1 0h2m-65 1h63m-64 1h64m-64 1h64m-64 1h1m1 0h62m-64 1h62m1 0h1m-64 1h64m-64 1h62m-62 1h63m-63 1h61m1 0h1m-63 1h62m-61 1h60m-61 1h1m1 0h2m1 0h57m-62 1h60m1 0h1m-61 1h4m1 0h55m1 0h1m-63 1h60m1 0h1m-61 1h6m1 0h51m1 0h3m-63 1h59m1 0h2m-62 1h61m-60 1h58m-59 1h9m1 0h50m-60 1h9m1 0h48m-57 1h57m-58 1h4m1 0h53m-57 1h54m2 0h1m-58 1h55m1 0h1m-57 1h54m1 0h2m-57 1h55m1 0h1m-57 1h56m-54 1h53m1 0h1m-57 1h56m-56 1h54m-54 1h53m-53 1h54m-54 1h52m1 0h1m-54 1h5m1 0h48m-54 1h54m-53 1h52m-53 1h13m1 0h39m-53 1h53m-52 1h52m-53 1h52m-52 1h52m-52 1h12m1 0h40m-53 1h6m1 0h44m1 0h1m-53 1h52m-51 1h51m-52 1h51m-51 1h51m-51 1h3m2 0h44m2 0h1" stroke="#828282" stroke-width="1" fill="none" shape-rendering="crispEdges"/>
<path d="M1587 533.5h1m-12 10h1m6 6h1m-2 2h1m0 4h1m-2 1h1m-8 5h1m5 0h1m-2 6h1m18 2h1m-31 1h1m3 0h1m4 0h1m1 0h1m14 1h1m-16 3h1m-2 8h1m11 0h1m-23 3h1m3 3h1m19 4h1m-122 3h1m106 0h1m-117 1h1m108 0h1m-112 1h1m9 0h1m5 1h1m-38 1h1m40 0h1m-35 1h1m6 0h1m2 0h1m-13 1h1m36 0h1m-38 1h1m31 0h1m13 0h1m6 0h1m-20 1h1m2 0h1m1 0h1m1 0h1m-23 1h1m22 0h1m4 0h1m-44 1h1m6 0h1m28 0h1m4 1h1m-40 1h1m2 0h1m35 0h1m-40 1h1m-4 1h2m42 0h1m-52 1h1m5 0h1m44 0h1m12 0h1m-61 1h1m51 0h1m-56 1h1m52 0h1m1 1h1m-59 2h1m0 1h2m56 0h1m7 0h1m-70 1h1m60 0h1m-60 1h1m-3 1h1m61 0h1m-65 2h1m62 0h1m1 0h1m-1 1h1m3 0h1m-70 2h1m80 0h1m-17 1h1m-68 2h1m65 1h1m-1 1h1m-67 1h1m66 1h1m-2 2h2m0 2h1m-4 1h1m1 0h1m-1 1h1m-4 2h1m-1 2h1m2 0h1m-4 1h1m-3 1h1m2 0h1m-3 5h1m2 2h1m2 0h2m-4 2h1m-8 1h1m4 0h1m-7 3h1m-2 2h1m3 0h1m-5 1h1m3 0h1m11 0h1m-13 1h1m-6 3h1m-3 2h1m0 1h1m4 1h1m-2 3h1m4 0h1m-12 2h1m1 0h1m-4 3h2m-1 2h1m-2 1h1m3 0h1m-6 3h1m-1 1h1" stroke="#828282" stroke-width="1" fill="none" shape-rendering="crispEdges" opacity="0.62"/>
<path d="M1519 615.5h2m-2 1h2m-10 1h2m7 0h1m53 0h2m1 0h2m1 0h3m-72 1h1m62 0h1m2 0h3m1 0h1m-5 1h1m1 0h3m-4 1h3m-5 1h3m1 0h2m-7 1h3m1 0h1m-4 1h2m1 0h1m-11 1h1m1 0h1m4 0h3m-70 1h2m1 0h2m54 0h1m1 0h2m4 0h2m-69 1h1m4 0h2m56 0h2m-70 1h1m4 0h1m5 0h1m56 0h3m4 0h1m-7 1h4m3 0h2m-66 1h2m54 0h4m4 0h1m-66 1h2m3 0h1m52 0h1m6 0h1m3 0h1m-72 1h2m1 0h1m56 0h3m4 0h2m1 0h1m1 0h1m-77 1h3m2 0h1m3 0h1m1 0h1m46 0h1m4 0h5m2 0h2m3 0h1m-76 1h2m3 0h1m3 0h4m45 0h2m2 0h3m1 0h1m-63 1h3m1 0h1m1 0h1m1 0h1m46 0h1m9 0h1m-66 1h1m4 0h3m1 0h2m6 0h1m47 0h2m-68 1h2m4 0h1m1 0h3m53 0h2m1 0h1m-71 1h1m2 0h2m3 0h1m1 0h1m1 0h1m54 0h1m1 0h1m1 0h2m-71 1h2m5 0h1m58 0h2m1 0h1m-67 1h1m63 0h2m-70 1h2m3 0h1m6 0h2m44 0h1m10 0h1m-70 1h2m4 0h1m6 0h1m-8 1h5m54 0h2m-61 1h3m2 0h1m-6 1h1m1 0h2m1 0h2m-14 1h2m4 0h1m1 0h4m1 0h3m48 0h1m-68 1h1m1 0h2m2 0h3m1 0h3m4 0h1m49 0h2m-69 1h2m5 0h4m-10 1h2m4 0h3m-4 1h3m2 0h1m-7 1h1m2 0h5m1 0h2m-11 1h3m1 0h1m3 0h2m-9 1h3m3 0h1m-2 1h3m1 0h1m-2 1h1" stroke="#008000" stroke-width="1" fill="none" shape-rendering="crispEdges"/>
<path d="M1581 600.5h1m-10 4h1m17 1h1m-14 2h1m-80 1h1m11 0h1m60 0h3m-76 1h1m24 0h1m23 0h1m36 0h1m-71 1h1m65 0h1m4 0h1m-80 1h1m9 0h2m17 0h1m1 0h1m10 0h1m23 0h2m1 0h1m3 0h1m-66 1h1m12 0h1m1 0h1m42 0h1m5 0h1m20 0h1m-102 1h1m69 0h1m10 0h1m-22 1h1m11 0h1m13 0h1m-81 1h1m10 0h1m5 0h1m46 0h1m2 0h1m5 0h1m2 0h1m1 0h2m-58 1h1m3 0h1m4 0h1m6 0h1m1 0h1m28 0h1m1 0h1m9 0h1m-79 1h1m2 0h1m2 0h1m69 0h1m1 0h1m-79 1h1m7 0h1m1 0h1m3 0h1m6 0h1m6 0h1m17 0h1m12 0h1m23 0h1m-89 1h1m5 0h1m2 0h1m3 0h1m9 0h1m44 0h1m3 0h2m11 0h1m-86 1h1m7 0h1m2 0h1m23 0h1m1 0h1m28 0h1m3 0h1m16 0h1m-82 1h1m12 0h1m8 0h1m36 0h1m5 0h1m-75 1h1m6 0h1m6 0h2m4 0h1m2 0h1m6 0h1m34 0h1m17 0h2m-81 1h1m1 0h1m2 0h1m16 0h1m26 0h1m16 0h1m2 0h2m10 0h1m1 0h1m-89 1h1m11 0h1m1 0h1m5 0h2m14 0h1m32 0h1m12 0h1m5 0h1m4 0h1m3 0h1m-94 1h1m12 0h1m6 0h1m3 0h1m31 0h1m3 0h1m4 0h1m7 0h1m8 0h1m5 0h1m-89 1h1m1 0h1m6 0h1m7 0h2m1 0h1m4 0h1m25 0h1m1 0h1m3 0h3m7 0h1m9 0h2m2 0h1m28 0h1m-105 1h1m16 0h2m15 0h1m39 0h1m5 0h1m31 0h1m-118 1h1m1 0h1m4 0h1m1 0h1m2 0h1m2 0h1m10 0h2m34 0h1m2 0h1m2 0h1m5 0h1m8 0h1m3 0h1m-84 1h2m1 0h1m8 0h1m1 0h3m41 0h1m16 0h1m1 0h1m-85 1h1m4 0h1m19 0h1m24 0h1m10 0h1m9 0h1m4 0h1m1 0h1m19 0h1m-98 1h1m7 0h1m2 0h1m5 0h1m1 0h1m1 0h1m1 0h1m4 0h1m8 0h1m12 0h1m16 0h1m9 0h1m3 0h1m-85 1h1m8 0h1m8 0h1m5 0h1m2 0h1m10 0h1m4 0h1m27 0h1m15 0h1m31 0h1m-113 1h1m76 0h1m27 0h1m-106 1h1m3 0h1m6 0h1m30 0h1m18 0h1m3 0h1m4 0h1m1 0h1m3 0h1m4 0h1m-81 1h1m4 0h1m12 0h1m1 0h2m1 0h1m1 0h1m4 0h1m31 0h1m4 0h1m17 0h1m16 0h1m-103 1h1m8 0h1m13 0h1m5 0h1m11 0h1m11 0h1m4 0h1m7 0h1m9 0h1m2 0h1m19 0h1m-100 1h1m1 0h1m7 0h1m8 0h1m24 0h1m14 0h1m4 0h1m4 0h1m-77 1h1m8 0h1m1 0h1m14 0h1m29 0h1m7 0h1m2 0h1m4 0h1m10 0h1m1 0h1m2 0h1m-75 1h1m1 0h1m1 0h1m3 0h1m1 0h1m2 0h1m5 0h1m29 0h1m4 0h1m1 0h1m4 0h1m-69 1h1m11 0h1m7 0h1m18 0h1m6 0h1m4 0h1m2 0h1m10 0h2m-61 1h1m1 0h1m5 0h1m7 0h1m13 0h1m7 0h1m14 0h1m3 0h2m3 0h1m2 0h2m1 0h1m-76 1h1m18 0h1m28 0h2m8 0h1m9 0h1m11 0h1m-81 1h1m1 0h2m1 0h3m1 0h1m11 0h1m5 0h1m6 0h1m6 0h1m21 0h1m2 0h1m4 0h1m1 0h3m49 0h1m-107 1h1m7 0h1m27 0h1m13 0h1m29 0h1m-106 1h1m1 0h1m30 0h1m12 0h1m3 0h1m16 0h1m2 0h1m2 0h1m6 0h1m1 0h1m26 0h1m12 0h1m-119 1h1m1 0h1m5 0h1m14 0h1m1 0h1m18 0h1m16 0h1m17 0h1m-85 1h1m19 0h1m1 0h1m5 0h1m3 0h1m40 0h1m2 0h1m-66 1h1m1 0h1m19 0h1m16 0h1m1 0h1m14 0h1m13 0h1m17 0h1m-77 1h1m3 0h1m3 0h1m18 0h1m20 0h1m12 0h1m-77 1h1m44 0h1m2 0h1m13 0h1m1 0h1m3 0h1m9 0h1m40 0h1m-104 1h1m2 0h1m17 0h1m2 0h1m11 0h1m21 0h1m1 0h1m3 0h1m5 0h1m37 0h1m-109 1h1m17 0h1m8 0h1m14 0h1m2 0h1m1 0h1m7 0h1m-77 1h1m4 0h1m2 0h1m2 0h1m22 0h1m5 0h1m2 0h1m5 0h1m3 0h1m63 0h1m-110 1h1m6 0h1m4 0h1m3 0h1m5 0h1m3 0h1m3 0h1m33 0h2m1 0h1m2 0h1m-66 1h1m8 0h1m11 0h1m88 0h1m-113 1h1m7 0h1m1 0h1m1 0h1m-25 1h1m4 0h1m2 0h3m2 0h1m1 0h1m8 0h1m49 0h1m-70 1h1m16 0h1m13 0h1m3 0h2m10 0h1m2 0h1m1 0h1m14 0h1m-70 1h1m5 0h1m8 0h1m15 0h1m6 0h1m38 0h1m-79 1h1m11 0h2m5 0h1m30 0h1m16 0h1m-63 1h1m2 0h1m10 0h1m10 0h1m21 0h1m-48 1h1m3 0h1m4 0h1m5 0h1m26 0h1m-47 1h1m9 0h2m57 0h1m8 0h1m16 0h1m-52 1h1m46 0h1m-46 1h1m20 0h1m-59 1h1m-3 1h1m9 0h1m4 0h1m-22 1h1m12 0h1m14 4h1m8 0h1m0 1h1m3 0h1m-24 2h1m1 0h1m2 0h1m24 0h1m-57 6h1" stroke="#008000" stroke-width="1" fill="none" shape-rendering="crispEdges" opacity="0.68"/>
<path d="M1546 534.5h1m-4 10h3m-3 1h2m-12 1h2m5 0h1m-9 1h2m1 0h1m4 0h3m-10 1h1m1 0h2m2 0h3m1 0h1m-9 1h1m2 0h2m1 0h1m1 0h2m1 0h2m-10 1h1m1 0h8m-15 1h3m2 0h1m2 0h3m3 0h1m1 0h3m-19 1h2m1 0h3m2 0h3m1 0h5m-20 1h1m1 0h4m1 0h5m2 0h1m1 0h4m-22 1h2m1 0h1m4 0h1m1 0h3m2 0h3m3 0h1m-22 1h2m2 0h1m4 0h5m1 0h2m1 0h5m-22 1h1m3 0h1m2 0h7m1 0h4m2 0h1m1 0h1m-21 1h8m4 0h3m4 0h1m-21 1h2m1 0h2m1 0h5m2 0h3m-18 1h1m1 0h4m2 0h5m3 0h2m-17 1h1m1 0h1m1 0h2m1 0h12m5 0h1m-23 1h1m1 0h1m1 0h4m1 0h2m2 0h4m-17 1h1m1 0h2m1 0h11m6 0h1m-22 1h1m1 0h2m1 0h9m8 0h1m-24 1h2m2 0h5m1 0h2m2 0h3m-16 1h2m1 0h4m1 0h3m3 0h1m1 0h1m-21 1h1m3 0h4m1 0h2m2 0h1m1 0h1m1 0h2m1 0h3m-24 1h1m7 0h1m1 0h1m1 0h7m1 0h1m1 0h2m-25 1h1m1 0h1m3 0h2m3 0h7m1 0h1m2 0h1m-23 1h2m3 0h3m2 0h1m1 0h5m1 0h1m1 0h2m-22 1h1m4 0h2m1 0h2m1 0h1m1 0h3m3 0h2m-20 1h1m1 0h5m2 0h1m1 0h2m5 0h1m-18 1h1m1 0h1m13 0h1m1 0h1m-18 1h1m15 0h1m-13 2h1m2 0h2m-5 1h1m2 0h2m4 0h1m-10 1h2m-11 1h1m6 0h2m1 0h2m-19 1h1m6 0h3m5 0h2m-9 1h2m-4 8h1m-1 1h1m-12 4h1m3 1h1m-1 1h1m-16 7h1m-1 1h1" stroke="#ff0000" stroke-width="1" fill="none" shape-rendering="crispEdges"/>
<path d="M1563 514.5h1m-18 9h1m-26 6h1m10 0h1m30 0h1m-34 1h1m8 1h2m8 1h1m1 0h1m-7 1h2m1 1h1m1 0h1m14 0h1m-20 1h1m-5 1h1m-3 1h1m5 0h1m3 0h1m1 0h1m1 0h1m4 0h1m-25 1h1m11 0h1m7 0h1m-20 1h1m1 1h1m25 0h1m-30 1h1m1 0h1m3 0h1m2 0h1m7 0h1m-15 1h1m4 0h1m3 0h1m-17 1h1m3 0h2m2 0h1m1 0h1m6 0h1m4 0h2m-18 1h1m1 0h1m7 0h1m5 0h1m8 0h1m-31 1h1m1 0h1m5 0h1m5 0h1m9 0h1m-3 1h1m-12 1h1m2 0h1m1 0h1m1 0h2m-21 1h1m5 0h1m-11 1h1m5 0h1m18 0h1m-22 1h1m4 0h1m12 0h1m2 0h1m3 0h1m4 0h1m-32 1h1m25 0h1m-27 1h1m20 0h1m1 0h1m-1 1h1m7 0h1m-4 1h1m-42 1h1m15 0h1m1 0h1m16 0h1m2 1h1m-34 1h1m5 0h1m19 0h1m3 0h1m2 0h1m-30 1h1m2 0h1m12 0h1m6 0h1m1 1h1m1 0h1m1 0h1m3 0h1m1 0h1m-38 1h1m1 0h2m1 0h1m22 0h1m-3 1h1m3 0h1m-36 1h1m11 0h1m17 0h1m6 0h1m1 0h1m-31 1h1m25 0h1m4 0h1m-35 1h1m23 0h1m6 0h1m-42 1h1m6 0h1m2 0h1m2 0h1m26 0h1m-34 1h1m9 0h1m20 0h1m-31 1h1m6 0h1m-23 1h1m15 0h1m11 0h1m15 0h1m8 0h1m-44 1h1m4 0h1m5 0h1m1 0h1m18 0h1m-31 1h2m29 0h1m13 0h1m-52 1h1m11 0h1m17 0h1m-23 1h2m1 0h1m2 0h1m8 0h1m1 0h1m2 0h1m-9 1h1m6 0h1m1 0h1m4 0h1m2 0h1m8 0h1m-32 1h1m3 0h1m5 0h2m3 0h2m-30 1h1m5 0h1m3 0h1m1 0h1m2 0h1m3 0h1m6 0h1m-29 1h2m4 0h1m1 0h1m2 0h1m3 0h1m37 0h1m-36 1h1m6 0h1m2 0h2m-27 1h1m19 0h1m16 0h1m-36 1h1m4 0h1m4 0h1m15 0h1m-46 1h1m16 0h1m1 0h1m2 0h1m7 0h2m14 0h1m-37 1h1m11 0h1m4 0h1m7 0h1m3 0h1m3 0h1m-25 1h1m4 0h1m6 0h1m1 0h1m2 0h1m1 0h1m5 0h2m-34 1h1m5 0h1m7 0h1m2 0h1m16 0h1m19 0h1m-59 1h1m7 0h1m7 0h1m1 0h1m9 0h1m1 0h1m-11 1h1m6 0h1m-20 1h1m5 0h1m4 0h1m-11 1h1m1 0h1m13 0h1m9 0h1m-28 1h1m4 0h1m1 0h1m5 0h2m17 0h1m-43 1h1m18 0h1m5 0h1m-16 1h1m2 0h1m7 0h1m-21 1h1m28 0h1m-28 1h1m4 0h2m2 0h1m10 0h1m-8 1h1m-17 1h1m5 0h2m12 0h1m-17 1h1m5 0h1m1 0h1m2 0h1m-10 1h1m6 1h1m-9 1h2m-9 1h1m-2 1h1m5 0h1m6 0h1m-12 1h1m4 0h1m1 0h1m7 0h1m0 1h1m-21 1h1m1 0h1m3 0h1m2 0h1m7 0h1m2 0h1m34 1h1m-58 1h1m14 1h1m31 0h1" stroke="#ff0000" stroke-width="1" fill="none" shape-rendering="crispEdges" opacity="0.72"/>
<path d="M1431.6 477.0V683.4H1629.2M1431.6 478.0h-3.3M1431.6 513.9h-3.1M1431.6 504.8h-3.1M1431.6 498.4h-3.1M1431.6 493.5h-3.1M1431.6 489.4h-3.1M1431.6 486.0h-3.1M1431.6 483.0h-3.1M1431.6 480.3h-3.1M1431.6 529.4h-3.3M1431.6 565.2h-3.1M1431.6 556.2h-3.1M1431.6 549.8h-3.1M1431.6 544.8h-3.1M1431.6 540.7h-3.1M1431.6 537.3h-3.1M1431.6 534.3h-3.1M1431.6 531.7h-3.1M1431.6 580.7h-3.3M1431.6 616.6h-3.1M1431.6 607.5h-3.1M1431.6 601.1h-3.1M1431.6 596.2h-3.1M1431.6 592.1h-3.1M1431.6 588.7h-3.1M1431.6 585.7h-3.1M1431.6 583.0h-3.1M1431.6 632.0h-3.3M1431.6 667.9h-3.1M1431.6 658.9h-3.1M1431.6 652.5h-3.1M1431.6 647.5h-3.1M1431.6 643.4h-3.1M1431.6 640.0h-3.1M1431.6 637.0h-3.1M1431.6 634.4h-3.1M1431.6 683.4h-3.3M1431.6 683.4v3.3M1446.4 683.4v3.0M1455.1 683.4v3.0M1461.3 683.4v3.0M1466.0 683.4v3.0M1469.9 683.4v3.0M1473.2 683.4v3.0M1476.1 683.4v3.0M1478.6 683.4v3.0M1480.9 683.4v3.3M1495.7 683.4v3.0M1504.4 683.4v3.0M1510.5 683.4v3.0M1515.3 683.4v3.0M1519.2 683.4v3.0M1522.5 683.4v3.0M1525.4 683.4v3.0M1527.9 683.4v3.0M1530.2 683.4v3.3M1545.0 683.4v3.0M1553.7 683.4v3.0M1559.8 683.4v3.0M1564.6 683.4v3.0M1568.5 683.4v3.0M1571.8 683.4v3.0M1574.6 683.4v3.0M1577.2 683.4v3.0M1579.4 683.4v3.3M1594.3 683.4v3.0M1602.9 683.4v3.0M1609.1 683.4v3.0M1613.9 683.4v3.0M1617.8 683.4v3.0M1621.1 683.4v3.0M1623.9 683.4v3.0M1626.4 683.4v3.0M1628.7 683.4v3.3" stroke="#1e1e1e" stroke-width="1" fill="none" shape-rendering="crispEdges"/>
<rect x="1497.4" y="485.3" width="70.5" height="121.3" fill="none" stroke="#4646ff" stroke-width="1.3"/>
<text x="1397.6" y="485.8" font-size="18">10<tspan font-size="11.4" dy="-4.3" dx="-.8">5</tspan></text>
<text x="1397.6" y="533.0" font-size="18">10<tspan font-size="11.4" dy="-4.3" dx="-.8">4</tspan></text>
<text x="1397.6" y="583.7" font-size="18">10<tspan font-size="11.4" dy="-4.3" dx="-.8">3</tspan></text>
<text x="1397.6" y="637.0" font-size="18">10<tspan font-size="11.4" dy="-4.3" dx="-.8">2</tspan></text>
<text x="1397.6" y="685.0" font-size="18">10<tspan font-size="11.4" dy="-4.3" dx="-.8">1</tspan></text>
<text x="1459.4" y="706.0" font-size="18">10<tspan font-size="11.4" dy="-4.3" dx="-.8">2</tspan></text>
<text x="1508.4" y="706.0" font-size="18">10<tspan font-size="11.4" dy="-4.3" dx="-.8">3</tspan></text>
<text x="1557.3" y="706.0" font-size="18">10<tspan font-size="11.4" dy="-4.3" dx="-.8">4</tspan></text>
<text x="1603.7" y="706.0" font-size="18">10<tspan font-size="11.4" dy="-4.3" dx="-.8">5</tspan></text>
<text x="1489.7" y="479.2" font-size="18.6" textLength="75.5" lengthAdjust="spacingAndGlyphs">96-101hpi</text>
<path d="M110 937.5h1m8 1h1m-13 1h1m6 0h3m2 0h2m-22 1h2m1 0h3m1 0h2m5 0h1m1 0h1m1 0h4m1 0h1m-23 1h3m1 0h2m1 0h15m1 0h1m-28 1h2m2 0h2m1 0h1m1 0h20m-29 1h2m1 0h3m1 0h21m-31 1h2m1 0h1m1 0h26m-31 1h31m-32 1h1m2 0h30m-37 1h1m2 0h34m-37 1h1m2 0h33m1 0h1m-40 1h1m1 0h2m1 0h35m-41 1h1m1 0h38m-42 1h4m1 0h38m-42 1h42m-46 1h2m2 0h41m1 0h1m2 0h1m-51 1h1m1 0h48m-52 1h50m-50 1h5m1 0h44m-50 1h51m-51 1h49m1 0h1m-51 1h6m1 0h41m2 0h2m-52 1h7m2 0h43m-52 1h1m1 0h46m1 0h2m-51 1h48m-48 1h7m1 0h41m-49 1h48m1 0h1m-50 1h50m-50 1h2m1 0h46m-49 1h47m1 0h1m-49 1h48m-48 1h49m-49 1h4m1 0h44m-49 1h49m-48 1h4m1 0h3m1 0h39m-49 1h6m1 0h40m1 0h2m-50 1h48m-48 1h46m-46 1h47m-47 1h46m1 0h1m-48 1h48m-48 1h46m1 0h1m-48 1h46m-46 1h47m-47 1h48m-48 1h45m-45 1h47m-47 1h46m1 0h1m-48 1h6m1 0h40m-47 1h46m-46 1h3m1 0h43m-47 1h44m2 0h1m-47 1h44m-44 1h44m2 0h1m-47 1h46m-46 1h45m-45 1h44m-43 1h44m-45 1h2m1 0h40m-43 1h43m-43 1h44m1 0h2m-47 1h43m1 0h3m-47 1h44m1 0h1m-46 1h43m-43 1h5m1 0h38m-44 1h44m-44 1h45m-45 1h42m1 0h2m-44 1h44m-45 1h4m1 0h39m-44 1h43m-43 1h1m1 0h3m1 0h38m-44 1h42m-42 1h42m-42 1h42m1 0h2m-45 1h45m-45 1h12m1 0h30m-43 1h11m1 0h1m1 0h29m-43 1h12m1 0h29m1 0h1m-44 1h43" stroke="#828282" stroke-width="1" fill="none" shape-rendering="crispEdges"/>
<path d="M125 927.5h1m2 1h1m-23 1h1m-4 2h1m5 5h1m1 0h1m1 0h1m2 0h1m-8 1h1m4 0h1m5 0h2m-32 2h1m13 0h1m3 0h1m2 0h2m9 0h1m13 0h1m3 0h1m-45 1h1m27 0h1m-27 1h1m-10 1h1m4 0h1m32 0h1m-47 1h1m0 1h1m8 0h1m-9 1h1m7 0h1m33 0h1m-42 1h1m47 0h1m-46 1h1m1 0h1m38 0h1m-50 1h1m46 0h1m-42 1h1m45 0h1m3 0h1m-59 1h1m2 0h1m2 0h1m47 0h1m-1 1h1m-55 1h1m49 0h2m-52 1h1m52 0h1m1 0h2m-6 2h1m1 0h1m1 2h1m2 0h1m-1 1h1m-3 1h1m-5 3h1m-4 1h1m1 1h1m-2 2h1m1 0h2m-1 1h1m4 0h1m-9 1h1m5 0h1m0 1h1m-3 1h1m4 0h1m-10 1h1m-1 1h1m2 0h1m-5 2h1m8 0h1m-10 1h1m9 0h1m-8 1h1m-1 1h1m6 0h1m-12 1h1m4 0h1m4 1h1m-12 1h1m9 0h1m-11 1h1m9 0h1m1 0h1m-13 2h1m1 0h1m-3 1h1m1 0h1m0 3h1m-4 1h1m4 0h1m-5 1h1m-5 1h1m3 1h1m-4 1h1m2 0h1m1 1h1m3 0h1m-11 1h1m2 0h1m4 0h1m-7 1h1m10 0h2m-15 1h1m10 0h1m2 0h1m-8 3h1m7 0h1m-16 3h1m10 0h1m1 0h1m0 1h1m-13 3h1m4 0h1m-8 1h1m11 0h1m2 2h1m-18 1h1m1 0h1m1 0h1m13 2h1m-4 1h1m-8 1h1m-7 1h1m-2 2h1" stroke="#828282" stroke-width="1" fill="none" shape-rendering="crispEdges" opacity="0.62"/>
<path d="M161 946.5h1m-1 1h2m2 0h1m6 0h1m-16 1h1m2 0h1m1 0h2m2 0h2m3 0h3m-15 1h3m1 0h2m1 0h2m1 0h1m1 0h1m1 0h1m-13 1h8m1 0h1m1 0h2m4 0h1m-23 1h1m1 0h8m1 0h7m1 0h1m1 0h5m-27 1h10m1 0h2m2 0h7m1 0h1m1 0h1m1 0h1m-29 1h1m1 0h2m1 0h16m2 0h1m3 0h2m-30 1h2m1 0h3m1 0h2m1 0h14m3 0h3m-28 1h18m1 0h2m1 0h1m3 0h1m-25 1h4m1 0h16m-20 1h4m1 0h13m2 0h1m3 0h1m-27 1h1m1 0h20m1 0h1m1 0h2m-28 1h26m-27 1h24m2 0h1m-28 1h2m1 0h1m1 0h3m1 0h14m1 0h1m-25 1h25m1 0h1m2 0h2m-30 1h24m1 0h3m1 0h1m-30 1h4m1 0h18m1 0h4m-30 1h1m1 0h4m1 0h4m1 0h13m1 0h2m3 0h1m-33 1h6m1 0h25m-39 1h1m7 0h13m1 0h14m1 0h1m-32 1h4m2 0h22m1 0h1m2 0h1m-33 1h4m1 0h22m1 0h2m3 0h1m-32 1h2m1 0h25m-28 1h1m1 0h2m1 0h20m2 0h3m-28 1h3m1 0h22m1 0h1m3 0h1m-33 1h27m4 0h3m-34 1h30m1 0h1m-33 1h28m1 0h1m1 0h1m1 0h1m-35 1h30m1 0h4m-34 1h1m1 0h29m3 0h2m-34 1h23m1 0h3m6 0h2m-38 1h1m3 0h24m1 0h3m-33 1h2m3 0h24m1 0h2m-31 1h1m1 0h28m1 0h2m-33 1h30m1 0h1m1 0h1m-39 1h2m2 0h29m2 0h2m2 0h1m-40 1h2m1 0h32m1 0h2m-36 1h1m2 0h29m1 0h2m7 0h1m-44 1h3m2 0h30m-36 1h1m5 0h31m-37 1h2m4 0h27m1 0h4m-36 1h1m2 0h1m1 0h27m3 0h2m-33 1h29m3 0h1m-41 1h1m6 0h3m1 0h27m-38 1h2m5 0h28m-35 1h1m1 0h1m5 0h28m1 0h2m-33 1h1m1 0h2m1 0h2m1 0h24m2 0h1m-35 1h3m1 0h31m-34 1h4m1 0h26m2 0h2m-35 1h1m1 0h23m1 0h4m3 0h2m-35 1h4m1 0h27m1 0h1m-36 1h2m1 0h1m1 0h20m1 0h2m1 0h2m1 0h1m1 0h1m-36 1h1m1 0h1m1 0h3m1 0h29m-35 1h2m2 0h23m1 0h3m2 0h3m-35 1h1m2 0h26m1 0h2m1 0h1m-35 1h2m3 0h5m1 0h19m1 0h1m1 0h1m-35 1h1m1 0h4m1 0h17m1 0h5m1 0h1m1 0h2m-36 1h1m5 0h23m1 0h2m3 0h3m-37 1h1m4 0h27m4 0h1m-36 1h2m2 0h27m-32 1h1m1 0h3m1 0h23m1 0h2m2 0h1m-36 1h1m2 0h2m1 0h25m1 0h1m1 0h1m1 0h1m-33 1h1m1 0h24m2 0h4m-29 1h22m1 0h3m-26 1h29m-31 1h4m1 0h18m1 0h3m2 0h1m-30 1h4m1 0h17m1 0h2m1 0h1m-26 1h1m1 0h19m1 0h1m1 0h1m1 0h1m-27 1h2m1 0h1m1 0h21m1 0h1m-26 1h1m3 0h16m1 0h4" stroke="#008000" stroke-width="1" fill="none" shape-rendering="crispEdges"/>
<path d="M163 943.5h1m13 0h1m-10 1h1m-11 1h1m2 0h2m12 0h1m-12 1h1m1 0h2m1 0h1m2 0h1m-25 1h1m7 0h1m-4 1h1m2 0h1m12 0h1m4 0h1m-30 1h1m4 0h1m2 0h2m3 0h1m-17 1h1m65 0h1m-61 2h1m3 0h1m31 0h1m1 0h1m12 0h1m3 0h1m-26 1h1m12 0h1m-50 1h1m4 0h1m1 0h1m38 0h1m-43 1h1m5 0h1m26 0h1m19 0h1m-52 1h1m3 0h1m1 0h1m31 0h1m-31 1h1m22 0h1m3 0h1m1 0h1m-36 1h1m3 0h1m-8 1h1m46 0h1m-52 1h1m3 0h1m2 0h1m30 0h1m2 0h1m4 0h1m-43 1h1m31 0h1m9 0h1m12 0h1m-58 1h1m5 0h1m32 0h1m3 0h1m-39 1h1m36 0h1m-42 1h3m3 0h1m30 0h1m6 0h1m-47 1h1m46 0h1m-52 1h1m9 0h1m32 0h1m2 0h1m-44 1h1m1 0h2m-4 1h1m3 0h2m32 0h1m2 0h1m-44 2h1m6 0h1m34 0h1m-44 1h1m1 0h1m5 0h1m1 0h1m35 0h1m-36 1h1m30 0h1m16 0h1m-60 1h1m3 0h2m1 0h1m48 0h1m-57 1h1m5 0h1m1 0h1m1 0h1m36 0h1m-44 1h1m5 0h1m39 1h1m-46 1h3m49 0h1m-48 1h1m1 0h1m30 0h1m6 0h1m6 0h1m-50 1h1m39 0h1m6 0h1m-43 1h1m-5 1h1m37 0h1m9 0h1m13 0h1m-27 1h1m-47 1h1m2 0h1m2 0h1m42 0h1m-5 1h1m1 0h1m4 0h1m4 0h1m-58 1h1m1 0h1m44 0h1m2 0h1m-50 1h1m9 0h1m32 0h1m6 0h1m-46 1h1m55 0h1m-53 1h1m35 0h1m2 0h1m1 0h1m1 0h1m-55 1h1m1 0h1m9 0h1m-8 1h1m3 0h1m34 0h1m2 0h1m2 0h1m1 0h1m4 0h2m-50 1h1m1 0h1m-9 1h2m6 0h1m36 0h1m1 0h1m5 0h1m-48 1h1m35 0h1m16 0h1m-57 1h1m2 0h1m1 0h1m46 1h1m-49 1h1m71 0h1m-74 1h2m39 0h1m-50 1h1m1 0h1m3 0h1m44 0h1m3 0h1m-57 1h1m5 0h1m2 0h1m37 0h1m1 0h1m-47 1h1m4 0h1m44 0h1m2 0h1m-48 1h1m39 0h1m-35 1h1m32 0h1m-48 1h1m2 0h1m5 0h1m40 0h2m9 0h1m-3 1h1m-55 1h1m-1 1h1m3 0h1m3 0h1m33 0h1m-45 1h2m38 0h1m10 0h1m-9 1h1m1 0h1m1 0h1m-46 1h2m1 0h1m1 0h1m-8 1h1m41 0h1m4 0h1m-51 1h1m7 0h1m1 0h3m1 0h1m-11 1h1m2 0h1m48 0h1m-47 1h2m1 0h1m31 0h1m0 1h1m3 0h1m-50 1h2m3 0h2m3 0h2m30 0h1m1 0h1m5 0h1m-38 1h1m-10 1h1m4 0h1m1 0h1m5 0h1m24 0h1m1 0h1m2 0h1" stroke="#008000" stroke-width="1" fill="none" shape-rendering="crispEdges" opacity="0.68"/>

<path d="M174 910.5h1m-4 26h1m7 1h1" stroke="#ff0000" stroke-width="1" fill="none" shape-rendering="crispEdges" opacity="0.72"/>
<path d="M75.6 811.3V1018.2H266.0M75.6 812.3h-3.3M75.6 848.3h-3.1M75.6 839.2h-3.1M75.6 832.8h-3.1M75.6 827.8h-3.1M75.6 823.7h-3.1M75.6 820.3h-3.1M75.6 817.3h-3.1M75.6 814.7h-3.1M75.6 863.8h-3.3M75.6 899.8h-3.1M75.6 890.7h-3.1M75.6 884.3h-3.1M75.6 879.3h-3.1M75.6 875.2h-3.1M75.6 871.7h-3.1M75.6 868.8h-3.1M75.6 866.1h-3.1M75.6 915.2h-3.3M75.6 951.2h-3.1M75.6 942.2h-3.1M75.6 935.7h-3.1M75.6 930.7h-3.1M75.6 926.7h-3.1M75.6 923.2h-3.1M75.6 920.2h-3.1M75.6 917.6h-3.1M75.6 966.7h-3.3M75.6 1002.7h-3.1M75.6 993.6h-3.1M75.6 987.2h-3.1M75.6 982.2h-3.1M75.6 978.1h-3.1M75.6 974.7h-3.1M75.6 971.7h-3.1M75.6 969.1h-3.1M75.6 1018.2h-3.3M75.6 1018.2v3.3M89.9 1018.2v3.0M98.3 1018.2v3.0M104.2 1018.2v3.0M108.8 1018.2v3.0M112.5 1018.2v3.0M115.7 1018.2v3.0M118.5 1018.2v3.0M120.9 1018.2v3.0M123.1 1018.2v3.3M137.4 1018.2v3.0M145.7 1018.2v3.0M151.7 1018.2v3.0M156.3 1018.2v3.0M160.0 1018.2v3.0M163.2 1018.2v3.0M165.9 1018.2v3.0M168.4 1018.2v3.0M170.6 1018.2v3.3M184.8 1018.2v3.0M193.2 1018.2v3.0M199.1 1018.2v3.0M203.7 1018.2v3.0M207.5 1018.2v3.0M210.7 1018.2v3.0M213.4 1018.2v3.0M215.9 1018.2v3.0M218.0 1018.2v3.3M232.3 1018.2v3.0M240.7 1018.2v3.0M246.6 1018.2v3.0M251.2 1018.2v3.0M255.0 1018.2v3.0M258.1 1018.2v3.0M260.9 1018.2v3.0M263.3 1018.2v3.0M265.5 1018.2v3.3" stroke="#1e1e1e" stroke-width="1" fill="none" shape-rendering="crispEdges"/>
<rect x="138.8" y="819.6" width="67.9" height="121.9" fill="none" stroke="#4646ff" stroke-width="1.3"/>
<text x="39.9" y="820.9" font-size="18">10<tspan font-size="11.4" dy="-4.3" dx="-.8">5</tspan></text>
<text x="39.9" y="868.2" font-size="18">10<tspan font-size="11.4" dy="-4.3" dx="-.8">4</tspan></text>
<text x="39.9" y="918.9" font-size="18">10<tspan font-size="11.4" dy="-4.3" dx="-.8">3</tspan></text>
<text x="39.9" y="972.1" font-size="18">10<tspan font-size="11.4" dy="-4.3" dx="-.8">2</tspan></text>
<text x="39.9" y="1020.2" font-size="18">10<tspan font-size="11.4" dy="-4.3" dx="-.8">1</tspan></text>
<text x="92.2" y="1041.2" font-size="18">10<tspan font-size="11.4" dy="-4.3" dx="-.8">2</tspan></text>
<text x="142.0" y="1041.2" font-size="18">10<tspan font-size="11.4" dy="-4.3" dx="-.8">3</tspan></text>
<text x="191.8" y="1041.2" font-size="18">10<tspan font-size="11.4" dy="-4.3" dx="-.8">4</tspan></text>
<text x="239.1" y="1041.2" font-size="18">10<tspan font-size="11.4" dy="-4.3" dx="-.8">5</tspan></text>
<text x="139.2" y="813.2" font-size="18.6" textLength="57.1" lengthAdjust="spacingAndGlyphs">0-22hpi</text>
<path d="M342 936.5h2m-13 1h1m3 0h2m1 0h1m1 0h2m1 0h2m-15 1h1m1 0h1m3 0h3m1 0h5m1 0h3m1 0h2m-24 1h20m1 0h1m-24 1h2m2 0h17m1 0h3m-26 1h1m1 0h24m-28 1h4m1 0h23m-28 1h29m-33 1h1m1 0h31m-35 1h2m1 0h32m-36 1h37m-37 1h36m2 0h3m-43 1h38m1 0h1m1 0h2m-42 1h41m-44 1h1m1 0h40m1 0h1m-48 1h1m3 0h43m-49 1h46m1 0h2m-49 1h4m1 0h44m-52 1h52m-52 1h3m1 0h46m-50 1h1m1 0h49m-51 1h52m-52 1h51m-51 1h1m1 0h5m1 0h42m1 0h1m-52 1h51m-51 1h51m-51 1h51m-51 1h52m-52 1h52m-52 1h49m3 0h1m-53 1h6m1 0h42m-49 1h49m2 0h1m-52 1h49m1 0h1m-51 1h50m1 0h1m-52 1h5m1 0h43m1 0h1m-51 1h50m-50 1h7m1 0h42m-50 1h51m-51 1h50m-50 1h48m2 0h3m-53 1h50m1 0h2m-53 1h48m1 0h2m-51 1h50m-50 1h48m1 0h1m-50 1h49m-49 1h48m-48 1h48m-48 1h6m1 0h40m-47 1h47m2 0h1m-48 1h45m1 0h1m-49 1h47m1 0h2m-50 1h47m1 0h1m-49 1h48m1 0h1m-50 1h6m1 0h40m1 0h1m-49 1h9m1 0h35m1 0h2m-48 1h47m-47 1h46m-46 1h47m-47 1h11m1 0h35m-47 1h46m-46 1h45m-45 1h46m-46 1h1m1 0h43m-45 1h46m1 0h1m-48 1h47m-47 1h44m-44 1h45m-45 1h44m-44 1h45m-45 1h46m-46 1h44m-44 1h43m-43 1h45m-45 1h12m1 0h31m-44 1h45m-45 1h45m-45 1h8m1 0h35m-44 1h6m1 0h5m1 0h31m-44 1h12m1 0h31m-44 1h44m-43 1h44m-44 1h3m1 0h3m1 0h34" stroke="#828282" stroke-width="1" fill="none" shape-rendering="crispEdges"/>
<path d="M314 926.5h1m22 3h1m8 0h1m3 0h1m-27 3h1m21 1h1m5 0h1m-6 1h1m3 1h1m-26 1h1m10 0h1m2 0h1m4 0h1m8 0h1m3 0h1m-32 1h1m2 0h1m2 0h2m15 0h1m-34 1h1m9 0h1m29 0h1m-6 1h1m-48 1h1m16 0h1m29 0h1m2 0h1m-40 2h1m4 0h1m30 0h1m-38 1h1m3 0h1m-13 1h2m4 0h1m3 0h1m35 0h1m-1 1h1m-47 1h1m56 0h1m-61 1h1m5 0h1m52 0h1m-57 1h1m2 0h1m1 0h2m-5 1h1m-7 1h1m1 0h1m2 0h1m2 0h1m54 0h1m-10 2h1m-55 1h1m53 0h1m10 1h1m-14 1h1m5 0h1m-6 1h1m13 0h1m-15 2h1m-2 1h1m6 0h1m-3 3h1m-5 2h1m5 0h1m-2 1h1m-7 1h1m12 0h1m-16 1h1m12 1h1m-1 1h1m-13 1h1m1 0h1m-1 1h1m3 0h1m-2 1h1m8 1h1m-13 1h1m9 3h1m-5 1h1m2 0h1m2 0h1m-15 1h1m-3 1h1m7 0h1m-1 1h1m-9 1h1m8 0h1m-9 1h1m4 0h1m-8 1h1m16 0h1m-8 1h2m-4 2h1m2 0h1m3 0h1m-14 1h1m0 1h1m1 0h1m-4 1h1m12 0h1m-16 1h1m1 0h1m2 1h1m-7 1h1m8 0h1m3 0h1m-12 1h1m11 1h1m-16 1h1m1 0h1m11 0h1m-13 1h1m3 0h1m-5 1h1m2 0h1m14 0h1m-15 1h1m-6 1h1m18 0h1m-22 2h1m1 0h1m15 0h1m-18 2h1m0 1h1m-1 1h1m-3 1h1m0 1h1m9 0h1m-9 1h1m-4 2h1m-1 2h2m19 1h1m-22 1h1m2 0h1m-49 2h1m47 0h1m1 0h1" stroke="#828282" stroke-width="1" fill="none" shape-rendering="crispEdges" opacity="0.62"/>
<path d="M408 947.5h2m-4 1h4m3 0h2m2 0h2m10 0h3m-38 1h1m4 0h3m1 0h1m3 0h2m4 0h3m2 0h1m9 0h4m-38 1h3m2 0h1m2 0h2m2 0h2m2 0h1m1 0h1m2 0h6m6 0h1m3 0h1m-38 1h5m4 0h1m3 0h5m1 0h11m2 0h1m1 0h3m-35 1h2m1 0h1m2 0h1m3 0h3m1 0h2m1 0h3m1 0h4m1 0h2m1 0h2m1 0h1m2 0h1m-34 1h1m1 0h5m2 0h6m1 0h6m1 0h3m1 0h7m-47 1h1m12 0h2m3 0h6m1 0h10m1 0h3m1 0h1m2 0h3m3 0h2m-41 1h2m1 0h1m4 0h2m3 0h25m1 0h2m-41 1h3m1 0h2m1 0h22m1 0h5m1 0h4m-35 1h1m1 0h27m1 0h4m2 0h1m5 0h1m-49 1h3m3 0h1m1 0h3m1 0h25m1 0h1m1 0h3m-43 1h2m1 0h1m1 0h3m1 0h33m1 0h1m-43 1h2m1 0h1m1 0h1m2 0h28m1 0h5m1 0h1m-49 1h1m3 0h37m1 0h3m2 0h2m-50 1h3m1 0h10m1 0h29m2 0h1m1 0h1m3 0h1m-53 1h2m5 0h1m3 0h39m3 0h1m-55 1h1m2 0h1m3 0h3m1 0h4m1 0h31m2 0h5m-58 1h1m3 0h1m2 0h4m1 0h42m1 0h2m-59 1h1m8 0h4m2 0h3m1 0h30m1 0h4m1 0h4m-63 1h1m3 0h1m12 0h5m1 0h35m2 0h1m-51 1h1m4 0h5m1 0h37m1 0h3m2 0h1m-51 1h12m1 0h33m1 0h1m-58 1h2m2 0h2m3 0h9m1 0h32m1 0h1m1 0h3m6 0h1m-66 1h2m1 0h1m2 0h2m2 0h42m1 0h6m5 0h2m-59 1h1m3 0h43m1 0h2m1 0h2m-54 1h3m3 0h1m2 0h43m-51 1h1m3 0h2m4 0h42m1 0h1m-59 1h3m2 0h3m2 0h3m3 0h38m1 0h1m3 0h3m-62 1h3m3 0h2m2 0h3m2 0h1m1 0h22m1 0h9m1 0h5m2 0h1m1 0h3m-56 1h9m1 0h37m1 0h6m-55 1h1m1 0h2m1 0h4m1 0h41m-52 1h4m1 0h4m1 0h37m1 0h4m1 0h2m2 0h1m-55 1h2m1 0h1m1 0h3m1 0h39m2 0h2m-57 1h1m3 0h1m2 0h5m1 0h40m1 0h1m1 0h1m3 0h3m6 0h2m-72 1h1m1 0h2m1 0h7m1 0h5m1 0h35m1 0h3m3 0h2m1 0h1m5 0h2m-71 1h5m4 0h49m2 0h2m-64 1h1m1 0h1m2 0h5m1 0h2m1 0h43m-56 1h2m2 0h1m1 0h5m1 0h11m1 0h23m1 0h5m1 0h1m-60 1h1m4 0h4m2 0h1m4 0h2m1 0h2m1 0h26m1 0h8m1 0h2m-60 1h1m3 0h2m5 0h5m2 0h36m1 0h1m1 0h3m-55 1h1m2 0h3m1 0h8m1 0h1m1 0h35m1 0h3m2 0h1m-69 1h1m10 0h1m1 0h6m1 0h1m1 0h34m1 0h1m3 0h1m2 0h1m1 0h1m1 0h1m-59 1h1m1 0h1m2 0h8m2 0h28m1 0h6m1 0h1m2 0h2m1 0h3m-62 1h2m1 0h5m1 0h10m1 0h1m1 0h2m1 0h24m1 0h1m1 0h1m4 0h1m1 0h3m-63 1h4m3 0h16m1 0h29m1 0h1m4 0h1m-52 1h1m1 0h7m1 0h3m1 0h1m1 0h2m1 0h4m1 0h14m2 0h4m1 0h1m4 0h2m-56 1h1m4 0h4m1 0h4m1 0h23m1 0h3m1 0h4m2 0h1m1 0h1m2 0h1m-59 1h1m3 0h1m1 0h3m2 0h1m1 0h4m1 0h11m1 0h7m1 0h9m2 0h1m1 0h1m2 0h5m-57 1h2m1 0h2m1 0h1m1 0h2m1 0h1m1 0h8m1 0h2m1 0h24m4 0h1m-53 1h1m1 0h1m3 0h4m1 0h2m2 0h1m1 0h3m1 0h2m1 0h18m1 0h3m1 0h1m4 0h1m1 0h2m3 0h1m-67 1h2m13 0h11m1 0h15m3 0h2m1 0h1m1 0h5m1 0h1m3 0h2m1 0h1m1 0h2m-56 1h1m3 0h5m1 0h5m1 0h3m1 0h16m1 0h6m2 0h2m5 0h1m1 0h2m-57 1h2m2 0h3m1 0h7m1 0h4m1 0h2m1 0h7m1 0h11m1 0h3m1 0h1m5 0h4m-51 1h2m1 0h1m2 0h1m1 0h4m1 0h1m1 0h2m1 0h10m1 0h4m4 0h1m2 0h1m1 0h2m6 0h1m-52 1h7m1 0h2m2 0h7m2 0h5m2 0h1m1 0h6m1 0h3m2 0h2m8 0h1m-50 1h2m1 0h14m1 0h1m1 0h8m1 0h2m1 0h2m6 0h1m7 0h2m-57 1h1m4 0h2m2 0h3m1 0h1m2 0h9m1 0h15m-42 1h3m2 0h1m1 0h3m3 0h3m1 0h1m1 0h4m1 0h2m2 0h3m1 0h2m1 0h3m2 0h2m-42 1h2m1 0h3m1 0h2m2 0h2m2 0h18m1 0h3m1 0h4m4 0h1m-56 1h3m7 0h2m1 0h1m1 0h3m3 0h1m2 0h1m3 0h2m1 0h6m1 0h10m1 0h1m1 0h1m2 0h2m-56 1h2m9 0h4m1 0h1m7 0h8m1 0h1m1 0h4m4 0h4m1 0h1m3 0h1m1 0h1m-49 1h2m5 0h3m1 0h3m2 0h1m1 0h4m1 0h1m2 0h2m1 0h1m4 0h1m1 0h3m2 0h1m7 0h2m-51 1h2m5 0h2m1 0h1m1 0h2m2 0h2m2 0h3m2 0h1m2 0h3m2 0h5m2 0h3m5 0h2m-46 1h1m4 0h1m1 0h1m3 0h1m1 0h1m3 0h6m8 0h2m4 0h1m-36 1h3m1 0h1m3 0h3m1 0h3m5 0h1m24 0h2m-46 1h1m4 0h1m2 0h3m1 0h5m5 0h2m1 0h2m10 0h2m5 0h2m-42 1h1m1 0h1m2 0h1m6 0h1m2 0h1m3 0h1m1 0h1m11 0h2m-34 1h3m12 0h1m1 0h4m-25 1h1m4 0h1m6 0h1m2 0h1m1 0h1m1 0h2m4 0h4m4 0h1m-35 1h2m10 0h1m3 0h2m1 0h3m4 0h2m1 0h1" stroke="#008000" stroke-width="1" fill="none" shape-rendering="crispEdges"/>
<path d="M457 941.5h1m-63 2h1m14 0h1m7 0h1m2 0h1m6 0h1m19 0h1m-8 1h1m-55 2h1m11 0h1m3 0h1m10 0h2m17 0h2m2 0h1m3 0h1m-37 1h1m5 0h2m5 0h1m4 0h3m-40 1h1m7 0h2m2 0h1m3 0h1m13 0h1m9 0h2m7 0h2m10 0h1m-57 1h1m28 0h1m1 0h1m10 0h1m20 0h1m-72 1h1m1 0h1m3 0h1m2 0h1m12 0h1m18 0h1m1 0h1m10 0h2m22 0h1m-76 1h1m3 0h1m41 0h1m1 0h1m4 0h1m5 0h1m16 0h1m7 0h1m-86 1h1m19 0h1m36 0h1m12 0h1m-77 1h1m6 0h1m45 0h1m2 0h1m19 0h1m-76 1h1m3 0h1m6 0h1m2 0h1m48 0h1m-69 1h1m6 0h1m1 0h1m7 0h2m7 0h1m42 0h1m7 0h1m-64 1h1m47 0h1m1 0h3m1 0h1m-74 1h1m7 0h1m7 0h1m2 0h1m2 0h1m-23 1h1m14 0h1m6 0h1m4 0h1m43 0h1m6 0h1m-77 1h1m9 0h2m5 0h1m2 0h1m64 0h1m-84 1h1m6 0h1m6 0h1m1 0h1m1 0h1m47 0h1m3 0h1m6 0h1m2 0h1m-84 1h1m5 0h1m6 0h1m1 0h1m55 0h1m1 0h1m11 0h1m-83 1h1m3 0h1m13 0h1m47 0h1m13 0h1m1 0h1m-86 1h1m7 0h1m1 0h1m1 0h1m59 0h1m3 0h2m2 0h1m-76 1h1m1 0h1m66 0h1m-74 1h1m10 0h1m1 0h1m3 0h1m53 0h1m3 0h1m3 0h1m6 0h1m4 0h1m-92 1h1m6 0h1m1 0h1m3 0h1m1 0h1m60 0h2m7 0h1m-84 1h1m4 0h1m3 0h1m3 0h1m1 0h1m1 0h1m53 0h1m4 0h1m-80 1h1m5 0h1m3 0h1m59 0h1m1 0h1m2 0h2m5 0h1m8 0h1m-92 1h1m3 0h1m10 0h1m2 0h2m50 0h1m9 0h1m3 0h1m3 0h1m17 0h1m-102 1h1m3 0h1m3 0h1m61 0h1m15 0h1m-74 1h1m52 0h2m9 0h1m1 0h1m-85 1h1m6 0h1m1 0h1m59 0h1m4 0h1m7 0h1m12 0h1m-92 1h1m8 0h2m4 0h1m50 0h1m10 0h1m-74 1h2m1 0h1m56 0h1m3 0h1m2 0h1m3 0h1m-81 1h1m4 0h1m4 0h1m15 0h1m49 0h1m1 0h1m-79 1h1m73 0h1m2 0h1m16 0h1m-85 1h1m4 0h1m67 0h2m-77 1h1m1 0h1m62 0h2m2 0h1m7 0h1m-85 1h2m8 0h1m67 0h1m-74 1h1m2 0h1m1 0h1m1 0h1m2 0h1m55 0h1m4 0h1m1 0h2m5 0h2m33 0h1m-122 2h1m3 0h1m2 0h1m1 0h1m1 0h2m65 0h1m-72 1h1m1 0h1m62 0h1m5 0h1m4 0h1m11 0h1m-91 1h1m5 0h1m60 0h1m3 0h1m4 0h1m-71 1h1m57 0h1m10 0h1m-80 1h2m1 0h1m2 0h1m1 0h1m7 0h1m56 0h2m6 0h1m6 0h1m-21 1h1m1 0h2m13 0h1m-83 1h2m3 0h1m69 0h1m-71 1h1m3 0h1m62 0h1m3 0h2m3 0h1m5 0h1m-88 1h1m5 1h1m55 0h1m10 0h1m-70 1h1m65 0h1m1 0h1m-76 1h1m7 0h1m6 0h2m49 0h1m3 0h1m9 0h1m-80 1h1m5 0h1m3 0h1m1 0h1m61 0h1m3 0h1m-81 1h1m1 0h1m7 0h1m52 0h1m6 0h1m4 0h2m-68 1h1m2 0h1m67 0h1m-81 1h1m5 0h1m2 0h1m53 0h1m1 0h1m4 0h1m3 0h1m4 0h2m2 0h1m-81 1h1m1 0h1m6 0h1m2 0h1m3 0h1m64 0h2m26 0h1m-106 1h1m1 0h1m56 0h1m-52 1h2m51 0h2m-68 1h1m2 0h1m3 0h1m1 0h1m6 0h1m1 0h1m-19 1h1m1 0h2m14 0h1m1 0h1m46 0h1m6 0h1m1 0h2m1 0h1m-75 1h3m5 0h1m1 0h1m45 0h2m4 0h1m3 0h1m6 0h1m-70 1h1m3 0h1m7 0h1m37 0h1m5 0h1m15 0h1m18 0h1m-103 1h1m6 0h1m55 0h1m1 0h2m11 0h1m-77 1h1m5 0h1m3 0h1m1 0h2m12 0h1m43 0h1m5 0h1m-78 1h1m4 0h1m9 0h1m44 0h1m6 0h1m4 0h1m-67 1h1m4 0h1m18 0h1m43 0h1m-17 1h1m1 0h1m4 0h1m5 0h1m1 0h1m-71 1h2m5 0h1m7 0h2m25 0h1m7 0h1m17 0h1m1 0h1m-65 1h1m1 0h1m30 0h1m4 0h1m9 0h1m1 0h1m1 0h1m1 0h1m-64 1h1m7 0h1m6 0h1m1 0h1m8 0h1m18 0h1m3 0h1m3 0h1m1 0h1m1 0h1m-54 1h3m9 0h1m2 0h1m3 0h1m14 0h1m1 0h1m1 0h1m8 0h1m3 0h1m7 0h1m3 0h1m3 0h1m12 0h1m-71 1h1m4 0h1m1 0h1m26 0h3m6 0h1m14 0h1m-68 1h1m7 0h1m7 0h1m2 0h1m6 0h1m1 0h1m1 0h1m1 0h1m1 0h1m13 0h2m17 0h1m5 0h1m-77 1h1m7 0h1m1 0h1m4 0h1m33 0h1m11 0h1m4 0h2m-61 1h1m10 0h1m2 0h1m3 0h1m3 0h2m1 0h1m1 0h1m7 0h2m8 0h1m1 0h1m6 0h1m7 0h1" stroke="#008000" stroke-width="1" fill="none" shape-rendering="crispEdges" opacity="0.68"/>

<path d="M403 913.5h1m1 2h1m1 3h1m5 0h1m-5 3h1m4 6h1m-19 2h1m12 0h1m-2 7h1m-8 4h1" stroke="#ff0000" stroke-width="1" fill="none" shape-rendering="crispEdges" opacity="0.72"/>
<path d="M301.9 811.3V1018.2H493.1M301.9 812.3h-3.3M301.9 848.3h-3.1M301.9 839.2h-3.1M301.9 832.8h-3.1M301.9 827.8h-3.1M301.9 823.7h-3.1M301.9 820.3h-3.1M301.9 817.3h-3.1M301.9 814.7h-3.1M301.9 863.8h-3.3M301.9 899.8h-3.1M301.9 890.7h-3.1M301.9 884.3h-3.1M301.9 879.3h-3.1M301.9 875.2h-3.1M301.9 871.7h-3.1M301.9 868.8h-3.1M301.9 866.1h-3.1M301.9 915.2h-3.3M301.9 951.2h-3.1M301.9 942.2h-3.1M301.9 935.7h-3.1M301.9 930.7h-3.1M301.9 926.7h-3.1M301.9 923.2h-3.1M301.9 920.2h-3.1M301.9 917.6h-3.1M301.9 966.7h-3.3M301.9 1002.7h-3.1M301.9 993.6h-3.1M301.9 987.2h-3.1M301.9 982.2h-3.1M301.9 978.1h-3.1M301.9 974.7h-3.1M301.9 971.7h-3.1M301.9 969.1h-3.1M301.9 1018.2h-3.3M301.9 1018.2v3.3M316.3 1018.2v3.0M324.6 1018.2v3.0M330.6 1018.2v3.0M335.2 1018.2v3.0M339.0 1018.2v3.0M342.2 1018.2v3.0M345.0 1018.2v3.0M347.4 1018.2v3.0M349.6 1018.2v3.3M363.9 1018.2v3.0M372.3 1018.2v3.0M378.3 1018.2v3.0M382.9 1018.2v3.0M386.7 1018.2v3.0M389.9 1018.2v3.0M392.6 1018.2v3.0M395.1 1018.2v3.0M397.2 1018.2v3.3M411.6 1018.2v3.0M420.0 1018.2v3.0M426.0 1018.2v3.0M430.6 1018.2v3.0M434.3 1018.2v3.0M437.5 1018.2v3.0M440.3 1018.2v3.0M442.7 1018.2v3.0M444.9 1018.2v3.3M459.3 1018.2v3.0M467.7 1018.2v3.0M473.6 1018.2v3.0M478.2 1018.2v3.0M482.0 1018.2v3.0M485.2 1018.2v3.0M488.0 1018.2v3.0M490.4 1018.2v3.0M492.6 1018.2v3.3" stroke="#1e1e1e" stroke-width="1" fill="none" shape-rendering="crispEdges"/>
<rect x="370.6" y="819.6" width="68.7" height="121.9" fill="none" stroke="#4646ff" stroke-width="1.3"/>
<text x="267.0" y="820.8" font-size="18">10<tspan font-size="11.4" dy="-4.3" dx="-.8">5</tspan></text>
<text x="267.0" y="868.2" font-size="18">10<tspan font-size="11.4" dy="-4.3" dx="-.8">4</tspan></text>
<text x="267.0" y="918.8" font-size="18">10<tspan font-size="11.4" dy="-4.3" dx="-.8">3</tspan></text>
<text x="267.0" y="971.8" font-size="18">10<tspan font-size="11.4" dy="-4.3" dx="-.8">2</tspan></text>
<text x="267.0" y="1019.8" font-size="18">10<tspan font-size="11.4" dy="-4.3" dx="-.8">1</tspan></text>
<text x="326.2" y="1040.9" font-size="18">10<tspan font-size="11.4" dy="-4.3" dx="-.8">2</tspan></text>
<text x="376.0" y="1040.9" font-size="18">10<tspan font-size="11.4" dy="-4.3" dx="-.8">3</tspan></text>
<text x="425.8" y="1040.9" font-size="18">10<tspan font-size="11.4" dy="-4.3" dx="-.8">4</tspan></text>
<text x="473.1" y="1040.9" font-size="18">10<tspan font-size="11.4" dy="-4.3" dx="-.8">5</tspan></text>
<text x="369.4" y="812.3" font-size="18.6" textLength="66.9" lengthAdjust="spacingAndGlyphs">24-46hpi</text>
<path d="M673 925.5h1m10 1h1m-2 1h1m-3 1h2m8 0h1m-12 1h1m1 0h1m-12 1h1m2 0h1m3 0h3m-14 1h1m1 0h1m1 0h1m2 0h3m1 0h1m1 0h1m-13 1h1m1 0h2m1 0h1m1 0h1m1 0h1m-10 1h3m1 0h1m1 0h3m-9 1h1m1 0h2m-5 1h1m-108 4h1m2 0h1m1 0h2m1 0h2m-11 1h1m1 0h1m1 0h6m1 0h1m4 0h3m-23 1h1m1 0h3m1 0h18m1 0h2m-31 1h1m4 0h2m1 0h22m-31 1h3m3 0h25m-30 1h1m1 0h30m1 0h1m-35 1h36m-38 1h1m1 0h35m-39 1h39m-39 1h1m2 0h37m1 0h1m-41 1h43m-46 1h1m2 0h42m-46 1h47m-47 1h48m-49 1h47m-47 1h49m-53 1h2m1 0h50m-53 1h53m-54 1h56m-56 1h53m1 0h2m-56 1h54m-56 1h1m1 0h56m-58 1h2m1 0h55m-57 1h56m-56 1h55m-57 1h58m-58 1h57m-57 1h57m1 0h1m-59 1h5m1 0h50m1 0h1m-58 1h55m1 0h1m-57 1h56m-56 1h5m1 0h50m-55 1h55m-55 1h6m1 0h49m-57 1h55m-54 1h54m-54 1h4m1 0h48m-54 1h55m-55 1h56m-56 1h3m1 0h50m-53 1h53m-54 1h53m4 0h1m-58 1h8m1 0h44m-53 1h53m2 0h1m-56 1h53m1 0h1m-55 1h53m1 0h1m2 0h1m-57 1h2m1 0h48m1 0h1m3 0h1m-58 1h54m2 0h1m-57 1h3m1 0h47m1 0h1m3 0h1m-57 1h53m-53 1h51m-51 1h10m1 0h40m-51 1h51m-50 1h50m-51 1h52m-52 1h50m-50 1h3m1 0h45m-49 1h48m-46 1h49m-51 1h47m1 0h1m-49 1h48m-48 1h49m-49 1h1m1 0h45m1 0h1m7 0h1m-57 1h49m6 0h2m-57 1h46m1 0h2m-48 1h4m1 0h43m-49 1h8m1 0h37m1 0h2m-49 1h48m-47 1h47m-48 1h4m1 0h41m-46 1h11m1 0h35m1 0h1m-49 1h50m-50 1h47m1 0h1m-49 1h7m1 0h6m1 0h34m-49 1h11m1 0h36m-48 1h4m1 0h42m-47 1h47m-47 1h46m-46 1h44m1 0h1" stroke="#828282" stroke-width="1" fill="none" shape-rendering="crispEdges"/>
<path d="M687 864.5h1m10 1h1m-24 8h1m-5 5h1m8 2h1m-5 1h1m-5 2h1m17 1h1m-23 1h1m18 0h1m-5 1h1m-14 1h1m13 0h1m-11 2h1m1 1h1m-6 4h1m12 1h1m-17 1h1m9 2h1m6 3h1m-8 1h1m8 1h1m-20 1h1m16 1h1m8 0h1m-6 1h1m12 0h1m-35 2h1m14 0h2m3 1h1m-21 1h1m6 0h1m-13 2h1m15 3h1m2 6h1m3 1h1m-17 1h1m14 0h1m-14 1h2m4 0h1m2 1h1m2 0h1m8 0h1m-31 1h1m6 0h1m2 0h2m2 0h1m2 0h1m5 0h1m1 0h1m7 0h1m-20 1h1m6 0h1m7 0h1m-5 1h2m2 0h1m-23 1h1m1 0h2m3 0h1m5 0h1m1 0h1m4 0h1m-126 1h1m102 0h1m-81 1h1m77 0h1m14 0h1m1 0h1m-6 1h1m-121 1h1m2 0h1m2 0h1m9 0h1m3 0h1m-18 1h1m104 0h1m-114 1h1m111 0h1m2 0h1m-112 1h1m2 0h1m1 0h2m13 0h2m84 0h1m-98 1h1m1 0h1m6 0h2m-13 1h1m5 0h2m1 0h1m10 0h1m-24 1h1m10 0h1m15 0h1m-34 1h1m1 0h1m22 0h1m4 0h1m3 0h1m-5 1h1m-50 1h1m16 0h2m-6 1h1m-4 1h1m44 0h1m-50 1h2m1 0h1m1 0h1m-7 1h1m47 0h1m-45 1h1m41 0h1m1 0h1m-54 2h1m6 0h1m1 0h1m44 0h1m-50 1h1m49 1h1m-51 2h1m49 1h1m-57 3h1m60 0h1m-4 1h1m-59 1h1m-2 4h1m57 2h1m-1 2h1m8 1h1m-11 1h1m0 1h1m-2 1h1m2 1h1m2 0h1m-8 1h1m0 2h1m-2 1h1m1 0h1m-1 1h1m-3 2h2m3 0h1m-8 1h1m1 1h1m-3 1h1m3 1h1m-4 1h1m2 1h1m-4 1h1m-1 2h1m-4 1h1m8 0h1m-9 2h1m-2 1h1m1 2h2m2 0h1m-8 1h1m-1 1h1m2 0h1m2 0h1m-8 2h1m1 0h1m-2 2h1m-2 1h1m1 0h1m4 0h1m2 1h1m-7 1h1m-1 1h1m-5 1h2m-1 2h1m-2 1h2m-2 2h1m2 0h2m3 2h1m1 0h1m-12 2h1m3 0h1m2 1h1m-11 2h1m1 0h2" stroke="#828282" stroke-width="1" fill="none" shape-rendering="crispEdges" opacity="0.62"/>
<path d="M689 930.5h3m-8 1h3m3 0h1m-12 1h4m1 0h3m-10 1h5m1 0h2m1 0h1m-13 1h8m1 0h4m-14 1h1m1 0h1m3 0h1m1 0h2m1 0h2m-13 1h3m7 0h2m-16 1h1m1 0h1m1 0h5m1 0h1m6 0h2m-20 1h6m1 0h1m2 0h1m4 0h1m1 0h3m-25 1h1m4 0h1m1 0h1m2 0h2m7 0h3m-23 1h2m5 0h3m1 0h2m7 0h1m1 0h1m-22 1h1m4 0h7m1 0h5m2 0h2m-55 1h13m19 0h3m2 0h2m1 0h10m2 0h2m-55 1h3m1 0h1m1 0h6m1 0h2m15 0h15m1 0h3m1 0h1m-50 1h5m1 0h4m20 0h17m1 0h6m-54 1h1m1 0h2m1 0h1m1 0h3m19 0h2m1 0h1m1 0h12m3 0h2m2 0h2m-66 1h1m8 0h6m1 0h1m1 0h5m3 0h1m13 0h2m2 0h18m1 0h2m-54 1h3m1 0h2m3 0h4m2 0h1m11 0h2m4 0h6m1 0h6m1 0h1m1 0h1m1 0h3m-53 1h1m1 0h3m1 0h1m2 0h4m13 0h1m1 0h23m-58 1h1m1 0h1m1 0h1m3 0h2m1 0h6m1 0h3m14 0h20m2 0h2m-60 1h1m1 0h1m1 0h3m2 0h1m4 0h3m1 0h2m1 0h1m6 0h1m2 0h1m4 0h20m1 0h4m-60 1h2m2 0h2m1 0h2m3 0h1m1 0h3m2 0h1m6 0h1m2 0h5m1 0h3m1 0h24m4 0h2m-82 1h1m16 0h2m1 0h4m1 0h3m7 0h1m8 0h25m1 0h3m1 0h2m-67 1h1m6 0h1m4 0h5m2 0h1m14 0h3m1 0h21m1 0h2m2 0h1m-66 1h3m1 0h4m1 0h1m3 0h1m1 0h4m1 0h1m12 0h1m1 0h2m1 0h18m1 0h7m-59 1h2m3 0h1m2 0h3m1 0h3m13 0h3m1 0h1m3 0h8m1 0h14m1 0h1m1 0h1m-54 1h1m1 0h3m14 0h1m1 0h22m1 0h9m-75 1h1m6 0h1m6 0h2m5 0h1m2 0h3m16 0h25m2 0h8m-82 1h1m4 0h1m5 0h2m3 0h3m1 0h1m3 0h2m1 0h3m17 0h3m2 0h21m2 0h3m3 0h2m-82 1h2m2 0h2m9 0h4m2 0h2m2 0h4m18 0h2m1 0h21m1 0h2m1 0h1m1 0h1m-79 1h1m1 0h1m3 0h1m11 0h2m3 0h1m4 0h1m7 0h2m8 0h2m1 0h29m-79 1h2m18 0h1m16 0h1m9 0h2m1 0h21m1 0h6m4 0h2m-85 1h4m28 0h2m5 0h1m9 0h3m1 0h25m1 0h1m3 0h2m-86 1h1m1 0h1m10 0h3m17 0h2m14 0h1m1 0h30m1 0h3m-91 1h2m18 0h2m29 0h1m4 0h1m1 0h28m1 0h1m-88 1h2m20 0h1m1 0h1m10 0h1m14 0h2m4 0h1m2 0h24m1 0h1m2 0h3m-69 1h4m2 0h1m8 0h3m11 0h1m1 0h2m1 0h1m1 0h2m1 0h21m1 0h5m1 0h1m1 0h1m-90 1h1m11 0h1m8 0h1m14 0h2m15 0h2m1 0h29m1 0h2m1 0h1m-93 1h1m2 0h1m12 0h1m9 0h2m4 0h1m26 0h1m1 0h27m1 0h2m1 0h2m-95 1h3m1 0h2m10 0h2m10 0h3m2 0h1m27 0h1m1 0h25m-83 1h1m9 0h1m1 0h2m9 0h3m26 0h3m1 0h1m1 0h21m1 0h3m1 0h2m-79 1h2m2 0h2m2 0h3m35 0h29m1 0h4m-80 1h2m7 0h1m37 0h27m1 0h1m1 0h1m2 0h1m-72 1h2m25 0h2m8 0h1m1 0h31m1 0h1m-73 1h2m26 0h1m12 0h3m1 0h25m1 0h3m-87 1h2m12 0h2m1 0h1m1 0h2m33 0h29m1 0h3m-79 1h3m3 0h3m1 0h2m34 0h23m1 0h2m1 0h1m2 0h2m-77 1h1m1 0h3m2 0h5m33 0h27m1 0h1m3 0h1m-77 1h1m2 0h2m6 0h2m24 0h2m4 0h2m1 0h25m1 0h2m-72 1h1m1 0h1m32 0h3m2 0h1m2 0h28m6 0h1m-79 1h4m11 0h1m22 0h1m3 0h26m2 0h1m3 0h1m-82 1h1m46 0h31m-58 1h1m25 0h3m1 0h27m-87 1h1m8 0h1m18 0h3m26 0h3m1 0h24m1 0h1m-88 1h2m8 0h2m13 0h1m2 0h2m30 0h1m1 0h1m1 0h23m1 0h2m2 0h1m2 0h1m-68 1h1m29 0h2m2 0h17m2 0h4m2 0h3m-37 1h2m2 0h2m1 0h4m1 0h5m1 0h12m1 0h2m2 0h3m-71 1h1m5 0h2m30 0h2m1 0h19m1 0h1m1 0h1m2 0h1m3 0h2m-74 1h3m5 0h2m30 0h2m3 0h2m1 0h1m1 0h11m3 0h1m3 0h2m1 0h2m-90 1h1m16 0h1m2 0h1m38 0h5m1 0h2m1 0h3m1 0h3m1 0h3m1 0h3m3 0h1m1 0h1m-88 1h1m19 0h1m8 0h1m27 0h3m1 0h1m1 0h4m1 0h9m3 0h3m5 0h1m-69 1h1m8 0h4m24 0h1m2 0h2m1 0h1m1 0h4m1 0h9m1 0h2m6 0h1m-93 1h1m22 0h2m8 0h1m2 0h1m27 0h2m1 0h3m1 0h2m1 0h13m2 0h1m3 0h1m-93 1h1m61 0h4m1 0h10m1 0h1m1 0h1m1 0h2m1 0h1m2 0h2m-89 1h1m59 0h3m1 0h1m5 0h7m1 0h3m1 0h2m1 0h1m1 0h1m-76 1h2m48 0h1m7 0h2m2 0h4m8 0h1m-74 1h1m48 0h2m3 0h2m2 0h1m2 0h3m-73 1h2m56 0h1m1 0h3m2 0h5m1 0h1m1 0h1m3 0h2m-79 1h1m2 0h1m57 0h1m1 0h2m2 0h2m2 0h3m2 0h2m-16 1h1m1 0h2m1 0h1m1 0h2m1 0h1m-10 1h1m1 0h8m1 0h1m6 0h1m-81 1h1m61 0h2m4 0h5m1 0h1m5 0h1m-19 1h3m4 0h1m1 0h1m1 0h2m-12 1h3m7 0h1m-9 1h2m3 0h2m-6 1h1m4 0h2m-7 1h2m3 0h1m-6 1h1m1 0h1m0 1h1m-7 2h1m3 3h2m-2 1h1" stroke="#008000" stroke-width="1" fill="none" shape-rendering="crispEdges"/>
<path d="M702 930.5h1m-21 1h1m5 0h1m3 0h1m1 0h1m-4 1h1m6 1h1m-26 1h1m15 0h1m27 0h1m-49 1h1m-2 1h1m2 0h1m5 0h1m1 0h1m8 0h1m-23 1h1m-4 1h1m15 0h1m1 0h1m6 0h1m1 0h1m-25 1h1m9 1h1m12 0h1m-25 1h1m20 0h2m-63 1h1m18 0h1m1 0h1m8 0h1m3 0h1m21 0h1m8 0h1m-69 1h1m3 0h2m56 0h1m1 0h1m5 0h1m-81 1h1m5 0h1m4 0h1m17 0h1m5 0h2m6 0h1m38 0h1m-76 1h1m1 0h1m6 0h1m25 0h1m-61 1h1m19 0h1m7 0h1m21 0h1m6 0h1m2 0h1m-52 1h1m5 0h1m8 0h1m1 0h1m6 0h1m18 0h1m9 0h1m29 0h1m-91 1h1m6 0h2m9 0h1m2 0h1m7 0h1m3 0h1m19 0h1m35 0h1m3 0h1m6 0h1m-104 1h1m7 0h1m11 0h2m6 0h1m24 0h1m37 0h1m38 0h1m-115 1h1m7 0h2m31 0h1m1 0h1m4 0h1m32 0h1m2 0h1m-84 1h1m6 0h1m3 0h1m1 0h1m10 0h1m11 0h2m41 0h1m-97 1h1m4 0h1m5 0h1m10 0h1m9 0h1m17 0h1m7 0h2m38 0h1m4 0h1m-104 1h1m16 0h1m1 0h1m5 0h1m26 0h1m51 0h1m-102 1h1m3 0h1m2 0h1m1 0h1m1 0h1m9 0h1m4 0h1m6 0h1m10 0h1m5 0h1m2 0h1m1 0h1m32 0h1m2 0h1m12 0h1m-101 1h1m6 0h2m3 0h2m1 0h1m26 0h1m1 0h1m3 0h1m38 0h1m2 0h1m7 0h1m-98 1h1m1 0h1m6 0h1m4 0h1m11 0h2m2 0h1m8 0h1m4 0h2m1 0h1m40 0h1m3 0h1m-92 1h1m1 0h1m3 0h1m4 0h1m3 0h1m2 0h1m22 0h1m8 0h1m38 0h1m-96 1h1m7 0h1m5 0h1m11 0h1m5 0h1m11 0h1m7 0h1m53 0h1m-97 1h1m13 0h1m16 0h1m2 0h1m1 0h1m3 0h1m43 0h1m-96 1h1m1 0h1m19 0h1m1 0h1m21 0h1m3 0h1m1 0h1m1 0h1m1 0h1m33 0h1m1 0h1m6 0h1m-102 1h1m2 0h1m1 0h1m3 0h1m6 0h1m2 0h1m10 0h2m6 0h1m1 0h1m17 0h1m38 0h1m7 0h1m-95 1h1m7 0h1m4 0h1m2 0h1m5 0h1m2 0h1m2 0h1m1 0h1m6 0h1m1 0h1m6 0h1m35 0h1m12 0h1m-105 1h1m15 0h1m3 0h1m6 0h1m2 0h1m2 0h1m16 0h1m1 0h1m1 0h1m2 0h1m37 0h1m4 0h1m1 0h1m4 0h1m-100 1h1m10 0h1m7 0h1m8 0h1m1 0h1m5 0h1m1 0h1m-49 1h1m11 0h1m3 0h1m15 0h1m1 0h2m1 0h1m10 0h1m5 0h1m3 0h1m36 0h1m1 0h1m-96 1h1m4 0h1m1 0h1m9 0h2m1 0h3m5 0h1m7 0h1m1 0h1m5 0h1m3 0h1m62 0h1m-109 1h1m4 0h2m5 0h1m14 0h2m19 0h1m-53 1h1m11 0h1m9 0h1m1 0h1m2 0h1m15 0h1m7 0h1m2 0h1m3 0h1m38 0h1m7 0h1m2 0h1m-111 1h1m11 0h1m5 0h1m16 0h1m1 0h1m1 0h1m4 0h1m4 0h1m3 0h1m1 0h1m41 0h1m4 0h1m-98 1h1m7 0h1m9 0h1m2 0h1m2 0h1m11 0h1m4 0h1m4 0h1m43 0h1m3 0h1m-98 1h1m6 0h1m19 0h1m6 0h1m2 0h1m1 0h1m10 0h1m6 0h1m36 0h1m9 0h2m-104 1h1m8 0h1m6 0h1m1 0h1m3 0h1m3 0h2m5 0h1m2 0h1m3 0h1m1 0h1m1 0h1m4 0h1m4 0h1m39 0h1m1 0h2m7 0h1m-105 1h2m15 0h1m21 0h1m15 0h1m-59 1h1m4 0h1m3 0h1m1 0h2m2 0h1m1 0h2m7 0h1m1 0h1m1 0h1m1 0h1m6 0h1m2 0h1m3 0h1m1 0h1m6 0h1m2 0h1m41 0h1m5 0h1m-104 1h1m8 0h1m7 0h1m12 0h1m2 0h2m13 0h1m2 0h1m5 0h1m45 0h1m-103 1h1m1 0h1m1 0h1m1 0h1m4 0h1m19 0h1m9 0h1m5 0h1m55 0h1m-103 1h1m4 0h1m1 0h1m17 0h1m1 0h1m5 0h1m17 0h1m38 0h1m-97 1h1m17 0h1m24 0h1m9 0h1m7 0h1m34 0h1m1 0h1m-83 1h1m9 0h1m4 0h1m2 0h1m1 0h1m4 0h1m2 0h1m9 0h1m4 0h1m33 0h1m7 0h1m-100 1h1m4 0h1m3 0h1m1 0h2m1 0h1m2 0h1m4 0h1m1 0h1m1 0h1m12 0h1m1 0h1m53 0h1m1 0h2m-94 1h1m1 0h1m16 0h1m4 0h1m1 0h1m2 0h1m1 0h1m2 0h1m2 0h1m9 0h2m1 0h1m33 0h1m1 0h1m1 0h1m7 0h1m-101 1h1m6 0h1m1 0h1m1 0h1m2 0h2m1 0h1m1 0h1m7 0h1m4 0h1m5 0h1m1 0h1m5 0h1m3 0h1m3 0h1m-49 1h1m4 0h1m5 0h1m1 0h1m4 0h2m17 0h1m4 0h1m2 0h1m36 0h1m1 0h2m1 0h1m1 0h1m-76 1h1m9 0h1m1 0h1m1 0h1m5 0h2m14 0h1m38 0h1m8 0h1m-107 1h1m2 0h1m2 0h1m4 0h1m1 0h1m1 0h1m9 0h1m2 0h1m9 0h1m13 0h1m1 0h1m1 0h1m36 0h1m-95 1h1m5 0h1m12 0h3m5 0h1m6 0h1m2 0h1m2 0h2m7 0h1m3 0h1m48 0h1m-97 1h1m4 0h1m11 0h1m10 0h1m21 0h1m51 0h1m-109 1h1m1 0h1m4 0h2m8 0h1m1 0h1m6 0h1m7 0h1m-24 1h1m2 0h2m9 0h1m8 0h1m12 0h1m3 0h1m30 0h1m4 0h1m5 0h1m1 0h1m-93 1h1m6 0h1m10 0h2m14 0h1m6 0h1m10 0h1m4 0h1m28 0h1m7 0h1m9 0h1m-107 1h1m3 0h2m4 0h2m3 0h1m2 0h1m10 0h1m24 0h1m38 0h1m6 0h1m-89 1h2m5 0h1m1 0h1m6 0h1m8 0h2m3 0h1m8 0h1m5 0h1m3 0h1m25 0h1m3 0h1m2 0h1m-96 1h1m2 0h1m2 0h1m11 0h1m6 0h1m6 0h1m3 0h1m1 0h1m4 0h1m4 0h1m2 0h1m4 0h1m1 0h1m-46 1h1m7 0h2m6 0h1m2 0h1m16 0h1m3 0h1m39 0h1m1 0h2m-97 1h1m1 0h1m7 0h1m5 0h1m7 0h1m10 0h2m6 0h1m8 0h1m3 0h1m5 0h1m3 0h1m3 0h1m15 0h1m12 0h1m-89 1h1m8 0h2m3 0h1m4 0h1m21 0h1m3 0h1m24 0h1m1 0h1m5 0h4m11 0h1m6 0h1m-111 1h1m3 0h1m2 0h1m1 0h1m2 0h1m2 0h1m10 0h1m1 0h1m16 0h1m12 0h2m24 0h1m16 0h1m-91 1h2m11 0h2m3 0h1m8 0h1m20 0h1m1 0h1m2 0h1m24 0h1m1 0h1m-93 1h1m2 0h1m6 0h1m5 0h1m3 0h2m6 0h1m3 0h1m4 0h1m2 0h1m4 0h1m9 0h2m24 0h1m6 0h1m2 0h1m-84 1h1m4 0h1m4 0h1m1 0h1m7 0h1m13 0h1m12 0h1m2 0h1m3 0h1m2 0h2m17 0h1m1 0h1m14 0h1m-96 1h1m5 0h1m11 0h1m10 0h1m3 0h1m17 0h1m4 0h1m1 0h1m19 0h1m4 0h1m6 0h1m-93 1h1m1 0h1m10 0h1m9 0h1m2 0h1m55 0h1m6 0h1m5 0h1m1 0h1m-102 1h1m8 0h1m2 0h1m6 0h1m6 0h1m1 0h1m17 0h1m11 0h1m2 0h1m6 0h1m5 0h1m1 0h1m7 0h2m-74 1h1m12 0h1m6 0h1m1 0h1m6 0h1m21 0h1m1 0h1m14 0h1m2 0h1m10 0h1m-86 1h1m18 0h1m37 0h1m2 0h1m14 0h2m8 0h1m-93 1h1m11 0h1m1 0h2m6 0h1m3 0h1m29 0h1m3 0h1m1 0h1m5 0h1m5 0h1m5 0h1m13 0h1m-88 1h1m5 0h1m3 0h1m3 0h2m4 0h1m3 0h1m12 0h1m4 0h1m14 0h1m11 0h1m13 0h1m-73 1h1m33 0h1m7 0h3m6 0h1m1 0h1m1 0h1m17 0h1m1 0h1m-37 1h1m6 0h1m1 0h2m7 0h1m1 0h1m6 0h1m4 0h1m-77 1h1m48 0h1m6 0h2m8 0h1m5 0h1m-81 1h1m1 0h1m8 0h1m15 0h1m15 0h1m9 0h1m4 0h1m1 0h1m1 0h1m8 0h2m1 0h1m2 0h3m7 0h1m-92 1h1m27 0h1m36 0h1m7 0h2m12 1h1m-89 1h1m1 0h1m17 0h1m4 0h1m13 0h1m9 0h1m5 0h1m15 0h1m9 0h1m-69 1h1m42 0h1m17 0h1m3 0h1m7 0h1m-72 1h1m15 0h1m17 0h1m4 0h1m2 0h1m3 0h1m-51 1h1m18 0h1m36 0h1m2 0h1m3 0h1" stroke="#008000" stroke-width="1" fill="none" shape-rendering="crispEdges" opacity="0.68"/>
<path d="M633 919.5h1m-1 1h1m0 1h1m-5 3h1m-1 1h1m3 0h2m-2 1h4m5 0h1m-15 1h1m4 0h1m1 0h1m-7 1h1m2 0h5m1 0h3m-13 1h2m2 0h1m1 0h9m-14 1h2m2 0h5m2 0h2m1 0h1m-16 1h2m4 0h4m1 0h1m3 0h2m-18 1h1m2 0h7m1 0h4m2 0h1m-15 1h2m2 0h8m-14 1h1m1 0h2m1 0h10m-16 1h4m2 0h4m1 0h4m-16 1h17m-17 1h2m1 0h14m-16 1h5m2 0h1m1 0h4m1 0h1m-13 1h11m2 0h1m1 0h1m-17 1h3m1 0h3m1 0h2m2 0h2m1 0h3m11 0h3m-32 1h1m1 0h5m1 0h5m1 0h2m14 0h2" stroke="#ff0000" stroke-width="1" fill="none" shape-rendering="crispEdges"/>
<path d="M634 843.5h1m12 0h1m-1 12h1m-12 2h1m0 4h1m12 1h1m-15 2h1m-7 3h1m5 4h1m-6 4h1m9 3h1m2 3h1m2 7h2m-8 3h1m-1 1h1m17 0h1m-17 1h1m4 0h1m12 0h1m-12 3h1m2 0h1m0 3h1m-4 3h1m-5 1h1m-6 1h1m5 0h1m-8 1h1m1 0h1m-1 2h1m-1 2h1m8 0h1m-16 1h1m1 0h1m2 0h1m-5 1h1m2 1h2m-3 1h1m-8 1h1m1 1h1m3 1h1m13 0h1m-22 2h2m2 1h1m4 0h1m-7 1h1m1 0h1m24 0h1m-35 1h1m2 0h1m1 0h1m3 0h1m5 0h1m-14 1h1m11 0h1m-12 1h1m4 0h1m3 0h1m4 0h1m-17 1h1m4 0h1m7 0h1m-6 1h1m1 0h1m3 0h1m-16 1h1m2 0h1m13 0h1m1 0h1m1 0h1m-22 1h1m10 0h1m2 0h1m1 0h1m7 0h1m-27 1h1m4 0h1m15 0h1m-4 1h1m7 0h1m-20 1h1m25 0h1m-33 1h1m20 0h1m11 0h1m-34 1h1m32 0h1m-32 1h1m16 0h1m-20 1h1m16 0h1m-19 2h1m23 0h1m-7 1h1m4 0h1m-29 1h1m26 0h1m-29 1h1m4 0h1m0 1h1m1 0h1m28 0h1m-61 1h1m49 0h1m4 0h1" stroke="#ff0000" stroke-width="1" fill="none" shape-rendering="crispEdges" opacity="0.72"/>
<path d="M533.3 811.3V1018.2H723.6M533.3 812.3h-3.3M533.3 848.3h-3.1M533.3 839.2h-3.1M533.3 832.8h-3.1M533.3 827.8h-3.1M533.3 823.7h-3.1M533.3 820.3h-3.1M533.3 817.3h-3.1M533.3 814.7h-3.1M533.3 863.8h-3.3M533.3 899.8h-3.1M533.3 890.7h-3.1M533.3 884.3h-3.1M533.3 879.3h-3.1M533.3 875.2h-3.1M533.3 871.7h-3.1M533.3 868.8h-3.1M533.3 866.1h-3.1M533.3 915.2h-3.3M533.3 951.2h-3.1M533.3 942.2h-3.1M533.3 935.7h-3.1M533.3 930.7h-3.1M533.3 926.7h-3.1M533.3 923.2h-3.1M533.3 920.2h-3.1M533.3 917.6h-3.1M533.3 966.7h-3.3M533.3 1002.7h-3.1M533.3 993.6h-3.1M533.3 987.2h-3.1M533.3 982.2h-3.1M533.3 978.1h-3.1M533.3 974.7h-3.1M533.3 971.7h-3.1M533.3 969.1h-3.1M533.3 1018.2h-3.3M533.3 1018.2v3.3M547.6 1018.2v3.0M555.9 1018.2v3.0M561.9 1018.2v3.0M566.5 1018.2v3.0M570.2 1018.2v3.0M573.4 1018.2v3.0M576.2 1018.2v3.0M578.6 1018.2v3.0M580.8 1018.2v3.3M595.0 1018.2v3.0M603.4 1018.2v3.0M609.3 1018.2v3.0M613.9 1018.2v3.0M617.7 1018.2v3.0M620.8 1018.2v3.0M623.6 1018.2v3.0M626.0 1018.2v3.0M628.2 1018.2v3.3M642.5 1018.2v3.0M650.8 1018.2v3.0M656.8 1018.2v3.0M661.4 1018.2v3.0M665.1 1018.2v3.0M668.3 1018.2v3.0M671.1 1018.2v3.0M673.5 1018.2v3.0M675.6 1018.2v3.3M689.9 1018.2v3.0M698.3 1018.2v3.0M704.2 1018.2v3.0M708.8 1018.2v3.0M712.6 1018.2v3.0M715.7 1018.2v3.0M718.5 1018.2v3.0M720.9 1018.2v3.0M723.1 1018.2v3.3" stroke="#1e1e1e" stroke-width="1" fill="none" shape-rendering="crispEdges"/>
<rect x="593.4" y="819.6" width="68.2" height="121.9" fill="none" stroke="#4646ff" stroke-width="1.3"/>
<text x="500.1" y="820.8" font-size="18">10<tspan font-size="11.4" dy="-4.3" dx="-.8">5</tspan></text>
<text x="500.1" y="868.2" font-size="18">10<tspan font-size="11.4" dy="-4.3" dx="-.8">4</tspan></text>
<text x="500.1" y="918.8" font-size="18">10<tspan font-size="11.4" dy="-4.3" dx="-.8">3</tspan></text>
<text x="500.1" y="971.8" font-size="18">10<tspan font-size="11.4" dy="-4.3" dx="-.8">2</tspan></text>
<text x="500.1" y="1019.8" font-size="18">10<tspan font-size="11.4" dy="-4.3" dx="-.8">1</tspan></text>
<text x="560.2" y="1040.9" font-size="18">10<tspan font-size="11.4" dy="-4.3" dx="-.8">2</tspan></text>
<text x="610.0" y="1040.9" font-size="18">10<tspan font-size="11.4" dy="-4.3" dx="-.8">3</tspan></text>
<text x="659.8" y="1040.9" font-size="18">10<tspan font-size="11.4" dy="-4.3" dx="-.8">4</tspan></text>
<text x="707.1" y="1040.9" font-size="18">10<tspan font-size="11.4" dy="-4.3" dx="-.8">5</tspan></text>
<text x="590.9" y="812.3" font-size="18.6" textLength="66.5" lengthAdjust="spacingAndGlyphs">48-70hpi</text>
<path d="M797 939.5h2m-10 1h1m6 0h3m-10 1h1m2 0h8m2 0h3m-22 1h1m1 0h2m1 0h3m1 0h6m1 0h6m-25 1h26m1 0h1m1 0h1m-31 1h2m1 0h25m1 0h1m-32 1h34m-35 1h1m1 0h34m1 0h1m-39 1h39m-45 1h2m2 0h1m1 0h40m-45 1h1m2 0h41m1 0h1m-46 1h46m-46 1h46m-47 1h48m2 0h1m-55 1h2m1 0h48m2 0h3m-57 1h1m1 0h55m-55 1h1m1 0h50m-51 1h54m-55 1h55m-56 1h56m-57 1h55m-59 1h3m1 0h55m-60 1h1m1 0h57m-58 1h61m-62 1h2m1 0h59m-62 1h59m1 0h1m1 0h1m-63 1h59m2 0h1m-61 1h58m-59 1h7m1 0h52m-59 1h2m1 0h55m-59 1h58m1 0h2m-60 1h59m-59 1h58m2 0h1m-62 1h58m7 0h1m-66 1h59m5 0h3m-67 1h58m1 0h2m-61 1h60m-60 1h59m-58 1h57m-58 1h59m-59 1h57m1 0h1m-59 1h58m-57 1h58m-59 1h57m-56 1h54m1 0h1m-57 1h56m-55 1h55m-56 1h55m-55 1h6m1 0h47m-53 1h53m-54 1h54m-54 1h55m-55 1h55m-55 1h52m-51 1h52m-53 1h52m-52 1h53m-53 1h53m-53 1h5m1 0h45m-51 1h51m-50 1h49m-49 1h4m1 0h44m-50 1h10m1 0h39m-50 1h5m1 0h45m-51 1h49m2 0h1m-52 1h50m-50 1h49m-49 1h49m-49 1h50m-50 1h49m-48 1h46m2 0h1m-50 1h49m-49 1h47m-46 1h47m-47 1h47m-48 1h47m-47 1h12m1 0h34m-47 1h47" stroke="#828282" stroke-width="1" fill="none" shape-rendering="crispEdges"/>
<path d="M802 930.5h1m-12 2h1m-30 1h1m38 1h1m16 1h1m-34 1h1m4 0h1m8 0h1m14 0h1m-22 1h1m10 0h1m4 0h1m7 0h1m-23 1h2m4 0h1m2 0h1m-21 1h1m2 0h2m1 0h1m11 0h1m13 0h1m-40 1h1m5 0h1m7 0h1m12 0h1m7 0h1m-30 1h1m1 0h1m20 0h1m-29 1h1m29 0h1m1 0h1m12 0h1m1 0h1m-62 1h1m11 0h1m-1 2h1m35 0h1m2 0h1m11 0h1m-13 1h1m-48 1h1m2 0h1m1 0h1m45 2h1m-53 1h1m-3 1h2m1 0h1m49 0h1m6 1h1m-63 1h1m59 0h1m-60 2h1m-1 1h1m-1 1h1m57 1h1m1 0h1m-66 2h1m60 0h1m3 4h1m-6 1h1m2 0h1m2 0h1m-4 1h1m2 0h1m-7 1h1m2 0h1m3 0h1m-6 1h1m2 1h1m-5 1h1m2 0h1m-5 2h2m1 0h1m-3 2h1m5 0h1m-1 1h1m-9 2h1m2 2h1m5 0h1m-9 2h1m5 0h1m1 0h1m-11 1h1m9 0h1m-12 2h1m-1 1h1m9 1h1m-13 1h1m1 0h1m5 0h1m-6 1h1m-4 1h2m3 0h1m0 1h1m5 0h1m-14 2h1m0 2h1m12 0h1m-16 1h1m8 3h1m1 0h1m-10 3h1m3 0h1m-8 1h1m15 0h1m-6 1h1m-12 1h1m4 1h1m-8 1h2m1 3h1m-5 1h1m-1 4h1m8 0h1m3 1h1m-16 1h1" stroke="#828282" stroke-width="1" fill="none" shape-rendering="crispEdges" opacity="0.62"/>
<path d="M920 942.5h1m-68 5h1m41 1h2m5 0h1m-12 4h1m4 0h1m1 0h3m-59 1h1m47 0h1m3 0h6m3 0h1m-62 1h1m14 0h1m34 0h3m2 0h2m1 0h1m3 0h1m-61 1h2m12 0h1m34 0h2m2 0h1m2 0h1m-58 1h2m52 0h4m-43 1h1m37 0h5m2 0h2m-70 1h1m3 0h1m16 0h2m33 0h1m3 0h1m1 0h2m1 0h2m1 0h4m-73 1h3m2 0h2m3 0h1m1 0h4m5 0h2m38 0h1m2 0h2m1 0h1m-66 1h2m1 0h1m3 0h2m2 0h2m42 0h3m1 0h2m1 0h4m-67 1h1m2 0h2m4 0h1m2 0h1m43 0h2m1 0h1m1 0h2m3 0h2m3 0h1m-72 1h2m6 0h2m5 0h1m42 0h6m2 0h2m3 0h2m7 0h1m-73 1h1m5 0h1m38 0h2m6 0h5m1 0h3m-68 1h5m2 0h1m4 0h1m37 0h3m5 0h1m2 0h2m2 0h2m-71 1h1m2 0h3m1 0h4m9 0h1m39 0h5m1 0h3m-71 1h2m4 0h3m2 0h1m4 0h1m5 0h2m38 0h4m1 0h3m-70 1h1m6 0h1m2 0h3m1 0h4m5 0h1m37 0h2m3 0h6m-63 1h1m3 0h1m1 0h1m1 0h2m41 0h3m3 0h3m2 0h2m-65 1h1m1 0h2m1 0h2m1 0h1m48 0h7m1 0h2m-67 1h4m1 0h3m35 0h1m12 0h4m1 0h1m1 0h4m-68 1h3m2 0h1m1 0h1m2 0h3m44 0h6m3 0h1m-74 1h1m1 0h1m1 0h2m3 0h2m3 0h2m1 0h4m41 0h4m1 0h1m5 0h1m-74 1h2m1 0h1m1 0h7m5 0h4m38 0h2m1 0h4m6 0h3m-74 1h2m4 0h2m1 0h3m4 0h3m38 0h1m2 0h2m2 0h1m1 0h6m-72 1h1m1 0h2m7 0h1m46 0h3m5 0h2m2 0h1m-70 1h2m9 0h1m4 0h1m5 0h1m34 0h1m1 0h1m2 0h1m1 0h1m5 0h2m-72 1h1m7 0h1m1 0h2m5 0h1m38 0h3m1 0h2m1 0h1m6 0h3m-72 1h1m1 0h1m8 0h1m4 0h2m39 0h1m1 0h4m-63 1h3m4 0h1m3 0h3m4 0h1m33 0h3m3 0h2m1 0h1m-66 1h1m4 0h1m2 0h9m1 0h1m3 0h2m34 0h1m10 0h1m-68 1h2m3 0h13m42 0h1m6 0h2m5 0h1m-74 1h2m1 0h2m1 0h1m5 0h1m1 0h1m44 0h1m6 0h1m1 0h1m-67 1h2m1 0h1m5 0h2m-12 1h1m1 0h1m8 0h1m9 0h1m39 0h1m-63 1h1m1 0h1m8 0h4m6 0h1m-26 1h2m1 0h1m12 0h3m49 0h1m-70 1h1m2 0h1m1 0h1m1 0h1m4 0h2m3 0h1m-14 1h1m1 0h1m1 0h1m3 0h2m1 0h2m-16 1h1m3 0h1m2 0h1m-9 1h2m3 0h1m2 0h2m-7 1h3m2 0h1m9 0h1m-16 1h2m4 0h2m2 0h1m7 0h1m-17 1h1m4 0h1m3 0h1m7 0h2m-18 1h1m3 0h1m2 0h3m-11 1h2m3 0h1m4 0h4m-14 1h2m2 0h1m4 0h2m1 0h1m-3 1h2m-4 6h3m-3 1h2" stroke="#008000" stroke-width="1" fill="none" shape-rendering="crispEdges"/>
<path d="M934 930.5h1m-19 5h1m20 0h1m-21 1h1m16 0h1m-26 1h1m3 0h1m-3 4h1m9 0h1m-22 1h3m1 0h1m7 0h1m-46 1h1m51 0h2m-59 1h1m5 0h1m30 0h1m2 0h1m11 0h1m-71 1h1m1 0h2m7 0h1m7 0h1m33 0h1m4 0h2m3 0h1m19 0h2m-94 1h1m4 0h1m7 0h1m5 0h1m12 0h1m-25 1h1m7 0h1m43 0h1m5 0h1m1 0h3m-69 1h2m10 0h1m3 0h2m1 0h1m3 0h1m5 0h1m32 0h1m8 0h1m-76 1h1m5 0h1m3 0h1m30 0h1m1 0h1m18 0h1m7 0h1m-75 1h1m8 0h1m6 0h1m3 0h1m10 0h1m1 0h1m7 0h1m5 0h1m5 0h1m8 0h1m15 0h1m-78 1h1m2 0h1m11 0h1m3 0h2m6 0h1m3 0h1m18 0h1m12 0h1m2 0h1m3 0h1m13 0h1m-83 1h2m2 0h1m6 0h1m29 0h1m3 0h1m10 0h1m1 0h1m1 0h1m9 0h1m8 0h1m5 0h1m-79 1h1m1 0h1m4 0h1m9 0h2m7 0h2m40 0h1m8 0h1m-88 1h1m18 0h1m10 0h1m2 0h1m2 0h1m16 0h1m8 0h1m9 0h1m1 0h1m5 0h1m-81 1h2m7 0h3m1 0h1m5 0h1m2 0h1m18 0h1m13 0h1m10 0h1m9 0h1m3 0h1m-77 1h1m1 0h1m10 0h1m1 0h1m2 0h1m2 0h1m2 0h1m5 0h2m11 0h1m9 0h1m6 0h1m16 0h1m6 0h1m-88 1h1m1 0h1m10 0h1m3 0h1m21 0h2m1 0h1m5 0h1m12 0h1m3 0h1m10 0h1m2 0h1m2 0h1m-83 1h1m2 0h1m4 0h1m6 0h1m5 0h1m7 0h1m3 0h1m10 0h1m17 0h1m19 0h1m-85 1h1m12 0h1m8 0h1m3 0h1m6 0h1m3 0h1m19 0h1m4 0h1m16 0h1m13 0h1m-92 1h1m1 0h1m30 0h1m1 0h1m1 0h1m36 0h2m4 0h1m1 0h1m-64 1h1m1 0h1m4 0h1m13 0h1m1 0h1m1 0h1m2 0h1m32 0h1m5 0h1m5 0h1m-84 1h1m5 0h1m1 0h1m8 0h1m10 0h1m9 0h1m26 0h1m4 0h1m4 0h1m1 0h1m-85 1h1m2 0h1m5 0h1m5 0h1m14 0h1m6 0h1m13 0h1m2 0h1m4 0h1m14 0h1m1 0h1m9 0h1m-87 1h1m12 0h1m4 0h1m2 0h1m4 0h1m7 0h1m7 0h2m1 0h1m14 0h1m-65 1h1m1 0h1m3 0h1m13 0h1m10 0h1m7 0h1m3 0h2m4 0h1m7 0h2m2 0h1m13 0h1m3 0h3m-65 1h1m6 0h1m2 0h1m3 0h1m4 0h1m10 0h1m15 0h1m19 0h1m-77 1h2m13 0h1m6 0h1m3 0h1m1 0h1m5 0h1m5 0h2m13 0h1m13 0h1m1 0h2m-76 1h2m16 0h1m4 0h1m10 0h1m3 0h1m15 0h2m7 0h1m12 0h1m4 0h1m15 0h1m-96 1h1m2 0h1m23 0h1m3 0h2m1 0h1m12 0h1m11 0h1m13 0h1m-73 1h1m1 0h1m25 0h1m4 0h1m7 0h1m1 0h2m3 0h1m1 0h1m29 0h1m-85 1h1m1 0h1m20 0h1m8 0h1m1 0h1m11 0h1m3 0h1m5 0h1m5 0h1m13 0h1m-80 1h2m13 0h1m17 0h1m1 0h1m8 0h1m12 0h1m1 0h1m3 0h1m9 0h1m8 0h1m4 0h1m-70 1h1m7 0h1m2 0h1m2 0h1m13 0h1m13 0h1m21 0h1m-59 1h1m8 0h1m1 0h1m4 0h1m2 0h1m1 0h1m9 0h1m21 0h1m3 0h1m-74 1h1m9 0h1m6 0h1m1 0h1m6 0h1m11 0h1m1 0h1m3 0h2m2 0h1m1 0h1m8 0h1m11 0h1m-78 1h1m7 0h3m5 0h1m1 0h1m1 0h1m30 0h1m6 0h1m12 0h1m5 0h2m4 0h1m-86 1h1m2 0h1m4 0h1m5 0h1m3 0h1m5 0h1m1 0h2m1 0h1m17 0h1m2 0h1m6 0h1m12 0h1m-67 1h1m7 0h1m8 0h1m7 0h1m9 0h2m5 0h1m31 0h1m1 0h1m-80 1h2m7 0h1m16 0h1m12 0h1m10 0h1m5 0h1m3 0h1m7 0h1m1 0h1m2 0h1m7 0h1m-53 1h1m2 0h1m11 0h1m11 0h1m11 0h1m6 0h1m1 0h2m-77 1h1m18 0h2m2 0h2m24 0h1m2 0h1m4 0h1m4 0h1m7 0h1m15 0h1m-89 1h1m26 0h1m6 0h1m1 0h2m8 0h1m4 0h1m7 0h1m2 0h1m13 0h1m2 0h2m-67 1h1m4 0h1m3 0h1m2 0h1m16 0h1m9 0h2m4 0h1m4 0h2m1 0h1m3 0h1m4 0h1m-73 1h1m4 0h1m1 0h1m23 0h1m2 0h1m29 0h1m-68 1h1m6 0h1m3 0h1m6 0h1m1 0h1m2 0h1m1 0h1m6 0h1m19 0h1m9 0h1m2 0h1m1 0h1m1 0h1m12 0h1m-85 1h1m6 0h1m16 0h1m5 0h1m6 0h1m19 0h1m5 0h1m12 0h1m20 0h1m-83 1h1m6 0h1m1 0h1m4 0h1m2 0h1m15 0h1m19 0h1m1 0h1m5 0h1m5 0h1m29 0h1m-112 1h1m1 0h1m5 0h1m7 0h1m49 0h1m2 0h1m1 0h2m2 0h1m6 0h1m-70 1h1m8 0h1m7 0h1m19 0h1m3 0h1m7 0h1m7 0h1m-62 1h1m5 0h1m2 0h1m2 0h1m20 0h1m7 0h1m1 0h1m12 0h1m2 0h1m6 0h2m6 0h1m-85 1h1m5 0h1m4 0h1m2 0h1m5 0h1m8 0h1m26 0h1m23 0h1m-66 1h1m1 0h2m4 0h1m6 0h1m20 0h1m16 0h1m3 0h1m-67 1h1m1 0h1m3 0h1m7 0h1m9 0h1m4 0h1m23 0h1m-41 1h1m2 0h1m2 0h1m11 0h1m16 0h1m18 0h1m-63 1h1m14 0h1m40 0h1m-60 1h1m29 0h1m6 0h1m12 0h1m10 0h1m6 0h1m-75 1h1m5 0h1m3 0h1m33 0h1m8 0h1m-40 1h1m9 0h1m42 0h1m-60 1h1m10 0h1m22 0h1m19 0h1m-56 1h1m1 0h1m4 0h1m44 0h1m9 0h1m41 0h1m-93 1h1m6 0h1m25 0h1m2 0h1m-51 1h1m8 0h1m1 1h1m1 0h1m2 0h1m19 0h1m-23 1h1m1 0h1m6 0h1m-27 1h1m7 0h1m52 0h1m-53 1h1m2 0h1m10 0h1m7 0h1m32 0h1m-63 1h1m13 2h1m11 0h1m-20 1h1m3 0h1m3 0h1m2 0h1m38 3h1m-61 1h1m49 1h1m-41 1h1m7 0h1" stroke="#008000" stroke-width="1" fill="none" shape-rendering="crispEdges" opacity="0.68"/>
<path d="M866 875.5h2m-2 1h2m-5 3h1m-1 1h2m7 0h2m2 0h1m-17 1h1m3 0h1m2 0h3m2 0h1m3 0h1m-17 1h1m6 0h2m2 0h1m-6 1h3m1 0h4m-8 1h1m2 0h5m-4 1h1m1 0h2m-7 1h1m1 0h2m-5 1h4m5 0h1m-10 1h1m1 0h2m1 0h2m1 0h1m1 0h2m-13 1h2m1 0h1m1 0h9m-15 1h3m2 0h1m1 0h4m1 0h1m1 0h1m-11 1h1m1 0h6m-11 1h6m3 0h2m-16 1h1m4 0h7m1 0h1m5 0h1m-21 1h1m9 0h5m2 0h1m-18 1h2m1 0h2m3 0h1m2 0h1m2 0h1m2 0h2m-19 1h1m1 0h1m1 0h11m3 0h2m-23 1h1m7 0h2m1 0h2m1 0h1m1 0h1m-18 1h2m4 0h1m1 0h4m1 0h2m1 0h1m-17 1h3m3 0h2m1 0h3m1 0h1m1 0h2m1 0h1m-14 1h1m2 0h5m1 0h1m1 0h6m-17 1h1m2 0h6m1 0h2m2 0h3m-12 1h2m2 0h2m1 0h1m3 0h1m-10 1h5m-13 1h1m2 0h1m1 0h3m1 0h1m1 0h1m1 0h2m2 0h1m-17 1h1m1 0h3m2 0h1m3 0h5m-19 1h1m2 0h2m2 0h4m4 0h1m1 0h2m-19 1h1m3 0h2m1 0h1m1 0h3m3 0h4m-15 1h1m2 0h3m1 0h1m2 0h6m1 0h1m-17 1h2m1 0h1m2 0h2m1 0h3m1 0h1m1 0h1m-16 1h8m2 0h1m1 0h1m-10 1h6m1 0h2m-10 1h3m1 0h7m-11 1h1m2 0h1m1 0h1m1 0h1m2 0h1m-7 1h8m-7 1h1m2 0h2m-11 1h1m2 0h2m1 0h4m-14 1h2m3 0h1m2 0h2m3 0h1m1 0h3m-17 1h1m4 0h5m2 0h3m1 0h1m-11 1h1m3 0h1m1 0h3m-18 1h1m3 0h1m5 0h2m2 0h1m1 0h2m-14 1h2m5 0h2m-10 1h5m3 0h1m-10 1h1m1 0h1m2 0h2m1 0h1m-10 1h3m1 0h3m2 0h2m3 0h1m-13 1h1m4 0h2m1 0h1m1 0h3m2 0h1m-18 1h2m5 0h1m1 0h1m1 0h2m2 0h2m-7 1h3m2 0h1m-5 1h2m2 0h2m-15 1h1m5 0h1m3 0h5m-16 1h2m5 0h2m1 0h2m2 0h1m-11 1h4m-4 1h2m-1 1h2m-9 1h1m-2 1h1m12 3h1m-2 1h3m-2 1h1" stroke="#ff0000" stroke-width="1" fill="none" shape-rendering="crispEdges"/>
<path d="M870 835.5h1m-4 12h1m-4 1h1m9 1h1m-15 2h1m-9 1h1m8 0h1m9 1h1m-6 1h1m3 0h1m1 1h1m7 1h1m-19 3h1m22 0h1m-19 2h1m4 0h1m-8 1h1m-7 1h2m1 0h1m1 0h1m6 0h1m-6 1h1m7 0h1m1 0h1m-12 1h2m2 0h1m13 0h1m-23 1h3m8 0h1m1 0h1m-10 1h1m9 0h1m-1 1h1m1 0h1m-27 1h1m16 0h1m-17 1h1m1 0h1m2 0h1m11 0h1m1 0h1m1 0h1m3 0h1m4 0h1m-23 1h1m7 0h1m6 0h1m-16 1h1m7 0h1m2 0h1m3 0h1m-7 1h1m4 0h1m-21 1h1m1 0h1m2 0h1m1 0h3m2 0h1m1 0h1m2 0h1m9 0h1m5 0h1m-31 1h1m21 0h1m1 0h1m-17 1h1m5 0h1m1 0h1m11 0h1m-26 1h1m10 0h1m7 0h1m-21 1h1m2 0h1m3 0h1m-9 1h1m6 0h1m4 0h1m2 0h1m6 0h1m-26 1h1m21 0h1m-19 1h1m1 0h1m4 0h1m3 0h1m4 0h1m-20 1h1m6 0h1m14 0h1m-21 1h1m17 0h1m1 0h1m-23 1h1m4 0h2m13 0h1m-19 1h2m4 0h2m16 0h1m-29 1h2m19 0h1m7 0h1m-26 1h1m4 0h1m1 0h1m7 0h1m13 0h1m-25 1h1m-4 1h1m1 0h1m16 0h1m-17 1h1m18 0h1m2 0h1m-35 1h1m6 0h1m23 0h1m-31 1h1m1 0h1m1 0h1m4 0h1m16 0h2m1 0h1m-40 1h1m16 0h1m16 0h1m-23 1h1m25 0h1m-6 1h1m3 0h1m2 0h1m-26 2h1m1 0h1m1 0h1m12 0h1m1 0h1m1 1h1m-29 1h1m7 0h2m23 0h1m-29 1h1m29 0h1m-27 1h1m-6 1h1m2 0h1m3 0h1m11 0h1m10 0h1m-38 1h1m2 0h1m12 0h1m11 0h1m1 0h1m1 0h1m4 0h1m-30 1h1m2 0h1m1 0h1m-5 1h1m20 0h1m1 0h1m8 0h1m-35 1h1m4 0h1m9 0h1m9 0h1m2 0h1m6 0h1m1 0h1m-55 1h1m15 0h2m1 0h1m21 0h1m-40 1h1m1 0h1m5 0h1m10 0h1m-2 1h1m2 0h1m18 0h1m-20 1h1m14 0h1m1 0h1m2 0h1m4 0h1m-34 1h1m25 0h1m-27 1h1m8 0h1m14 0h1m2 0h1m1 0h1m2 0h1m-30 1h1m1 0h1m-6 1h1m5 0h2m3 0h1m2 0h1m9 0h1m2 0h1m-36 1h1m15 0h1m1 0h1m2 0h1m12 0h1m-21 1h1m22 0h1m-32 1h1m6 0h1m3 0h1m1 0h1m13 0h1m4 0h1m-26 1h1m12 0h1m-15 1h1m4 0h1m1 0h1m17 0h1m-34 1h1m14 0h1m12 0h1m-21 1h2m7 0h2m4 0h1m3 0h1m2 0h1m12 0h1m-21 1h1m6 0h1m2 0h1m-31 1h1m4 0h2m13 0h1m2 0h1m1 0h1m-3 1h1m-13 1h1m13 0h2m1 0h1m-23 1h1m22 0h1m-35 1h1m10 0h1m2 0h1m3 0h1m10 0h1m7 0h1m-19 1h1m1 0h1m9 0h1m-21 1h1m3 0h1m1 1h1m4 0h1m-11 1h1m2 0h1m8 0h1m1 0h1m6 0h1m-12 1h1m4 0h2m-18 1h1m2 0h2m4 0h1m3 0h1m8 0h1m-31 1h1m5 0h1m2 0h1m3 0h1m4 0h1m13 0h1m4 0h1m-34 1h1m7 0h1m7 0h1m-15 1h2m5 0h1m1 0h1m1 0h1m2 0h1m2 0h1m1 0h1m-11 1h1m3 0h1m5 0h1m-17 1h1m1 0h1m10 0h1m7 0h1m-16 1h1m2 0h1m5 0h3m-18 1h1m5 0h2m5 0h2m-17 1h1m20 0h1m-28 1h1m2 0h1m6 0h1m3 0h1m18 0h1" stroke="#ff0000" stroke-width="1" fill="none" shape-rendering="crispEdges" opacity="0.72"/>
<path d="M758.4 810.5V1017.1H949.6M758.4 811.5h-3.3M758.4 847.4h-3.1M758.4 838.4h-3.1M758.4 832.0h-3.1M758.4 827.0h-3.1M758.4 822.9h-3.1M758.4 819.5h-3.1M758.4 816.5h-3.1M758.4 813.9h-3.1M758.4 862.9h-3.3M758.4 898.8h-3.1M758.4 889.8h-3.1M758.4 883.4h-3.1M758.4 878.4h-3.1M758.4 874.3h-3.1M758.4 870.9h-3.1M758.4 867.9h-3.1M758.4 865.3h-3.1M758.4 914.3h-3.3M758.4 950.2h-3.1M758.4 941.2h-3.1M758.4 934.8h-3.1M758.4 929.8h-3.1M758.4 925.7h-3.1M758.4 922.3h-3.1M758.4 919.3h-3.1M758.4 916.7h-3.1M758.4 965.7h-3.3M758.4 1001.6h-3.1M758.4 992.6h-3.1M758.4 986.2h-3.1M758.4 981.2h-3.1M758.4 977.1h-3.1M758.4 973.7h-3.1M758.4 970.7h-3.1M758.4 968.1h-3.1M758.4 1017.1h-3.3M758.4 1017.1v3.3M772.8 1017.1v3.0M781.1 1017.1v3.0M787.1 1017.1v3.0M791.7 1017.1v3.0M795.5 1017.1v3.0M798.7 1017.1v3.0M801.5 1017.1v3.0M803.9 1017.1v3.0M806.1 1017.1v3.3M820.4 1017.1v3.0M828.8 1017.1v3.0M834.8 1017.1v3.0M839.4 1017.1v3.0M843.2 1017.1v3.0M846.4 1017.1v3.0M849.1 1017.1v3.0M851.6 1017.1v3.0M853.8 1017.1v3.3M868.1 1017.1v3.0M876.5 1017.1v3.0M882.5 1017.1v3.0M887.1 1017.1v3.0M890.8 1017.1v3.0M894.0 1017.1v3.0M896.8 1017.1v3.0M899.2 1017.1v3.0M901.4 1017.1v3.3M915.8 1017.1v3.0M924.2 1017.1v3.0M930.1 1017.1v3.0M934.7 1017.1v3.0M938.5 1017.1v3.0M941.7 1017.1v3.0M944.5 1017.1v3.0M946.9 1017.1v3.0M949.1 1017.1v3.3" stroke="#1e1e1e" stroke-width="1" fill="none" shape-rendering="crispEdges"/>
<rect x="828.5" y="820.6" width="68.2" height="122.0" fill="none" stroke="#4646ff" stroke-width="1.3"/>
<text x="725.3" y="820.8" font-size="18">10<tspan font-size="11.4" dy="-4.3" dx="-.8">5</tspan></text>
<text x="725.3" y="868.2" font-size="18">10<tspan font-size="11.4" dy="-4.3" dx="-.8">4</tspan></text>
<text x="725.3" y="918.8" font-size="18">10<tspan font-size="11.4" dy="-4.3" dx="-.8">3</tspan></text>
<text x="725.3" y="971.8" font-size="18">10<tspan font-size="11.4" dy="-4.3" dx="-.8">2</tspan></text>
<text x="725.3" y="1019.8" font-size="18">10<tspan font-size="11.4" dy="-4.3" dx="-.8">1</tspan></text>
<text x="783.6" y="1040.9" font-size="18">10<tspan font-size="11.4" dy="-4.3" dx="-.8">2</tspan></text>
<text x="833.4" y="1040.9" font-size="18">10<tspan font-size="11.4" dy="-4.3" dx="-.8">3</tspan></text>
<text x="884.1" y="1040.9" font-size="18">10<tspan font-size="11.4" dy="-4.3" dx="-.8">4</tspan></text>
<text x="931.4" y="1040.9" font-size="18">10<tspan font-size="11.4" dy="-4.3" dx="-.8">5</tspan></text>
<text x="828.1" y="813.2" font-size="18.6" textLength="67.3" lengthAdjust="spacingAndGlyphs">72-94hpi</text>
<path d="M1014 936.5h3m5 0h2m-11 1h2m2 0h1m1 0h4m-14 1h1m3 0h2m1 0h1m1 0h8m4 0h1m-25 1h5m1 0h1m1 0h13m2 0h2m4 0h1m-32 1h1m1 0h25m3 0h1m-33 1h4m1 0h25m1 0h2m-33 1h32m-34 1h36m-40 1h1m2 0h2m1 0h35m-42 1h2m1 0h39m-41 1h2m1 0h40m1 0h1m-48 1h49m-49 1h47m-46 1h48m-50 1h50m-50 1h48m-49 1h50m-51 1h53m-54 1h55m-57 1h58m-58 1h57m-57 1h57m-60 1h1m1 0h59m-61 1h58m1 0h1m-61 1h2m1 0h57m-58 1h60m-62 1h62m-63 1h1m2 0h5m1 0h53m-62 1h61m-61 1h4m1 0h57m-62 1h59m1 0h1m-60 1h58m-59 1h59m-59 1h60m2 0h1m-63 1h60m2 0h1m-63 1h59m1 0h1m-60 1h59m-60 1h9m1 0h50m-60 1h58m-58 1h60m-59 1h59m-60 1h60m-60 1h1m1 0h56m1 0h1m-60 1h57m1 0h2m-59 1h55m2 0h2m-59 1h55m1 0h1m-58 1h10m1 0h47m-58 1h8m1 0h47m-56 1h57m-57 1h1m1 0h4m1 0h47m1 0h1m-55 1h55m-56 1h6m1 0h48m-55 1h11m1 0h43m-54 1h55m-55 1h1m1 0h49m1 0h2m-54 1h1m1 0h6m1 0h45m-55 1h53m1 0h1m-55 1h52m1 0h1m-54 1h54m-54 1h3m1 0h50m-54 1h51m1 0h1m-53 1h1m1 0h3m1 0h46m-52 1h51m-50 1h51m-51 1h2m1 0h46m1 0h1m-52 1h49m1 0h1m-51 1h10m1 0h39m-49 1h50m-51 1h10m1 0h39m-50 1h49m1 0h1m-51 1h51m-51 1h51m-51 1h50m-49 1h1m1 0h45m-48 1h49m-49 1h47m2 0h1m-50 1h49m-49 1h49m-48 1h13m1 0h34m-48 1h47" stroke="#828282" stroke-width="1" fill="none" shape-rendering="crispEdges"/>
<path d="M1135 877.5h1m-8 7h1m1 13h1m-6 11h1m10 1h1m-122 15h1m32 0h1m84 3h1m-140 2h1m26 0h1m4 1h1m-7 2h1m5 0h1m13 0h1m-39 1h1m13 0h1m5 0h1m-29 2h1m25 0h1m3 0h1m-25 1h1m16 0h1m13 0h1m-4 1h1m1 0h1m-32 1h1m4 0h1m6 0h1m16 0h1m4 0h1m1 0h1m2 0h1m-3 1h1m-51 2h1m6 0h1m44 0h1m-40 1h1m-3 1h1m39 0h2m1 2h1m6 0h1m-58 1h1m51 0h1m3 0h1m2 0h1m-6 2h1m4 0h1m-64 1h1m60 0h1m1 0h1m-62 1h1m2 0h1m-6 1h1m1 0h2m-4 1h1m55 0h1m-57 1h1m1 0h1m-4 1h1m-1 2h1m59 0h1m-63 2h1m62 2h1m6 0h1m-72 1h1m64 3h1m-2 2h1m1 0h1m-6 1h1m-1 2h1m1 0h1m-3 2h1m1 0h1m-1 2h1m-1 1h1m1 0h1m4 0h1m-10 2h1m2 1h1m-1 2h1m-4 1h1m1 0h1m0 2h1m-7 1h1m1 0h1m-4 1h1m7 2h1m-10 1h1m2 0h1m3 0h1m-3 2h1m3 2h1m-3 1h1m-7 1h1m2 0h1m2 0h1m-2 1h1m1 2h1m-13 1h1m4 0h1m2 0h1m-7 1h1m-3 1h1m7 0h1m-3 1h1m1 0h1m-9 1h1m-1 1h1m1 0h1m9 3h1m-13 2h1m2 0h1m-4 1h1m-4 2h1m3 0h1m-4 2h1m11 0h1m-13 1h1m-51 2h1m50 0h1" stroke="#828282" stroke-width="1" fill="none" shape-rendering="crispEdges" opacity="0.62"/>
<path d="M1118 948.5h2m-65 1h1m63 0h1m-1 2h1m-55 1h2m45 0h2m1 0h1m2 0h1m-54 1h2m45 0h1m1 0h1m1 0h1m-59 1h2m2 0h2m4 0h1m38 0h1m5 0h3m-59 1h3m2 0h1m1 0h1m49 0h2m-58 1h1m4 0h2m48 0h2m-58 1h1m5 0h2m47 0h1m-56 1h3m53 0h2m-59 1h2m1 0h3m-6 1h1m3 0h1m1 0h1m44 0h1m-53 1h1m1 0h2m2 0h3m42 0h3m10 0h2m-65 1h2m3 0h2m43 0h2m2 0h2m4 0h2m1 0h2m-61 1h3m1 0h1m1 0h2m42 0h1m2 0h1m-60 1h2m3 0h1m2 0h2m1 0h1m1 0h2m43 0h2m-63 1h3m1 0h3m5 0h2m47 0h1m-62 1h1m1 0h2m2 0h2m5 0h1m42 0h1m1 0h1m1 0h3m6 0h1m-64 1h3m3 0h2m3 0h1m49 0h2m-60 1h1m1 0h1m1 0h1m52 0h1m1 0h2m-67 1h2m9 0h2m3 0h1m48 0h2m-67 1h2m1 0h1m2 0h1m3 0h3m47 0h1m-60 1h3m2 0h6m-10 1h1m1 0h2m1 0h3m1 0h2m-13 1h2m2 0h2m1 0h1m2 0h2m8 0h1m34 0h1m1 0h1m-58 1h4m1 0h4m1 0h2m1 0h1m42 0h1m-57 1h2m4 0h1m1 0h3m3 0h1m41 0h1m-57 1h1m4 0h2m1 0h1m1 0h1m3 0h1m41 0h2m7 0h1m-66 1h2m3 0h2m1 0h4m1 0h2m50 0h2m-68 1h2m4 0h2m2 0h2m1 0h2m52 0h1m-66 1h2m3 0h1m2 0h1m8 0h1m-18 1h1m1 0h1m12 0h3m-15 1h2m4 0h1m5 0h2m-13 1h1m-4 1h2m5 0h1m-9 1h1m6 0h3m-4 1h1m1 0h2m4 0h1m-17 1h1m6 0h1m2 0h1m-4 1h2m-7 1h4m4 0h1m-10 1h1m1 0h2m4 0h2m-7 1h1m10 0h1m-12 1h2m8 0h1m-10 1h1m0 1h1m2 0h2m-2 1h1" stroke="#008000" stroke-width="1" fill="none" shape-rendering="crispEdges"/>
<path d="M1105 940.5h1m2 0h1m-49 1h1m50 0h1m-50 1h1m1 0h1m10 0h1m31 0h1m3 0h1m6 0h1m-66 1h1m16 0h1m9 0h1m37 0h1m-69 1h1m3 0h1m2 0h2m4 0h1m13 0h1m24 0h1m3 0h1m2 0h2m7 0h1m-53 1h1m36 0h1m-48 1h2m18 0h1m37 0h2m11 0h1m-78 1h1m8 0h1m2 0h1m4 0h1m2 0h1m37 0h1m9 0h1m1 0h1m-67 1h1m1 0h1m31 0h1m34 0h1m-66 1h1m5 0h1m2 0h1m4 0h1m47 0h1m3 0h1m3 0h1m-74 1h1m3 0h1m1 0h1m23 0h1m13 0h1m4 0h1m2 0h1m8 0h1m-60 1h1m3 0h1m5 0h2m12 0h1m11 0h1m10 0h1m8 0h1m4 0h1m1 0h1m1 0h1m3 0h1m-75 1h1m3 0h1m1 0h2m19 0h2m22 0h1m6 0h1m5 0h1m7 0h1m-62 1h1m4 0h2m2 0h1m30 0h1m4 0h2m9 0h1m-66 1h2m10 0h1m10 0h1m3 0h1m36 0h1m3 0h1m-71 1h1m3 0h1m11 0h1m1 0h1m32 0h1m2 0h1m1 0h1m-61 1h1m46 0h1m30 0h1m-78 1h1m10 0h2m5 0h1m19 0h1m19 0h1m-55 1h1m13 0h1m35 0h1m3 0h1m1 0h1m1 0h1m3 0h1m10 0h1m-76 1h1m12 0h1m1 0h1m9 0h1m25 0h1m1 0h1m1 0h1m6 0h1m1 0h1m-52 1h1m2 0h1m7 0h1m21 0h1m1 0h1m18 0h1m4 0h1m2 0h1m-76 1h1m1 0h2m15 0h2m26 0h1m11 0h1m3 0h1m1 0h1m6 0h1m-75 1h1m9 0h1m4 0h1m47 0h1m-60 1h1m23 0h1m17 0h1m4 0h1m2 0h1m5 0h1m6 0h1m2 0h1m-70 1h1m7 0h1m10 0h1m2 0h1m49 0h1m1 0h1m-65 1h2m13 0h2m29 0h2m2 0h1m6 0h2m1 0h1m1 0h1m3 0h1m-77 1h1m18 0h1m4 0h1m39 0h1m12 0h1m-80 1h1m5 0h1m6 0h1m7 0h1m2 0h1m7 0h1m14 0h1m10 0h1m1 0h1m1 0h1m3 0h1m1 0h1m4 0h1m1 0h1m-74 1h1m1 0h1m4 0h1m9 0h1m3 0h1m23 0h1m8 0h1m23 0h1m-69 1h1m1 0h1m6 0h1m13 0h1m19 0h1m4 0h1m2 0h1m1 0h2m2 0h1m-69 1h1m2 0h1m5 0h1m8 0h1m3 0h1m37 0h1m-57 1h1m16 0h1m9 0h1m5 0h1m4 0h1m12 0h1m1 0h2m4 0h1m1 0h1m9 0h1m-56 1h1m3 0h2m11 0h1m17 0h1m6 0h1m4 0h1m8 0h1m-76 1h1m2 0h1m13 0h1m3 0h1m14 0h1m21 0h1m4 0h2m3 0h1m2 0h1m5 0h1m-53 1h1m11 0h1m15 0h1m1 0h1m2 0h1m3 0h1m2 0h1m1 0h1m5 0h1m-74 1h2m5 0h1m8 0h1m2 0h1m5 0h1m27 0h1m18 0h1m2 0h1m-76 1h1m21 0h1m5 0h1m36 0h1m2 0h1m-67 1h1m3 0h2m13 0h1m10 0h1m28 0h1m1 0h1m-64 1h1m20 0h1m18 0h1m4 0h1m17 0h1m2 0h2m5 0h1m-75 1h1m3 0h1m3 0h1m15 0h1m4 0h1m1 0h1m4 0h2m1 0h1m21 0h1m4 0h1m5 0h1m-61 1h1m1 0h1m1 0h1m2 0h1m36 0h2m2 0h1m9 0h1m-71 1h2m1 0h1m1 0h1m11 0h1m1 0h1m5 0h1m1 0h1m21 0h1m39 0h1m2 0h1m-88 1h1m1 0h1m3 0h1m2 0h1m4 0h1m2 0h1m9 0h1m15 0h1m10 0h1m4 0h1m3 0h1m8 0h1m-73 1h1m3 0h1m18 0h2m2 0h1m24 0h1m8 0h1m17 0h1m-73 1h1m8 0h2m3 0h1m30 0h1m5 0h1m-65 1h1m5 0h1m2 0h2m13 0h1m3 0h1m-25 1h1m12 0h1m2 0h1m1 0h1m-19 1h1m5 0h1m4 0h1m61 0h1m-78 1h1m1 0h1m9 0h1m5 0h1m1 0h1m6 0h1m-23 1h1m10 0h1m-12 1h1m8 0h1m4 0h1m3 0h1m45 0h1m-68 1h1m18 0h1m1 0h2m33 0h1m4 0h1m-58 1h1m5 0h2m2 0h1m1 0h1m2 0h1m17 0h1m-32 1h1m1 0h1m9 0h1m2 0h1m-8 1h1m14 0h1m20 0h1m-51 1h1m11 0h1m1 0h1m4 0h1m1 1h1m-20 1h1m12 0h1m52 0h1m-68 1h1m4 0h1m5 0h1m15 0h1m-25 1h1m2 0h1m49 1h1m-51 3h1m3 1h1m-13 1h1m15 1h1m-16 1h1m4 0h2m4 0h1m7 0h1m-5 1h1m26 0h1m-38 1h1m20 2h1" stroke="#008000" stroke-width="1" fill="none" shape-rendering="crispEdges" opacity="0.68"/>
<path d="M1085 848.5h1m-6 8h2m-1 1h1m0 1h1m6 0h1m-7 1h1m2 0h1m3 0h1m4 0h1m-2 1h1m1 0h1m-12 1h1m2 0h2m-4 1h3m-3 1h1m-8 1h1m5 0h1m-4 1h3m-2 1h3m2 0h1m-6 1h5m-4 1h1m2 0h1m6 0h2m-13 1h1m2 0h2m1 0h1m4 0h2m-16 1h1m1 0h1m1 0h1m2 0h1m3 0h1m1 0h2m-16 1h1m3 0h5m2 0h1m1 0h1m-14 1h1m6 0h3m1 0h3m-13 1h2m2 0h4m1 0h2m1 0h2m-15 1h1m1 0h3m1 0h1m1 0h1m1 0h1m3 0h1m-17 1h1m1 0h2m3 0h5m1 0h2m-16 1h2m1 0h2m2 0h2m1 0h2m1 0h2m-13 1h1m1 0h1m2 0h3m2 0h1m6 0h1m-13 1h2m3 0h4m3 0h2m-20 1h1m3 0h7m1 0h1m1 0h1m-12 1h1m1 0h1m1 0h1m1 0h5m1 0h1m-12 1h1m2 0h2m1 0h3m1 0h3m-14 1h5m1 0h5m1 0h2m-17 1h4m1 0h2m2 0h3m2 0h1m-15 1h2m1 0h1m2 0h3m1 0h4m1 0h1m-16 1h1m5 0h5m1 0h1m2 0h1m3 0h1m-20 1h1m6 0h1m1 0h1m1 0h2m6 0h2m-21 1h2m3 0h4m4 0h1m6 0h1m-20 1h1m2 0h3m1 0h6m-12 1h1m2 0h2m2 0h1m1 0h2m-12 1h1m1 0h5m2 0h3m-13 1h1m1 0h1m3 0h1m1 0h4m-11 1h1m3 0h1m1 0h3m1 0h1m-10 1h1m1 0h2m1 0h2m2 0h2m-12 1h4m2 0h1m2 0h4m-12 1h2m3 0h2m2 0h1m-5 1h2m2 0h1m-6 1h1m3 0h1m-11 2h2m1 0h1m-6 1h2m1 0h3m2 0h1m3 0h2m4 0h1m-24 1h1m5 0h1m1 0h1m2 0h1m4 0h1m1 0h1m3 0h2m-14 1h2m4 0h2m-8 1h2m3 1h1m-10 1h1m-1 2h1m7 3h1m-2 1h1m0 1h1m0 2h2m-3 1h1m-19 6h1m1 3h2m-1 1h1" stroke="#ff0000" stroke-width="1" fill="none" shape-rendering="crispEdges"/>
<path d="M1075 823.5h1m11 4h1m22 1h1m-26 2h1m19 1h1m-25 1h1m18 2h1m-6 1h1m1 0h1m-6 1h1m-8 1h1m10 0h1m-21 1h1m10 2h1m-2 2h1m-2 3h1m12 0h1m8 0h1m-14 1h1m-10 1h1m3 0h1m-6 2h2m2 0h1m6 0h1m-8 1h1m-10 1h1m8 0h1m2 0h1m1 0h1m1 0h1m2 0h1m1 0h1m-18 1h1m5 0h1m2 0h1m-24 1h1m15 0h1m12 0h1m-6 1h1m4 0h1m-22 1h1m3 0h1m6 0h1m1 0h1m4 0h1m-26 1h1m12 0h1m11 0h2m-18 1h1m6 0h1m3 0h1m2 0h1m-16 1h1m4 0h1m1 0h1m10 0h1m-27 1h1m16 0h1m1 0h1m1 0h3m-17 1h1m5 0h1m1 0h1m19 0h1m-11 1h1m1 0h1m-18 1h1m3 0h1m5 0h4m4 0h1m-22 1h1m1 0h1m4 0h1m9 0h2m3 0h1m11 1h1m-35 1h2m1 0h2m5 0h1m5 0h2m17 0h1m-24 1h1m1 0h1m5 0h1m13 0h1m-18 1h1m4 0h1m-23 1h1m11 0h2m5 0h1m-20 1h1m3 0h1m10 0h1m6 0h1m8 0h1m-41 1h1m10 0h1m9 0h1m8 0h1m2 0h1m-32 1h1m23 0h1m6 0h1m-27 1h1m2 0h1m18 0h1m-22 1h1m-8 1h1m7 0h1m24 0h1m-11 1h1m2 0h1m3 0h1m-31 1h1m12 0h1m13 0h1m-26 1h1m3 0h1m16 0h1m6 0h1m-27 1h1m4 0h1m1 0h1m21 0h1m-30 1h1m22 0h1m1 0h1m4 0h1m2 0h1m-45 1h1m13 0h1m1 0h2m-7 1h1m21 0h1m5 0h1m-39 1h1m31 1h1m5 0h1m3 1h1m-46 1h1m4 0h2m5 0h1m1 0h2m5 0h1m11 0h1m1 0h1m-24 1h1m1 0h1m5 0h1m10 0h1m6 0h1m-32 1h3m6 0h1m18 0h1m-24 1h1m19 0h1m2 0h1m2 0h1m-36 1h1m6 0h1m1 0h1m23 0h1m2 0h1m-23 1h1m12 0h1m6 0h1m-25 1h1m18 0h2m4 0h1m3 0h1m8 0h1m-16 1h1m-26 1h1m5 0h1m13 0h1m2 0h1m-24 1h1m2 0h1m19 0h1m7 0h1m2 0h1m-44 1h1m14 0h1m14 0h1m2 0h1m-29 1h1m1 0h1m7 0h1m4 0h1m12 0h1m-24 1h1m5 0h1m7 0h1m1 0h1m11 0h1m4 0h1m-39 1h1m4 0h1m1 0h2m4 0h1m3 0h1m8 0h2m3 0h1m-36 1h1m4 0h1m3 0h1m9 0h1m1 0h1m3 0h1m1 0h1m-17 1h1m11 0h1m4 0h1m4 0h1m-28 1h1m1 0h1m12 0h1m9 0h1m8 0h1m-35 1h1m7 0h1m11 0h1m8 0h2m-15 1h1m-17 1h1m2 0h1m1 0h2m1 0h1m9 0h1m2 0h1m-19 1h1m5 0h1m5 0h2m-23 1h1m12 0h1m4 0h1m6 0h2m19 0h1m-44 1h1m1 0h1m9 0h1m4 0h1m3 0h1m-22 1h1m2 0h1m3 0h1m1 0h2m15 0h1m-29 1h1m19 0h2m1 0h1m2 0h1m-24 1h1m3 0h1m2 0h1m5 0h2m5 0h1m-23 1h1m2 0h1m4 0h1m7 0h1m7 0h1m4 0h1m-27 1h1m14 0h1m1 0h1m3 0h1m7 0h2m-30 1h1m2 0h1m3 0h1m1 0h1m13 0h1m-28 1h1m18 0h1m2 0h1m13 0h1m-40 1h1m1 0h1m4 0h1m11 0h1m5 0h1m8 0h1m-29 1h1m4 0h1m9 0h1m-16 1h1m14 0h1m5 0h1m-23 1h1m8 0h1m1 0h2m5 0h1m9 0h1m-43 1h1m27 0h1m7 0h1m-25 1h1m1 0h1m2 0h1m-9 1h1m2 0h1m9 0h2m11 0h1m-32 1h1m14 0h1m4 0h1m-14 1h1m2 0h1m2 0h1m1 0h1m2 0h1m8 0h1m-18 1h1m7 0h1m4 0h2m6 0h1m-19 1h1m6 0h2m-15 1h1m14 1h1m-16 1h1m1 0h2m9 0h1m3 0h1m-14 2h1m7 0h1m3 0h1m-21 1h1m3 0h1m7 0h1m1 0h1m3 0h2m-14 1h1m-6 1h1m9 0h1m-9 1h1m2 1h2m3 0h1m16 0h1m-37 1h1m9 0h1m7 0h1m6 0h1m24 0h1m-36 2h1m4 1h1m24 0h1" stroke="#ff0000" stroke-width="1" fill="none" shape-rendering="crispEdges" opacity="0.72"/>
<path d="M980.7 810.0V1016.5H1172.8M980.7 811.0h-3.3M980.7 846.9h-3.1M980.7 837.9h-3.1M980.7 831.4h-3.1M980.7 826.5h-3.1M980.7 822.4h-3.1M980.7 819.0h-3.1M980.7 816.0h-3.1M980.7 813.4h-3.1M980.7 862.4h-3.3M980.7 898.3h-3.1M980.7 889.2h-3.1M980.7 882.8h-3.1M980.7 877.8h-3.1M980.7 873.8h-3.1M980.7 870.3h-3.1M980.7 867.4h-3.1M980.7 864.7h-3.1M980.7 913.8h-3.3M980.7 949.7h-3.1M980.7 940.6h-3.1M980.7 934.2h-3.1M980.7 929.2h-3.1M980.7 925.1h-3.1M980.7 921.7h-3.1M980.7 918.7h-3.1M980.7 916.1h-3.1M980.7 965.1h-3.3M980.7 1001.0h-3.1M980.7 992.0h-3.1M980.7 985.6h-3.1M980.7 980.6h-3.1M980.7 976.5h-3.1M980.7 973.1h-3.1M980.7 970.1h-3.1M980.7 967.5h-3.1M980.7 1016.5h-3.3M980.7 1016.5v3.3M995.1 1016.5v3.0M1003.6 1016.5v3.0M1009.5 1016.5v3.0M1014.2 1016.5v3.0M1018.0 1016.5v3.0M1021.2 1016.5v3.0M1024.0 1016.5v3.0M1026.4 1016.5v3.0M1028.6 1016.5v3.3M1043.0 1016.5v3.0M1051.5 1016.5v3.0M1057.4 1016.5v3.0M1062.1 1016.5v3.0M1065.9 1016.5v3.0M1069.1 1016.5v3.0M1071.9 1016.5v3.0M1074.3 1016.5v3.0M1076.5 1016.5v3.3M1090.9 1016.5v3.0M1099.4 1016.5v3.0M1105.3 1016.5v3.0M1110.0 1016.5v3.0M1113.8 1016.5v3.0M1117.0 1016.5v3.0M1119.8 1016.5v3.0M1122.2 1016.5v3.0M1124.4 1016.5v3.3M1138.8 1016.5v3.0M1147.3 1016.5v3.0M1153.2 1016.5v3.0M1157.9 1016.5v3.0M1161.7 1016.5v3.0M1164.9 1016.5v3.0M1167.7 1016.5v3.0M1170.1 1016.5v3.0M1172.3 1016.5v3.3" stroke="#1e1e1e" stroke-width="1" fill="none" shape-rendering="crispEdges"/>
<rect x="1048.6" y="817.8" width="68.7" height="121.7" fill="none" stroke="#4646ff" stroke-width="1.3"/>
<text x="949.3" y="820.8" font-size="18">10<tspan font-size="11.4" dy="-4.3" dx="-.8">5</tspan></text>
<text x="949.3" y="868.2" font-size="18">10<tspan font-size="11.4" dy="-4.3" dx="-.8">4</tspan></text>
<text x="949.3" y="918.8" font-size="18">10<tspan font-size="11.4" dy="-4.3" dx="-.8">3</tspan></text>
<text x="949.3" y="971.8" font-size="18">10<tspan font-size="11.4" dy="-4.3" dx="-.8">2</tspan></text>
<text x="949.3" y="1019.8" font-size="18">10<tspan font-size="11.4" dy="-4.3" dx="-.8">1</tspan></text>
<text x="1007.6" y="1040.0" font-size="18">10<tspan font-size="11.4" dy="-4.3" dx="-.8">2</tspan></text>
<text x="1057.4" y="1040.0" font-size="18">10<tspan font-size="11.4" dy="-4.3" dx="-.8">3</tspan></text>
<text x="1108.1" y="1040.0" font-size="18">10<tspan font-size="11.4" dy="-4.3" dx="-.8">4</tspan></text>
<text x="1154.5" y="1040.0" font-size="18">10<tspan font-size="11.4" dy="-4.3" dx="-.8">5</tspan></text>
<text x="1043.5" y="810.3" font-size="18.6" textLength="75.9" lengthAdjust="spacingAndGlyphs">96-118hpi</text>
<text transform="translate(16.3 625.3) rotate(-90)" font-size="20.9" textLength="95" lengthAdjust="spacing">TdTomato</text>
<text transform="translate(16.3 958.6) rotate(-90)" font-size="20.9" textLength="95" lengthAdjust="spacing">TdTomato</text>
<text x="578.8" y="742.3" font-size="21.2" textLength="80.4" lengthAdjust="spacing">SYTO11</text>
<text x="584.2" y="1081.2" font-size="21.2" textLength="80.4" lengthAdjust="spacing">SYTO11</text>
<rect x="107.9" y="1450.7" width="23.8" height="6.3" fill="#ff0000" rx="1.2"/>
<path d="M119.8 1453.2V1449.2M114.3 1449.2h11.0" stroke="#000" stroke-width="1.2" fill="none"/>
<rect x="137.9" y="1421.2" width="23.8" height="35.8" fill="#ff0000" rx="1.2"/>
<path d="M149.8 1423.7V1408.0M144.3 1408.0h11.0" stroke="#000" stroke-width="1.2" fill="none"/>
<rect x="167.6" y="1417.6" width="23.8" height="39.4" fill="#ff0000" rx="1.2"/>
<path d="M179.5 1420.1V1402.1M174.0 1402.1h11.0" stroke="#000" stroke-width="1.2" fill="none"/>
<rect x="197.5" y="1417.6" width="23.8" height="39.4" fill="#ff0000" rx="1.2"/>
<path d="M209.4 1420.1V1404.7M203.9 1404.7h11.0" stroke="#000" stroke-width="1.2" fill="none"/>
<rect x="227.4" y="1410.2" width="23.8" height="46.8" fill="#ff0000" rx="1.2"/>
<path d="M239.3 1412.7V1392.5M233.8 1392.5h11.0" stroke="#000" stroke-width="1.2" fill="none"/>
<rect x="257.4" y="1416.8" width="23.8" height="40.2" fill="#ff0000" rx="1.2"/>
<path d="M269.3 1419.3V1403.6M263.8 1403.6h11.0" stroke="#000" stroke-width="1.2" fill="none"/>
<rect x="287.3" y="1425.3" width="23.8" height="31.7" fill="#ff0000" rx="1.2"/>
<path d="M299.2 1427.8V1410.9M293.7 1410.9h11.0" stroke="#000" stroke-width="1.2" fill="none"/>
<rect x="337.0" y="1451.0" width="23.8" height="6.0" fill="#9e0000" rx="1.2"/>
<path d="M348.9 1453.5V1450.3M343.4 1450.3h11.0" stroke="#000" stroke-width="1.2" fill="none"/>
<rect x="366.9" y="1211.8" width="23.8" height="245.2" fill="#9e0000" rx="1.2"/>
<path d="M378.8 1214.3V1192.0M373.3 1192.0h11.0" stroke="#000" stroke-width="1.2" fill="none"/>
<rect x="396.7" y="1192.3" width="23.8" height="264.7" fill="#9e0000" rx="1.2"/>
<path d="M408.6 1194.8V1169.5M403.1 1169.5h11.0" stroke="#000" stroke-width="1.2" fill="none"/>
<rect x="426.5" y="1185.3" width="23.8" height="271.7" fill="#9e0000" rx="1.2"/>
<path d="M438.4 1187.8V1159.9M432.9 1159.9h11.0" stroke="#000" stroke-width="1.2" fill="none"/>
<rect x="456.3" y="1197.1" width="23.8" height="259.9" fill="#9e0000" rx="1.2"/>
<path d="M468.2 1199.6V1171.3M462.7 1171.3h11.0" stroke="#000" stroke-width="1.2" fill="none"/>
<rect x="486.3" y="1200.4" width="23.8" height="256.6" fill="#9e0000" rx="1.2"/>
<path d="M498.2 1202.9V1176.5M492.7 1176.5h11.0" stroke="#000" stroke-width="1.2" fill="none"/>
<rect x="516.1" y="1187.5" width="23.8" height="269.5" fill="#9e0000" rx="1.2"/>
<path d="M528.0 1190.0V1161.8M522.5 1161.8h11.0" stroke="#000" stroke-width="1.2" fill="none"/>
<line x1="95.7" y1="1143.9" x2="95.7" y2="1458.4" stroke="#000" stroke-width="2.9"/>
<line x1="86.5" y1="1457.0" x2="554.7" y2="1457.0" stroke="#000" stroke-width="2.8"/>
<line x1="86.2" y1="1457.0" x2="95.7" y2="1457.0" stroke="#000" stroke-width="2.6"/>
<text x="73.4" y="1461.5" font-size="21.2" text-anchor="end">0</text>
<line x1="86.2" y1="1412.5" x2="95.7" y2="1412.5" stroke="#000" stroke-width="2.6"/>
<text x="73.4" y="1418.6" font-size="21.2" text-anchor="end">10</text>
<line x1="86.2" y1="1367.9" x2="95.7" y2="1367.9" stroke="#000" stroke-width="2.6"/>
<text x="73.4" y="1374.3" font-size="21.2" text-anchor="end">20</text>
<line x1="86.2" y1="1323.4" x2="95.7" y2="1323.4" stroke="#000" stroke-width="2.6"/>
<text x="71.4" y="1330.4" font-size="21.2" text-anchor="end">30</text>
<line x1="86.2" y1="1278.8" x2="95.7" y2="1278.8" stroke="#000" stroke-width="2.6"/>
<text x="71.4" y="1286.6" font-size="21.2" text-anchor="end">40</text>
<line x1="86.2" y1="1234.3" x2="95.7" y2="1234.3" stroke="#000" stroke-width="2.6"/>
<text x="71.4" y="1242.0" font-size="21.2" text-anchor="end">50</text>
<line x1="86.2" y1="1189.7" x2="95.7" y2="1189.7" stroke="#000" stroke-width="2.6"/>
<text x="71.4" y="1197.6" font-size="21.2" text-anchor="end">60</text>
<line x1="86.2" y1="1145.2" x2="95.7" y2="1145.2" stroke="#000" stroke-width="2.6"/>
<text x="71.4" y="1154.3" font-size="21.2" text-anchor="end">70</text>
<line x1="119.8" y1="1457.0" x2="119.8" y2="1466.0" stroke="#000" stroke-width="2.9"/>
<text transform="translate(119.8 1485.5) rotate(-52)" font-size="21" text-anchor="end">0-5</text>
<line x1="149.8" y1="1457.0" x2="149.8" y2="1466.0" stroke="#000" stroke-width="2.9"/>
<text transform="translate(156.8 1483.5) rotate(-52)" font-size="21" text-anchor="end">10-15</text>
<line x1="179.5" y1="1457.0" x2="179.5" y2="1466.0" stroke="#000" stroke-width="2.9"/>
<text transform="translate(186.5 1483.5) rotate(-52)" font-size="21" text-anchor="end">20-25</text>
<line x1="209.4" y1="1457.0" x2="209.4" y2="1466.0" stroke="#000" stroke-width="2.9"/>
<text transform="translate(216.4 1483.5) rotate(-52)" font-size="21" text-anchor="end">30-35</text>
<line x1="239.3" y1="1457.0" x2="239.3" y2="1466.0" stroke="#000" stroke-width="2.9"/>
<text transform="translate(246.3 1483.5) rotate(-52)" font-size="21" text-anchor="end">48-53</text>
<line x1="269.3" y1="1457.0" x2="269.3" y2="1466.0" stroke="#000" stroke-width="2.9"/>
<text transform="translate(276.3 1483.5) rotate(-52)" font-size="21" text-anchor="end">72-77</text>
<line x1="299.2" y1="1457.0" x2="299.2" y2="1466.0" stroke="#000" stroke-width="2.9"/>
<text transform="translate(306.2 1483.5) rotate(-52)" font-size="21" text-anchor="end">96-101</text>
<line x1="348.9" y1="1457.0" x2="348.9" y2="1466.0" stroke="#000" stroke-width="2.9"/>
<text transform="translate(348.9 1485.5) rotate(-52)" font-size="21" text-anchor="end">0-5</text>
<line x1="378.8" y1="1457.0" x2="378.8" y2="1466.0" stroke="#000" stroke-width="2.9"/>
<text transform="translate(385.8 1483.5) rotate(-52)" font-size="21" text-anchor="end">10-15</text>
<line x1="408.6" y1="1457.0" x2="408.6" y2="1466.0" stroke="#000" stroke-width="2.9"/>
<text transform="translate(415.6 1483.5) rotate(-52)" font-size="21" text-anchor="end">20-25</text>
<line x1="438.4" y1="1457.0" x2="438.4" y2="1466.0" stroke="#000" stroke-width="2.9"/>
<text transform="translate(445.4 1483.5) rotate(-52)" font-size="21" text-anchor="end">30-35</text>
<line x1="468.2" y1="1457.0" x2="468.2" y2="1466.0" stroke="#000" stroke-width="2.9"/>
<text transform="translate(475.2 1483.5) rotate(-52)" font-size="21" text-anchor="end">48-53</text>
<line x1="498.2" y1="1457.0" x2="498.2" y2="1466.0" stroke="#000" stroke-width="2.9"/>
<text transform="translate(505.2 1483.5) rotate(-52)" font-size="21" text-anchor="end">72-77</text>
<line x1="528.0" y1="1457.0" x2="528.0" y2="1466.0" stroke="#000" stroke-width="2.9"/>
<text transform="translate(535.0 1483.5) rotate(-52)" font-size="21" text-anchor="end">96-101</text>
<text x="242.1" y="1128.6" font-size="21" font-style="italic" textLength="173.7" lengthAdjust="spacing">NF54-gexp02-Tom</text>
<text transform="translate(25.0 1361.2) rotate(-90)" font-size="21.2" textLength="148.5" lengthAdjust="spacing">Conversion (%)</text>
<text x="166.7" y="1554.5" font-size="21.2" textLength="87.1" lengthAdjust="spacing">Age (hpi)</text>
<text x="397.8" y="1554.5" font-size="21.2" textLength="86.8" lengthAdjust="spacing">Age (hpi)</text>
<line x1="114.5" y1="1571.4" x2="310.3" y2="1571.4" stroke="#000" stroke-width="2.6"/>
<line x1="335.0" y1="1571.4" x2="530.7" y2="1571.4" stroke="#000" stroke-width="2.6"/>
<text x="161.2" y="1597.2" font-size="21.2" textLength="90.7" lengthAdjust="spacing">+ Choline</text>
<text x="389.2" y="1597.2" font-size="21.2" textLength="86.1" lengthAdjust="spacing">- Choline</text>
<rect x="670.6" y="1451.4" width="24.0" height="5.6" fill="#ff0000" rx="1.2"/>
<path d="M682.6 1453.9V1450.7M677.1 1450.7h11.0" stroke="#000" stroke-width="1.2" fill="none"/>
<rect x="701.2" y="1419.8" width="24.0" height="37.2" fill="#ff0000" rx="1.2"/>
<path d="M713.2 1422.3V1403.6M707.7 1403.6h11.0" stroke="#000" stroke-width="1.2" fill="none"/>
<rect x="731.6" y="1414.3" width="24.0" height="42.7" fill="#ff0000" rx="1.2"/>
<path d="M743.6 1416.8V1396.6M738.1 1396.6h11.0" stroke="#000" stroke-width="1.2" fill="none"/>
<rect x="762.1" y="1413.5" width="24.0" height="43.5" fill="#ff0000" rx="1.2"/>
<path d="M774.1 1416.0V1401.0M768.6 1401.0h11.0" stroke="#000" stroke-width="1.2" fill="none"/>
<rect x="792.7" y="1409.8" width="24.0" height="47.2" fill="#ff0000" rx="1.2"/>
<path d="M804.7 1412.3V1394.7M799.2 1394.7h11.0" stroke="#000" stroke-width="1.2" fill="none"/>
<rect x="823.0" y="1409.8" width="24.0" height="47.2" fill="#ff0000" rx="1.2"/>
<path d="M835.0 1412.3V1394.7M829.5 1394.7h11.0" stroke="#000" stroke-width="1.2" fill="none"/>
<rect x="853.4" y="1416.5" width="24.0" height="40.5" fill="#ff0000" rx="1.2"/>
<path d="M865.4 1419.0V1405.8M859.9 1405.8h11.0" stroke="#000" stroke-width="1.2" fill="none"/>
<rect x="904.2" y="1445.5" width="24.0" height="11.5" fill="#9e0000" rx="1.2"/>
<path d="M916.2 1448.0V1443.7M910.7 1443.7h11.0" stroke="#000" stroke-width="1.2" fill="none"/>
<rect x="934.8" y="1196.0" width="24.0" height="261.0" fill="#9e0000" rx="1.2"/>
<path d="M946.8 1198.5V1168.8M941.3 1168.8h11.0" stroke="#000" stroke-width="1.2" fill="none"/>
<rect x="965.3" y="1185.7" width="24.0" height="271.3" fill="#9e0000" rx="1.2"/>
<path d="M977.3 1188.2V1157.0M971.8 1157.0h11.0" stroke="#000" stroke-width="1.2" fill="none"/>
<rect x="995.9" y="1185.7" width="24.0" height="271.3" fill="#9e0000" rx="1.2"/>
<path d="M1007.9 1188.2V1157.4M1002.4 1157.4h11.0" stroke="#000" stroke-width="1.2" fill="none"/>
<rect x="1026.0" y="1181.3" width="24.0" height="275.7" fill="#9e0000" rx="1.2"/>
<path d="M1038.0 1183.8V1158.5M1032.5 1158.5h11.0" stroke="#000" stroke-width="1.2" fill="none"/>
<rect x="1056.6" y="1178.0" width="24.0" height="279.0" fill="#9e0000" rx="1.2"/>
<path d="M1068.6 1180.5V1154.0M1063.1 1154.0h11.0" stroke="#000" stroke-width="1.2" fill="none"/>
<rect x="1087.1" y="1185.3" width="24.0" height="271.7" fill="#9e0000" rx="1.2"/>
<path d="M1099.1 1187.8V1168.0M1093.6 1168.0h11.0" stroke="#000" stroke-width="1.2" fill="none"/>
<line x1="657.7" y1="1136.5" x2="657.7" y2="1458.4" stroke="#000" stroke-width="2.9"/>
<line x1="649.2" y1="1457.0" x2="1125.8" y2="1457.0" stroke="#000" stroke-width="2.8"/>
<line x1="648.2" y1="1457.0" x2="657.7" y2="1457.0" stroke="#000" stroke-width="2.6"/>
<text x="639.9" y="1461.9" font-size="21.2" text-anchor="end">0</text>
<line x1="648.2" y1="1377.2" x2="657.7" y2="1377.2" stroke="#000" stroke-width="2.6"/>
<text x="635.0" y="1381.6" font-size="21.2" text-anchor="end">5</text>
<line x1="648.2" y1="1297.4" x2="657.7" y2="1297.4" stroke="#000" stroke-width="2.6"/>
<text x="634.7" y="1300.1" font-size="21.2" text-anchor="end">10</text>
<line x1="648.2" y1="1217.6" x2="657.7" y2="1217.6" stroke="#000" stroke-width="2.6"/>
<text x="634.7" y="1224.2" font-size="21.2" text-anchor="end">15</text>
<line x1="648.2" y1="1137.8" x2="657.7" y2="1137.8" stroke="#000" stroke-width="2.6"/>
<text x="635.9" y="1143.4" font-size="21.2" text-anchor="end">20</text>
<line x1="682.6" y1="1457.0" x2="682.6" y2="1466.0" stroke="#000" stroke-width="2.9"/>
<text transform="translate(682.6 1485.5) rotate(-52)" font-size="21" text-anchor="end">0-5</text>
<line x1="713.2" y1="1457.0" x2="713.2" y2="1466.0" stroke="#000" stroke-width="2.9"/>
<text transform="translate(720.2 1483.5) rotate(-52)" font-size="21" text-anchor="end">10-15</text>
<line x1="743.6" y1="1457.0" x2="743.6" y2="1466.0" stroke="#000" stroke-width="2.9"/>
<text transform="translate(750.6 1483.5) rotate(-52)" font-size="21" text-anchor="end">20-25</text>
<line x1="774.1" y1="1457.0" x2="774.1" y2="1466.0" stroke="#000" stroke-width="2.9"/>
<text transform="translate(781.1 1483.5) rotate(-52)" font-size="21" text-anchor="end">30-35</text>
<line x1="804.7" y1="1457.0" x2="804.7" y2="1466.0" stroke="#000" stroke-width="2.9"/>
<text transform="translate(811.7 1483.5) rotate(-52)" font-size="21" text-anchor="end">48-53</text>
<line x1="835.0" y1="1457.0" x2="835.0" y2="1466.0" stroke="#000" stroke-width="2.9"/>
<text transform="translate(842.0 1483.5) rotate(-52)" font-size="21" text-anchor="end">72-77</text>
<line x1="865.4" y1="1457.0" x2="865.4" y2="1466.0" stroke="#000" stroke-width="2.9"/>
<text transform="translate(872.4 1483.5) rotate(-52)" font-size="21" text-anchor="end">96-101</text>
<line x1="916.2" y1="1457.0" x2="916.2" y2="1466.0" stroke="#000" stroke-width="2.9"/>
<text transform="translate(916.2 1485.5) rotate(-52)" font-size="21" text-anchor="end">0-5</text>
<line x1="946.8" y1="1457.0" x2="946.8" y2="1466.0" stroke="#000" stroke-width="2.9"/>
<text transform="translate(953.8 1483.5) rotate(-52)" font-size="21" text-anchor="end">10-15</text>
<line x1="977.3" y1="1457.0" x2="977.3" y2="1466.0" stroke="#000" stroke-width="2.9"/>
<text transform="translate(984.3 1483.5) rotate(-52)" font-size="21" text-anchor="end">20-25</text>
<line x1="1007.9" y1="1457.0" x2="1007.9" y2="1466.0" stroke="#000" stroke-width="2.9"/>
<text transform="translate(1014.9 1483.5) rotate(-52)" font-size="21" text-anchor="end">30-35</text>
<line x1="1038.0" y1="1457.0" x2="1038.0" y2="1466.0" stroke="#000" stroke-width="2.9"/>
<text transform="translate(1045.0 1483.5) rotate(-52)" font-size="21" text-anchor="end">48-53</text>
<line x1="1068.6" y1="1457.0" x2="1068.6" y2="1466.0" stroke="#000" stroke-width="2.9"/>
<text transform="translate(1075.6 1483.5) rotate(-52)" font-size="21" text-anchor="end">72-77</text>
<line x1="1099.1" y1="1457.0" x2="1099.1" y2="1466.0" stroke="#000" stroke-width="2.9"/>
<text transform="translate(1106.1 1483.5) rotate(-52)" font-size="21" text-anchor="end">96-101</text>
<text x="830.6" y="1126.8" font-size="21" font-style="italic" textLength="150.0" lengthAdjust="spacing">E5-gexp02-Tom</text>
<text x="731.9" y="1553.7" font-size="21.2" textLength="87.2" lengthAdjust="spacing">Age (hpi)</text>
<text x="963.1" y="1553.7" font-size="21.2" textLength="87.5" lengthAdjust="spacing">Age (hpi)</text>
<line x1="675.3" y1="1571.4" x2="871.1" y2="1571.4" stroke="#000" stroke-width="2.6"/>
<line x1="919.0" y1="1571.4" x2="1114.8" y2="1571.4" stroke="#000" stroke-width="2.6"/>
<text x="725.7" y="1597.2" font-size="21.2" textLength="90.7" lengthAdjust="spacing">+ Choline</text>
<text x="962.0" y="1597.2" font-size="21.2" textLength="86.1" lengthAdjust="spacing">- Choline</text>
<rect x="115.3" y="1963.6" width="30.0" height="2.8" fill="#ff0000" rx="1.2"/>
<rect x="154.9" y="1961.0" width="30.0" height="5.4" fill="#ff0000" rx="1.2"/>
<path d="M169.9 1963.5V1960.3M164.4 1960.3h11.0" stroke="#000" stroke-width="1.2" fill="none"/>
<rect x="194.6" y="1896.7" width="30.0" height="69.7" fill="#ff0000" rx="1.2"/>
<path d="M209.6 1899.2V1889.7M204.1 1889.7h11.0" stroke="#000" stroke-width="1.2" fill="none"/>
<rect x="234.4" y="1876.0" width="30.0" height="90.4" fill="#ff0000" rx="1.2"/>
<path d="M249.4 1878.5V1859.1M243.9 1859.1h11.0" stroke="#000" stroke-width="1.2" fill="none"/>
<rect x="274.1" y="1877.5" width="30.0" height="88.9" fill="#ff0000" rx="1.2"/>
<path d="M289.1 1880.0V1854.3M283.6 1854.3h11.0" stroke="#000" stroke-width="1.2" fill="none"/>
<rect x="341.1" y="1963.6" width="30.0" height="2.8" fill="#9e0000" rx="1.2"/>
<rect x="380.8" y="1960.7" width="30.0" height="5.7" fill="#9e0000" rx="1.2"/>
<path d="M395.8 1963.2V1960.0M390.3 1960.0h11.0" stroke="#000" stroke-width="1.2" fill="none"/>
<rect x="420.6" y="1884.5" width="30.0" height="81.9" fill="#9e0000" rx="1.2"/>
<path d="M435.6 1887.0V1879.4M430.1 1879.4h11.0" stroke="#000" stroke-width="1.2" fill="none"/>
<rect x="460.3" y="1770.0" width="30.0" height="196.4" fill="#9e0000" rx="1.2"/>
<path d="M475.3 1772.5V1749.4M469.8 1749.4h11.0" stroke="#000" stroke-width="1.2" fill="none"/>
<rect x="499.9" y="1780.7" width="30.0" height="185.7" fill="#9e0000" rx="1.2"/>
<path d="M514.9 1783.2V1760.8M509.4 1760.8h11.0" stroke="#000" stroke-width="1.2" fill="none"/>
<line x1="98.2" y1="1657.0" x2="98.2" y2="1967.8" stroke="#000" stroke-width="2.9"/>
<line x1="90.3" y1="1966.4" x2="552.0" y2="1966.4" stroke="#000" stroke-width="2.8"/>
<line x1="90.3" y1="1966.4" x2="98.2" y2="1966.4" stroke="#000" stroke-width="2.6"/>
<text x="78.0" y="1970.4" font-size="21.2" text-anchor="end">0</text>
<line x1="90.3" y1="1922.4" x2="98.2" y2="1922.4" stroke="#000" stroke-width="2.6"/>
<text x="78.0" y="1926.6" font-size="21.2" text-anchor="end">10</text>
<line x1="90.3" y1="1878.4" x2="98.2" y2="1878.4" stroke="#000" stroke-width="2.6"/>
<text x="78.0" y="1882.7" font-size="21.2" text-anchor="end">20</text>
<line x1="90.3" y1="1834.4" x2="98.2" y2="1834.4" stroke="#000" stroke-width="2.6"/>
<text x="75.9" y="1838.4" font-size="21.2" text-anchor="end">30</text>
<line x1="90.3" y1="1790.3" x2="98.2" y2="1790.3" stroke="#000" stroke-width="2.6"/>
<text x="75.9" y="1794.4" font-size="21.2" text-anchor="end">40</text>
<line x1="90.3" y1="1746.3" x2="98.2" y2="1746.3" stroke="#000" stroke-width="2.6"/>
<text x="75.9" y="1749.9" font-size="21.2" text-anchor="end">50</text>
<line x1="90.3" y1="1702.3" x2="98.2" y2="1702.3" stroke="#000" stroke-width="2.6"/>
<text x="75.9" y="1705.9" font-size="21.2" text-anchor="end">60</text>
<line x1="90.3" y1="1658.3" x2="98.2" y2="1658.3" stroke="#000" stroke-width="2.6"/>
<text x="75.9" y="1662.6" font-size="21.2" text-anchor="end">70</text>
<line x1="130.3" y1="1966.4" x2="130.3" y2="1975.4" stroke="#000" stroke-width="2.9"/>
<text transform="translate(134.8 1996.4) rotate(-52)" font-size="21" text-anchor="end">0-22</text>
<line x1="169.9" y1="1966.4" x2="169.9" y2="1975.4" stroke="#000" stroke-width="2.9"/>
<text transform="translate(174.4 1996.4) rotate(-52)" font-size="21" text-anchor="end">24-46</text>
<line x1="209.6" y1="1966.4" x2="209.6" y2="1975.4" stroke="#000" stroke-width="2.9"/>
<text transform="translate(214.1 1996.4) rotate(-52)" font-size="21" text-anchor="end">48-70</text>
<line x1="249.4" y1="1966.4" x2="249.4" y2="1975.4" stroke="#000" stroke-width="2.9"/>
<text transform="translate(253.9 1996.4) rotate(-52)" font-size="21" text-anchor="end">72-94</text>
<line x1="289.1" y1="1966.4" x2="289.1" y2="1975.4" stroke="#000" stroke-width="2.9"/>
<text transform="translate(293.6 1996.4) rotate(-52)" font-size="21" text-anchor="end">96-118</text>
<line x1="356.1" y1="1966.4" x2="356.1" y2="1975.4" stroke="#000" stroke-width="2.9"/>
<text transform="translate(360.6 1996.4) rotate(-52)" font-size="21" text-anchor="end">0-22</text>
<line x1="395.8" y1="1966.4" x2="395.8" y2="1975.4" stroke="#000" stroke-width="2.9"/>
<text transform="translate(400.3 1996.4) rotate(-52)" font-size="21" text-anchor="end">24-46</text>
<line x1="435.6" y1="1966.4" x2="435.6" y2="1975.4" stroke="#000" stroke-width="2.9"/>
<text transform="translate(440.1 1996.4) rotate(-52)" font-size="21" text-anchor="end">48-70</text>
<line x1="475.3" y1="1966.4" x2="475.3" y2="1975.4" stroke="#000" stroke-width="2.9"/>
<text transform="translate(479.8 1996.4) rotate(-52)" font-size="21" text-anchor="end">72-94</text>
<line x1="514.9" y1="1966.4" x2="514.9" y2="1975.4" stroke="#000" stroke-width="2.9"/>
<text transform="translate(519.4 1996.4) rotate(-52)" font-size="21" text-anchor="end">96-118</text>
<text x="245.1" y="1656.0" font-size="21" font-style="italic" textLength="145.6" lengthAdjust="spacing">NF54-10.3-Tom</text>
<text transform="translate(33.9 1869.2) rotate(-90)" font-size="21.2" textLength="148.5" lengthAdjust="spacing">Conversion (%)</text>
<text x="134.6" y="2065.6" font-size="21.2" textLength="86.8" lengthAdjust="spacing">Age (hpi)</text>
<text x="365.4" y="2065.6" font-size="21.2" textLength="87.2" lengthAdjust="spacing">Age (hpi)</text>
<line x1="96.4" y1="2078.8" x2="291.5" y2="2078.8" stroke="#000" stroke-width="2.6"/>
<line x1="339.0" y1="2078.8" x2="534.8" y2="2078.8" stroke="#000" stroke-width="2.6"/>
<text x="145.7" y="2101.3" font-size="21.2" textLength="90.7" lengthAdjust="spacing">+ Choline</text>
<text x="389.3" y="2101.3" font-size="21.2" textLength="86.1" lengthAdjust="spacing">- Choline</text>
<rect x="676.9" y="1964.4" width="29.3" height="2.1" fill="#ff0000" rx="1.2"/>
<rect x="715.6" y="1958.9" width="29.3" height="7.6" fill="#ff0000" rx="1.2"/>
<path d="M730.2 1961.4V1956.3M724.7 1956.3h11.0" stroke="#000" stroke-width="1.2" fill="none"/>
<rect x="754.1" y="1925.4" width="29.3" height="41.1" fill="#ff0000" rx="1.2"/>
<path d="M768.8 1927.9V1910.6M763.3 1910.6h11.0" stroke="#000" stroke-width="1.2" fill="none"/>
<rect x="792.5" y="1909.9" width="29.3" height="56.6" fill="#ff0000" rx="1.2"/>
<path d="M807.1 1912.4V1877.1M801.6 1877.1h11.0" stroke="#000" stroke-width="1.2" fill="none"/>
<rect x="831.1" y="1909.9" width="29.3" height="56.6" fill="#ff0000" rx="1.2"/>
<path d="M845.7 1912.4V1880.5M840.2 1880.5h11.0" stroke="#000" stroke-width="1.2" fill="none"/>
<rect x="896.6" y="1964.4" width="29.3" height="2.1" fill="#9e0000" rx="1.2"/>
<rect x="934.9" y="1960.7" width="29.3" height="5.8" fill="#9e0000" rx="1.2"/>
<path d="M949.5 1963.2V1960.0M944.0 1960.0h11.0" stroke="#000" stroke-width="1.2" fill="none"/>
<rect x="973.6" y="1901.1" width="29.3" height="65.4" fill="#9e0000" rx="1.2"/>
<path d="M988.2 1903.6V1900.3M982.7 1900.3h11.0" stroke="#000" stroke-width="1.2" fill="none"/>
<rect x="1011.8" y="1766.4" width="29.3" height="200.1" fill="#9e0000" rx="1.2"/>
<path d="M1026.4 1768.9V1715.2M1020.9 1715.2h11.0" stroke="#000" stroke-width="1.2" fill="none"/>
<rect x="1050.4" y="1763.0" width="29.3" height="203.5" fill="#9e0000" rx="1.2"/>
<path d="M1065.1 1765.5V1693.1M1059.6 1693.1h11.0" stroke="#000" stroke-width="1.2" fill="none"/>
<line x1="659.6" y1="1664.2" x2="659.6" y2="1967.9" stroke="#000" stroke-width="2.9"/>
<line x1="651.2" y1="1966.5" x2="1100.8" y2="1966.5" stroke="#000" stroke-width="2.8"/>
<line x1="651.2" y1="1966.5" x2="659.6" y2="1966.5" stroke="#000" stroke-width="2.6"/>
<text x="642.9" y="1970.9" font-size="21.2" text-anchor="end">0</text>
<line x1="651.2" y1="1891.2" x2="659.6" y2="1891.2" stroke="#000" stroke-width="2.6"/>
<text x="638.3" y="1895.0" font-size="21.2" text-anchor="end">5</text>
<line x1="651.2" y1="1816.0" x2="659.6" y2="1816.0" stroke="#000" stroke-width="2.6"/>
<text x="638.3" y="1817.9" font-size="21.2" text-anchor="end">10</text>
<line x1="651.2" y1="1740.8" x2="659.6" y2="1740.8" stroke="#000" stroke-width="2.6"/>
<text x="638.0" y="1742.5" font-size="21.2" text-anchor="end">15</text>
<line x1="651.2" y1="1665.5" x2="659.6" y2="1665.5" stroke="#000" stroke-width="2.6"/>
<text x="639.6" y="1672.0" font-size="21.2" text-anchor="end">20</text>
<line x1="691.5" y1="1966.5" x2="691.5" y2="1975.5" stroke="#000" stroke-width="2.9"/>
<text transform="translate(696.0 1996.5) rotate(-52)" font-size="21" text-anchor="end">0-22</text>
<line x1="730.2" y1="1966.5" x2="730.2" y2="1975.5" stroke="#000" stroke-width="2.9"/>
<text transform="translate(734.7 1996.5) rotate(-52)" font-size="21" text-anchor="end">24-46</text>
<line x1="768.8" y1="1966.5" x2="768.8" y2="1975.5" stroke="#000" stroke-width="2.9"/>
<text transform="translate(773.3 1996.5) rotate(-52)" font-size="21" text-anchor="end">48-70</text>
<line x1="807.1" y1="1966.5" x2="807.1" y2="1975.5" stroke="#000" stroke-width="2.9"/>
<text transform="translate(811.6 1996.5) rotate(-52)" font-size="21" text-anchor="end">72-94</text>
<line x1="845.7" y1="1966.5" x2="845.7" y2="1975.5" stroke="#000" stroke-width="2.9"/>
<text transform="translate(850.2 1996.5) rotate(-52)" font-size="21" text-anchor="end">96-118</text>
<line x1="911.3" y1="1966.5" x2="911.3" y2="1975.5" stroke="#000" stroke-width="2.9"/>
<text transform="translate(915.8 1996.5) rotate(-52)" font-size="21" text-anchor="end">0-22</text>
<line x1="949.5" y1="1966.5" x2="949.5" y2="1975.5" stroke="#000" stroke-width="2.9"/>
<text transform="translate(954.0 1996.5) rotate(-52)" font-size="21" text-anchor="end">24-46</text>
<line x1="988.2" y1="1966.5" x2="988.2" y2="1975.5" stroke="#000" stroke-width="2.9"/>
<text transform="translate(992.7 1996.5) rotate(-52)" font-size="21" text-anchor="end">48-70</text>
<line x1="1026.4" y1="1966.5" x2="1026.4" y2="1975.5" stroke="#000" stroke-width="2.9"/>
<text transform="translate(1030.9 1996.5) rotate(-52)" font-size="21" text-anchor="end">72-94</text>
<line x1="1065.1" y1="1966.5" x2="1065.1" y2="1975.5" stroke="#000" stroke-width="2.9"/>
<text transform="translate(1069.6 1996.5) rotate(-52)" font-size="21" text-anchor="end">96-118</text>
<text x="825.8" y="1654.5" font-size="21" font-style="italic" textLength="122.8" lengthAdjust="spacing">E5-10.3-Tom</text>
<text x="702.5" y="2067.4" font-size="21.2" textLength="86.8" lengthAdjust="spacing">Age (hpi)</text>
<text x="933.3" y="2067.4" font-size="21.2" textLength="87.1" lengthAdjust="spacing">Age (hpi)</text>
<line x1="660.2" y1="2078.5" x2="855.3" y2="2078.5" stroke="#000" stroke-width="2.6"/>
<line x1="903.2" y1="2078.5" x2="1099.0" y2="2078.5" stroke="#000" stroke-width="2.6"/>
<text x="708.8" y="2101.3" font-size="21.2" textLength="90.7" lengthAdjust="spacing">+ Choline</text>
<text x="952.8" y="2101.3" font-size="21.2" textLength="86.1" lengthAdjust="spacing">- Choline</text>
</svg>
</body></html>
